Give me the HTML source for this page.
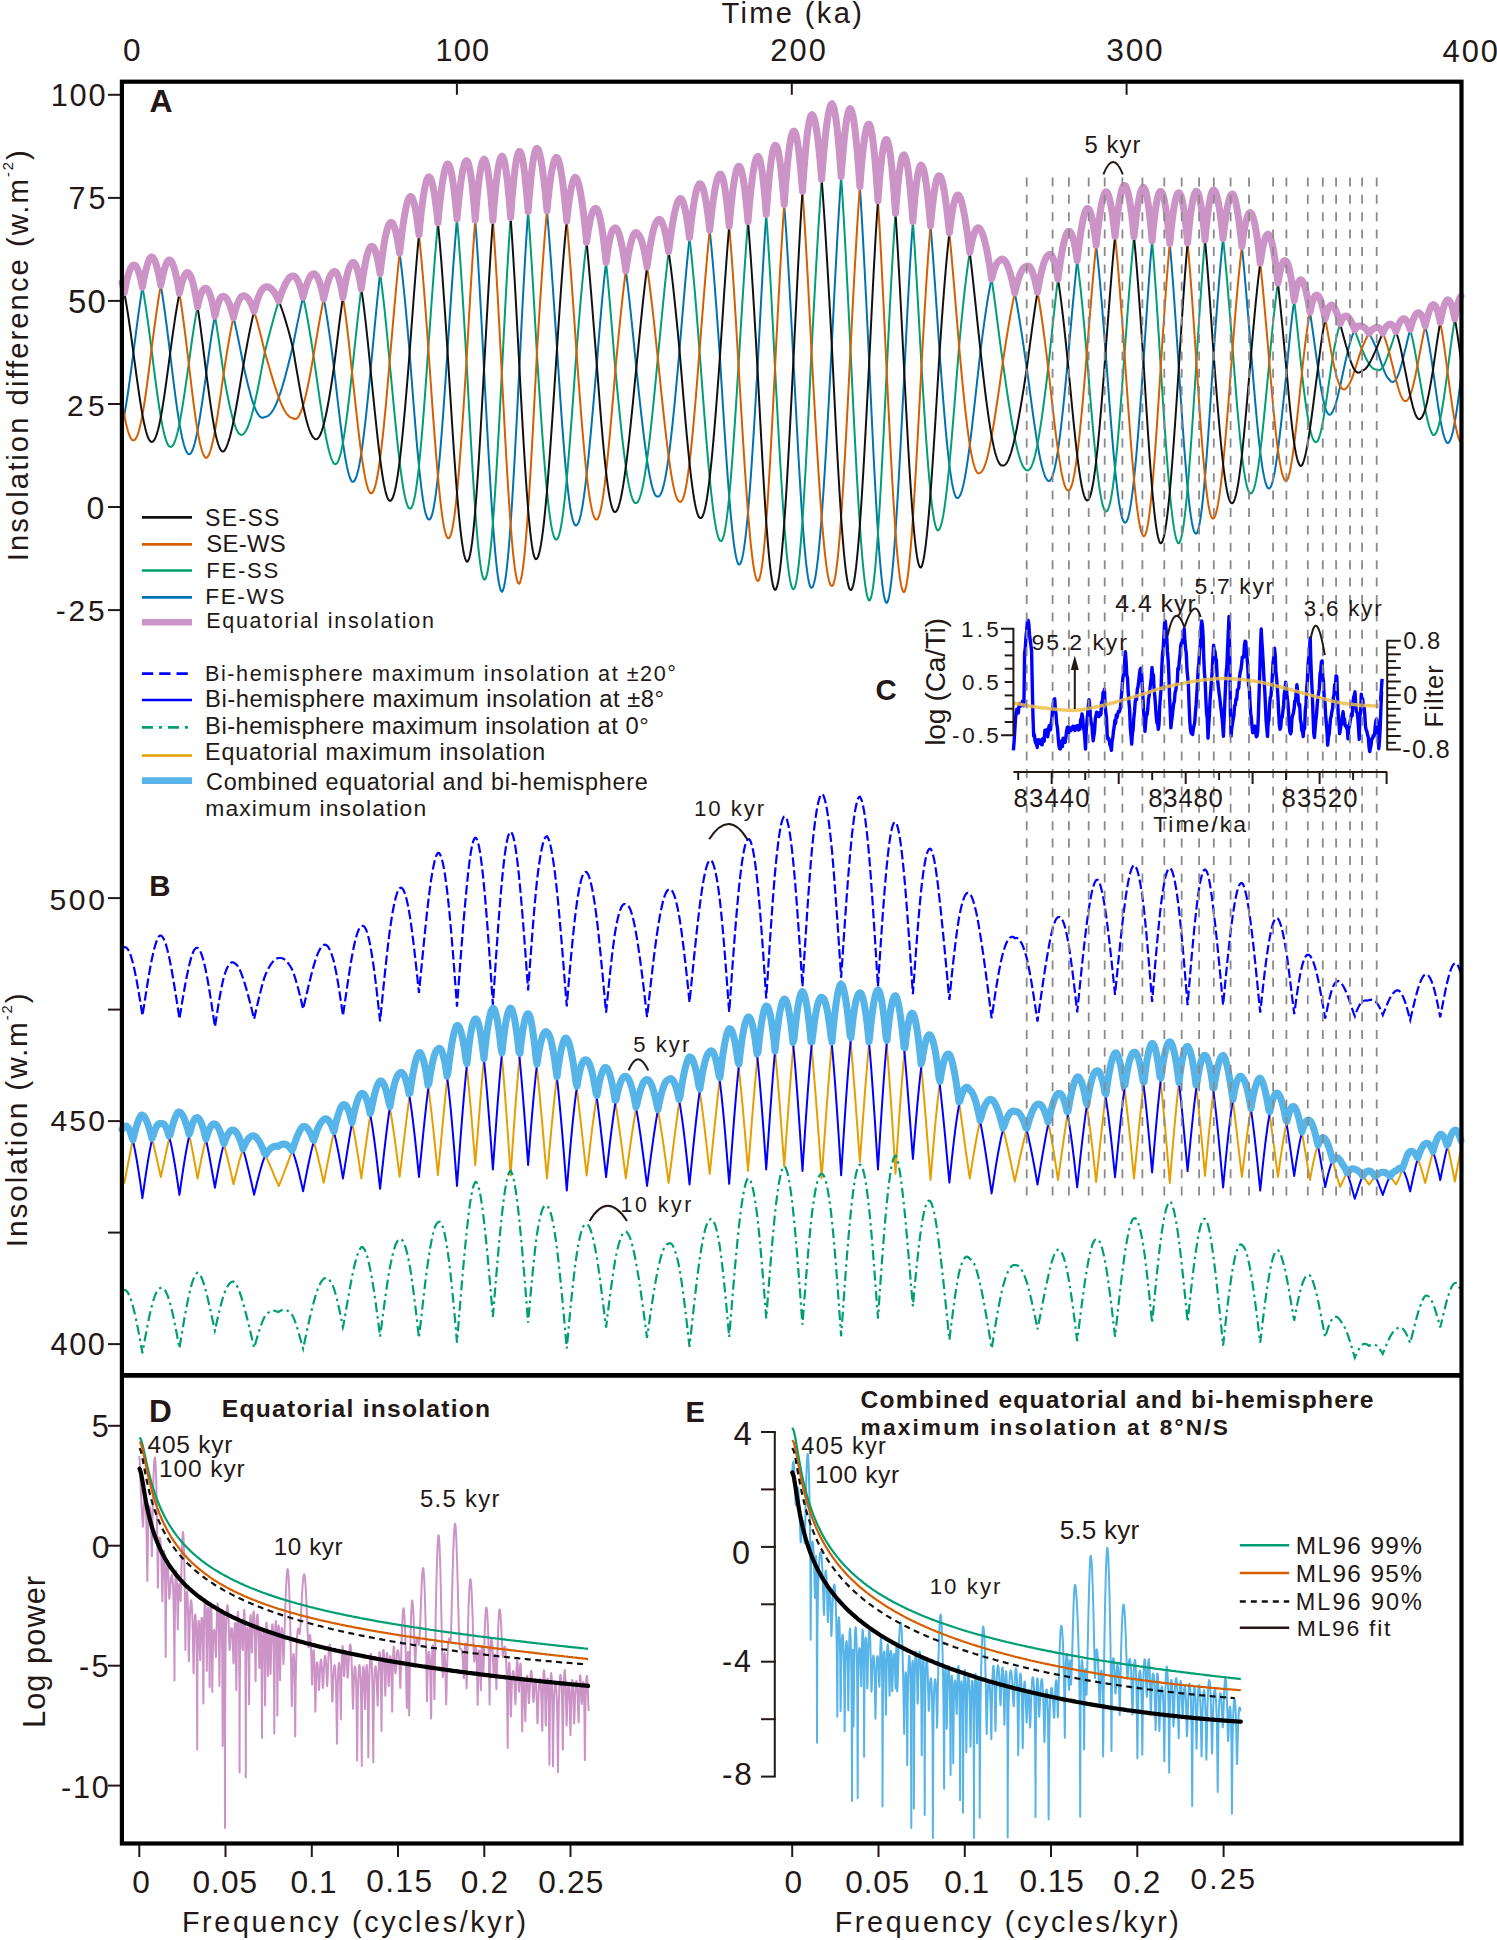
<!DOCTYPE html><html><head><meta charset="utf-8"><style>html,body{margin:0;padding:0;background:#fff}svg{display:block}text{font-family:"Liberation Sans",sans-serif;fill:#231815}</style></head><body>
<svg width="1497" height="1940" viewBox="0 0 1497 1940">
<g fill="none" stroke-width="2" stroke-linejoin="round">
<path stroke="#0072b2" d="M122,425.9 123,421.5 124,416.6 124.3,415.1 125,411.2 126,405.3 127,399.1 128,392.5 129,385.6 130,378.4 131,371 132,363.5 133,355.8 134,348.1 135,340.3 136,332.6 137,324.9 138,317.4 139,310.1 140,303.1 141,296.4 142,290.1 142.4,287.3 143,284.2 144,278.7 145,273.8 146,269.5 147,265.7 148,262.5 149,260 150,258.2 151,257 152,256.9 153,257.7 154,259.2 155,261.3 156,264 157,267.4 158,271.4 159,275.9 160,281 160.8,285.4 161,286.6 162,292.6 163,299.1 164,306 165,313.2 166,320.7 167,328.4 168,336.3 169,344.3 170,352.6 171,360.9 172,369.2 173,377.4 174,385.4 175,393.1 176,400.6 177,407.8 178,414.5 179,420.9 179.4,423.6 180,426.7 181,432.1 182,437 183,441.3 184,445 185,448.2 186,450.7 187,452.5 188,453.8 189,454.3 190,454 191,453 192,451.3 193,448.9 194,445.9 195,442.3 196,438.1 197,433.3 197.6,430.5 198,428.1 199,422.5 200,416.5 201,410.1 202,403.5 203,396.7 204,389.7 205,382.6 206,375.3 207,367.8 208,360.3 209,353 210,345.9 211,339.1 212,332.6 213,326.6 214,321 214.9,316.2 215,315.9 216,311.4 217,307.4 218,304 219,301.1 220,299 221,297.4 222,296.6 223,296.3 224,296.5 225,296.9 226,297.8 227,299.1 228,300.9 229,303.1 230,305.7 231,308.7 232,312 233,315.7 233.5,317.6 234,319.6 235,323.8 236,328.3 237,332.9 238,337.7 239,342.6 240,347.6 241,352.7 242,357.8 243,362.9 244,367.7 245,372.2 246,376.6 247,380.8 248,384.9 249,388.8 250,392.6 251,396.2 252,399.6 253,402.7 254,405.6 254.1,405.8 255,408.2 256,410.5 257,412.5 258,414.2 259,415.6 260,416.6 261,417.3 262,417.7 263,417.7 264,417.3 265,416.8 266,416.7 267,416.4 268,415.9 269,415.1 270,414.2 271,413.1 272,411.7 273,410.2 274,408.4 275,406.5 276,404.3 277,402 278,399.4 278.8,397.4 279,396.7 280,393.9 281,390.9 282,387.7 283,384.3 284,380.9 285,377.3 286,373.6 287,369.7 288,365.8 289,361.8 290,357.8 291,353.8 292,349.8 293,345.5 294,340.5 295,335.4 296,330.4 297,325.4 298,320.4 299,315.6 300,310.8 301,306.2 302,301.8 303,297.7 303.1,297.3 304,293.7 305,290.1 306,286.7 307,283.7 308,281.1 309,278.8 310,276.9 311,275.5 312,274.5 313,273.9 314,273.8 315,274.2 316,275.1 317,276.5 318,278.5 319,280.9 320,283.8 321,287.2 322,291.1 323,295.5 323.7,298.9 324,300.4 325,305.7 326,311.4 327,317.5 328,324 329,330.8 330,337.9 331,345.2 332,352.8 333,360.6 334,368.4 335,377.1 336,385.8 337,394.5 338,403.1 339,411.6 340,419.9 341,427.9 342,435.6 342.9,442.5 343,442.9 344,449.7 345,456 346,461.7 347,466.8 348,471.3 349,475 350,478 351,480.2 352,481.6 353,481.8 354,481.3 355,479.9 356,477.8 357,474.8 358,471.1 359,466.6 360,461.3 361,455.3 361.3,453.4 362,448.6 363,441.3 364,433.4 365,424.9 366,416 367,406.6 368,396.8 369,386.7 370,376.3 371,365.9 372,355.4 373,344.7 374,334 375,323.4 376,313 377,302.8 378,293 379,283.5 380,274.5 380.1,273.7 381,266.1 382,258.2 383,251 384,244.5 385,238.8 386,233.8 387,229.7 388,226.5 389,224.2 390,222.8 391,222.3 392,222.6 393,223.8 394,225.9 395,228.9 396,232.7 397,237.4 398,242.8 399,249.1 399.6,253.2 400,256.1 401,263.9 402,272.3 403,281.4 404,291 405,301.2 406,311.8 407,322.8 408,334.1 409,345.7 410,357.9 411,370.8 412,383.7 413,396.6 414,409.2 415,421.6 416,433.6 417,445.2 418,456.2 419,466 419,466.5 420,476.1 421,485 422,492.9 423,499.9 424,505.9 425,510.9 426,514.7 427,517.4 428,519 429,519.6 430,519.2 431,517.6 432,514.9 433,511 434,505.9 435,499.8 436,492.6 437,484.3 437.9,476 438,475.1 439,464.9 440,453.8 441,442 442,429.3 443,416.1 444,402.3 445,388 446,373.3 447,358.3 448,343.4 449,328.4 450,313.4 451,298.6 452,284.1 453,269.9 454,256.2 455,243.1 456,230.6 457,218.9 458,208 459,198.1 460,189.2 461,181.3 462,174.7 463,169.2 464,165 465,162.2 466,160.8 467,160.7 468,162.3 469,165.4 470,170.2 471,176.5 472,184.4 473,193.8 474,204.6 475,216.8 475.2,220 476,230.2 477,244.8 478,260.4 479,277 480,294.4 481,312.5 482,331.1 483,350.1 484,369.4 485,388.2 486,407 487,425.5 488,443.7 489,461.4 490,478.5 491,494.8 492,510.1 492.9,523.1 493,524.5 494,537.7 495,549.7 496,560.4 497,569.6 498,577.3 499,583.5 500,588 501,590.9 502,591.9 503,590.2 504,586.8 505,581.7 506,574.9 507,566.6 508,556.7 509,545.3 510,532.6 510.6,524.3 511,518.6 512,503.4 513,487.2 514,470 515,452.1 516,433.6 517,414.5 518,395.1 519,375.5 520,355.5 521,335.4 522,315.8 523,296.7 524,278.2 525,260.5 526,243.8 527,228.1 528,213.6 528.1,211.5 529,200.3 530,188.4 531,177.9 532,168.9 533,161.5 534,155.8 535,151.6 536,149.1 537,148.3 538,149.2 539,151.6 540,155.3 541,160.2 542,166.1 543,173.2 544,181.3 545,190.4 546,200.4 547,210.7 547,211.3 548,222.9 549,235.2 550,248.1 551,261.6 552,275.5 553,289.7 554,304.2 555,318.9 556,333.6 557,348.3 558,363.8 559,379 560,393.8 561,408.3 562,422.2 563,435.5 564,448.2 565,460.1 566,471.1 566.8,478.8 567,481.3 568,490.5 569,498.7 570,505.9 571,512 572,517 573,520.8 574,523.5 575,525.1 576,525.5 577,525 578,523.7 579,521.4 580,518.1 581,513.9 582,508.8 583,502.8 584,496 585,488.4 586,480.1 586.6,474.4 587,471.2 588,461.8 589,451.8 590,441.4 591,430.6 592,419.6 593,408.3 594,396.9 595,385.4 596,373.7 597,361.8 598,349.1 599,336.7 600,324.6 601,312.9 602,301.7 603,291 604,281 605,271.8 606,263.3 606.1,262.5 607,255.6 608,248.8 609,243 610,238.1 611,234.1 612,231.2 613,229.4 614,228.5 615,227.8 616,228.1 617,229.2 618,231.1 619,233.8 620,237.2 621,241.3 622,246.2 623,251.7 624,257.9 625,264.6 625.8,270.8 626,271.9 627,279.7 628,288 629,296.7 630,305.8 631,315.2 632,324.8 633,334.6 634,344.6 635,354.7 636,364.8 637,374.7 638,384.4 639,393.8 640,402.9 641,411.9 642,420.7 643,429.2 644,437.4 645,445.2 646,452.6 647,459.5 647,459.9 648,466 649,471.9 650,477.3 651,482.1 652,486.2 653,489.7 654,492.5 655,494.6 656,495.9 657,496.6 658,496.6 659,496.4 660,495.3 661,493.6 662,491.1 663,487.9 664,484 665,479.3 666,474 667,468 668,461.3 668.6,456.7 669,454.1 670,446.2 671,437.8 672,428.9 673,419.5 674,409.7 675,399.5 676,388.9 677,378.1 678,367.1 679,355.8 680,344.2 681,332.2 682,320.3 683,308.4 684,296.6 685,285.1 686,273.8 687,262.9 688,252.5 689,242.5 689.5,237.8 690,233.1 691,224.4 692,216.4 693,209.1 694,202.7 695,197.1 696,192.4 697,188.6 698,185.9 699,184.2 700,183.7 701,184.3 702,185.8 703,188.3 704,191.8 705,196.3 706,201.8 707,208.3 708,215.6 709,223.9 709.7,230.2 710,233 711,243 712,253.6 713,265 714,277 715,289.6 716,302.7 717,316.3 718,330.2 719,344.4 720,358.9 721,374.9 722,390.9 723,406.8 724,422.4 725,437.8 726,452.8 727,467.2 728,480.9 729,494 729.2,496.5 730,506.1 731,517.4 732,527.6 733,536.7 734,544.6 735,551.3 736,556.7 737,560.8 738,563.5 739,564.6 740,564.1 741,562.2 742,559 743,554.4 744,548.5 745,541.3 746,532.9 747,523.2 748,512.4 749,500.6 750,487.7 751,473.9 752,459.3 753,443.9 754,428 755,411.5 756,394.6 757,377.4 758,359.2 759,340.1 760,321.1 761,302.3 762,284.1 763,266.4 764,249.4 765,233.3 766,218.2 766.2,214.6 767,204.3 768,191.6 769,180.2 770,170.3 771,162 772,155.3 773,150.3 774,147 775,145.3 776,145.4 777,147 778,150.3 779,155.2 780,161.6 781,169.5 782,178.9 783,189.7 784,201.8 784.2,204.4 785,215.1 786,229.6 787,245 788,261.4 789,278.6 790,296.4 791,314.8 792,333.6 793,352.6 794,371.9 795,391.3 796,410.5 797,429.4 798,447.8 799,465.6 800,482.7 801,498.9 802,514 802.5,520.5 803,528 804,540.8 805,552.2 806,562.2 807,570.7 808,577.5 809,582.7 810,586.1 811,587.8 812,587.8 813,586.3 814,583.3 815,579 816,573.3 817,566.2 818,557.9 819,548.2 820,537.4 821,525.4 821.6,517 822,512.3 823,498.3 824,483.2 825,467.4 826,450.8 827,433.5 828,415.7 829,397.5 830,378.9 831,360 832,340.8 833,320.9 834,301 835,281.5 836,262.5 837,244 838,226.3 839,209.4 840,193.5 841,178.6 841.1,176.5 842,165 843,152.6 844,141.6 845,132.1 846,124.1 847,117.6 848,112.8 849,109.7 850,108.7 851,109.6 852,112.1 853,116.2 854,122.1 855,129.5 856,138.5 857,149 858,161 859,174.3 859.9,186.6 860,188.9 861,204.6 862,221.4 863,239.1 864,257.7 865,276.9 866,296.7 867,317 868,337.5 869,358.2 870,379.8 871,401.5 872,422.8 873,443.5 874,463.6 875,482.8 876,501 877,518 878,533 878,533.8 879,548.2 880,561.1 881,572.4 882,582 883,589.9 884,596 885,600.2 886,602.6 887,602.9 888,600.8 889,596.9 890,591.2 891,583.9 892,574.8 893,564.3 894,552.2 895,538.9 895.5,531.7 896,524.3 897,508.5 898,491.8 899,474.3 900,456.1 901,437.3 902,418.2 903,398.8 904,379.4 905,359.4 906,339.3 907,319.8 908,300.8 909,282.6 910,265.3 911,249.1 912,234 912.9,221.6 913,220.2 914,207.8 915,196.9 916,187.5 917,179.7 918,173.5 919,169 920,166.2 921,165.1 922,165.7 923,167.8 924,171.3 925,176.2 926,182.5 927,190 928,198.8 929,208.6 930,219.4 930.5,225.7 931,231.1 932,243.6 933,256.8 934,270.6 935,284.8 936,299.3 937,314 938,328.7 939,343.5 940,357.7 941,371.2 942,384.4 943,397.3 944,409.7 945,421.6 946,432.8 947,443.3 948,453 949,461.9 949.4,464.8 950,469.9 951,476.9 952,483 953,488 954,492.1 955,495.1 956,497.2 957,498.1 958,498.1 959,497.1 960,495.5 961,493.3 962,490.3 963,486.5 964,482.1 965,477 966,471.3 967,465 968,458.2 969,450.9 969.8,444.8 970,443.2 971,435.2 972,426.8 973,418.2 974,409.4 975,400.4 976,391.4 977,382.3 978,373.3 979,364.3 980,355.4 981,347.1 982,339.3 983,331.6 984,324.3 985,317.1 986,310.3 987,303.8 988,297.7 989,292 990,286.7 991,281.8 991.6,278.9 992,277.5 993,273.6 994,270.2 995,267.3 996,264.9 997,263.1 998,261.8 999,261.1 1000,260.3 1001,259.4 1002,259.1 1003,259.2 1004,259.8 1005,260.9 1006,262.4 1007,264.3 1008,266.7 1009,269.5 1010,272.6 1011,276.2 1012,280.1 1013,284.4 1014,289 1014.8,293 1015,294 1016,299.2 1017,304.7 1018,310.5 1019,316.5 1020,322.8 1021,329.2 1022,335.7 1023,342.4 1024,349.2 1025,356 1026,362.9 1027,369.6 1028,377.2 1029,384.7 1030,392.3 1031,399.7 1032,407.1 1033,414.3 1034,421.4 1035,428.2 1036,434.8 1037,441 1037.5,444 1038,447 1039,452.5 1040,457.6 1041,462.3 1042,466.6 1043,470.3 1044,473.5 1045,476.2 1046,478.3 1047,479.8 1048,480.7 1049,481 1050,480.5 1051,479.3 1052,477.3 1053,474.6 1054,471.1 1055,466.8 1056,461.9 1057,456.2 1058,450.2 1058,449.9 1059,442.9 1060,435.3 1061,427.1 1062,418.4 1063,409.2 1064,399.6 1065,389.6 1066,379.3 1067,368.7 1068,357.9 1069,346.8 1070,335.6 1071,324.5 1072,313.4 1073,302.6 1074,292 1075,281.7 1076,271.8 1077,262.5 1077.2,260.6 1078,253.6 1079,245.4 1080,237.9 1081,231 1082,225 1083,219.9 1084,215.6 1085,212.2 1086,209.8 1087,208.5 1088,208.4 1089,209.4 1090,211.3 1091,214.3 1092,218.3 1093,223.3 1094,229.2 1095,236.1 1096,243.9 1096.1,245.1 1097,252.5 1098,261.8 1099,271.9 1100,282.7 1101,294.1 1102,305.9 1103,318.3 1104,330.9 1105,343.9 1106,357 1107,370.3 1108,383.7 1109,396.9 1110,409.9 1111,422.6 1112,434.9 1113,446.6 1114,457.8 1115,468.3 1115,468.8 1116,478.1 1117,487 1118,495.1 1119,502.2 1120,508.3 1121,513.4 1122,517.4 1123,520.3 1124,522.1 1125,522.7 1126,522.3 1127,520.7 1128,518 1129,514.2 1130,509.2 1131,503.2 1132,496.2 1133,488.1 1134,479.2 1135,469.4 1136,458.8 1137,447.4 1138,435.5 1139,422.9 1140,409.9 1141,396.5 1142,382.8 1143,368.9 1144,354.1 1145,338.5 1146,323.1 1147,308.1 1148,293.5 1149,279.4 1150,266 1151,253.5 1152,241.8 1152.1,240.7 1153,231.2 1154,221.6 1155,213.3 1156,206.2 1157,200.4 1158,196 1159,193 1160,191.5 1161,191.4 1162,192.5 1163,195 1164,198.7 1165,203.7 1166,210 1167,217.4 1168,226 1169,235.6 1169.8,243.5 1170,246.2 1171,257.7 1172,270.1 1173,283.1 1174,296.8 1175,311.1 1176,325.7 1177,340.7 1178,355.9 1179,371.1 1180,386.4 1181,401.5 1182,416.2 1183,430.6 1184,444.4 1185,457.5 1186,469.8 1187,481.4 1187.6,487.8 1188,491.9 1189,501.4 1190,509.8 1191,517 1192,523 1193,527.7 1194,531.1 1195,533.1 1196,533.8 1197,532.9 1198,530.5 1199,526.6 1200,521.4 1201,514.9 1202,507.1 1203,498.1 1204,488.1 1205,476.9 1206,464.9 1207,452 1208,438.4 1209,424.2 1210,409.4 1211,394.4 1212,379 1213,363.5 1214,348.6 1215,334.7 1216,321 1217,307.8 1218,294.9 1219,282.5 1220,270.7 1221,259.5 1222,249 1223,239.3 1223.1,238.4 1224,230.4 1225,222.4 1226,215.3 1227,209.2 1228,204.1 1229,200 1230,196.9 1231,194.9 1232,194 1233,194.2 1234,196.1 1235,199.2 1236,203.4 1237,208.5 1238,214.6 1239,221.6 1240,229.5 1241,238.1 1241.9,246.5 1242,247.5 1243,257.4 1244,268 1245,279 1246,290.5 1247,302.3 1248,314.2 1249,326.4 1250,338.6 1251,350.8 1252,363.3 1253,375.7 1254,387.7 1255,399.5 1256,410.7 1257,421.5 1258,431.6 1259,441.1 1260,449.8 1260.2,451.9 1261,457.7 1262,464.8 1263,471.1 1264,476.4 1265,480.8 1266,484.2 1267,486.6 1268,488.1 1269,488.6 1270,488 1271,486.3 1272,483.7 1273,480.1 1274,475.5 1275,470.2 1276,464 1277,457.2 1277.9,450.1 1278,449.7 1279,441.7 1280,433.2 1281,424.3 1282,415.1 1283,405.7 1284,396.1 1285,386.5 1286,377 1287,366.8 1288,355.9 1289,345.4 1290,335.4 1291,326 1292,317.3 1293,309.4 1294,302.3 1294.2,300.6 1295,296.1 1296,290.8 1297,286.5 1298,283.3 1299,281.1 1300,279.9 1301,279.7 1302,280.5 1303,282 1304,284.3 1305,287.4 1306,291.2 1307,295.7 1308,300.8 1309,306.4 1310,312.2 1310,312.5 1311,319 1312,325.7 1313,332.7 1314,339.8 1315,347 1316,354.1 1317,361.2 1318,368 1319,375.2 1320,381.8 1321,388 1322,393.6 1323,398.7 1324,403.2 1325,406.9 1325.2,407.7 1326,409.9 1327,412.2 1328,413.8 1329,414.6 1330,414.7 1331,414 1332,412.7 1333,410.9 1334,408.7 1335,406 1336,402.8 1337,399.2 1338,395.3 1339,391.1 1340,386.7 1340.2,386.1 1341,382.2 1342,377.5 1343,372.8 1344,368.1 1345,363.5 1346,359 1347,354.7 1348,350.6 1349,346.7 1350,343 1351,339.6 1352,336.5 1353,333.8 1354,331.5 1354.8,330 1355,329.6 1356,328.1 1357,326.9 1358,326.2 1359,325.9 1360,325.9 1361,326.2 1362,326.4 1363,326.7 1364,327.2 1365,328 1366,329 1367,330.2 1368,331.6 1369,333.2 1369.1,333.4 1370,335 1371,336.9 1372,338.9 1373,340.9 1374,343.1 1375,345.3 1376,347.4 1377,349.9 1378,352.9 1379,356 1380,359.1 1381,362.1 1382,365.1 1382.8,367.2 1383,367.9 1384,370.5 1385,372.9 1386,375 1387,376.8 1388,378.2 1389,379.2 1390,380.5 1391,381.4 1392,381.9 1393,381.9 1394,381.5 1395,380.7 1396,379.4 1396,379.4 1397,377.6 1398,375.4 1399,372.8 1400,369.7 1401,366.4 1402,362.7 1403,358.8 1404,354.8 1405,350.6 1406,346.4 1407,342.2 1408,338 1409,334 1410,330.1 1410.2,329.5 1411,326.5 1412,323.2 1413,320.2 1414,317.7 1415,315.7 1416,314.2 1417,313.2 1418,312.7 1419,312.8 1420,313.4 1421,314.6 1422,316.4 1423,318.7 1424,321.7 1425,325.2 1425.2,326 1426,329.2 1427,333.8 1428,338.8 1429,344.3 1430,350.2 1431,356.4 1432,362.9 1433,369.8 1434,377 1435,384.2 1436,391.4 1437,398.4 1438,405.1 1439,411.6 1440,417.6 1440.2,419 1441,423.1 1442,428.1 1443,432.5 1444,436.2 1445,439.2 1446,441.4 1447,442.8 1448,443.1 1449,442.3 1450,440.6 1451,438.2 1452,434.9 1453,430.9 1454,426.2 1454.8,421.9 1455,420.8 1456,414.8 1457,408.3 1458,401.3 1459,393.9 1460,386.1 1461,378.3"/>
<path stroke="#009e73" d="M122,306.4 123,300.2 124,294.4 124.3,292.8 125,289 126,284 127,279.6 128,275.7 129,272.4 130,269.7 131,267.6 132,266.1 133,265.3 134,265.1 135,265.3 136,266.2 137,267.8 138,270.1 139,272.9 140,276.4 141,280.5 142,285.1 142.4,287.3 143,290.2 144,295.9 145,302 146,308.5 147,315.4 148,322.5 149,330 150,337.6 151,345.3 152,353.3 153,361.3 154,369.2 155,377 156,384.6 157,392 158,399.1 159,405.9 160,412.2 160.8,417 161,418.2 162,423.7 163,428.6 164,433.1 165,436.9 166,440.2 167,442.8 168,444.8 169,446.1 170,446.8 171,446.9 172,446.4 173,445.2 174,443.4 175,441 176,438 177,434.5 178,430.4 179,425.8 179.4,423.6 180,420.7 181,415.3 182,409.4 183,403.2 184,396.8 185,390.1 186,383.2 187,376.3 188,369.3 189,362.3 190,354.8 191,347.4 192,340.2 193,333.3 194,326.8 195,320.6 196,314.8 197,309.5 197.6,306.8 198,304.7 199,300.5 200,296.9 201,293.9 202,291.5 203,289.9 204,288.8 205,288.3 206,288.2 207,288.8 208,290.1 209,292.1 210,294.7 211,298 212,301.8 213,306.2 214,311.1 214.9,316.2 215,316.5 216,322.2 217,328.4 218,334.8 219,341.5 220,348.4 221,355.5 222,362.6 223,369.7 224,376.3 225,381.9 226,387.4 227,392.7 228,397.8 229,402.8 230,407.4 231,411.8 232,415.8 233,419.6 233.5,421.3 234,422.9 235,425.9 236,428.4 237,430.6 238,432.3 239,433.6 240,434.5 241,434.9 242,434.8 243,434.3 244,433.5 245,432.2 246,430.7 247,428.7 248,426.5 249,423.9 250,420.9 251,417.7 252,414.1 253,410.3 254,406.3 254.1,405.8 255,402 256,397.4 257,392.7 258,387.8 259,382.8 260,377.6 261,372.4 262,367.1 263,361.7 264,356.3 265,351.2 266,347.4 267,343.5 268,339.6 269,335.8 270,331.9 271,328.1 272,324.4 273,320.7 274,317 275,313.5 276,310 277,306.6 278,303.4 278.8,301.1 279,300.3 280,297.3 281,294.5 282,291.8 283,289.3 284,287 285,284.8 286,282.8 287,281.1 288,279.5 289,278.1 290,277 291,276.4 292,276 293,275.9 294,276.1 295,276.8 296,277.8 297,279.3 298,281.2 299,283.5 300,286.3 301,289.4 302,292.9 303,296.8 303.1,297.3 304,301.1 305,305.8 306,310.7 307,316 308,321.5 309,327.3 310,333.3 311,339.5 312,345.9 313,352.4 314,359.2 315,366.1 316,373.2 317,380.2 318,387.2 319,394.1 320,401 321,407.6 322,414.1 323,420.3 323.7,424.5 324,426.3 325,431.9 326,437.3 327,442.2 328,446.7 329,450.8 330,454.4 331,457.5 332,460.1 333,462.1 334,463.6 335,464.2 336,464 337,463.1 338,461.4 339,459 340,455.9 341,452 342,447.4 342.9,442.5 343,442.2 344,436.4 345,429.9 346,422.9 347,415.4 348,407.5 349,399.2 350,390.5 351,381.5 352,372.2 353,362.8 354,353.3 355,343.9 356,334.5 357,325.3 358,316.3 359,307.5 360,299.2 361,291.2 361.3,288.9 362,283.7 363,276.8 364,270.4 365,264.7 366,259.7 367,255.4 368,252 369,249.3 370,247.5 371,246.5 372,246.4 373,246.8 374,248 375,250.1 376,253 377,256.8 378,261.4 379,266.8 380,273 380.1,273.7 381,279.9 382,287.5 383,295.8 384,304.6 385,314 386,323.8 387,334 388,344.6 389,355.5 390,366.2 391,376.8 392,387.3 393,397.8 394,408.3 395,418.5 396,428.6 397,438.3 398,447.6 399,456.5 399.6,461.6 400,464.8 401,472.6 402,479.8 403,486.3 404,492 405,497 406,501.1 407,504.4 408,506.8 409,508.2 410,508.7 411,508.3 412,506.8 413,504.1 414,500.3 415,495.5 416,489.5 417,482.5 418,474.5 419,466 419,465.5 420,455.7 421,444.9 422,433.4 423,421.2 424,408.3 425,394.9 426,381.1 427,366.9 428,352.4 429,338.4 430,324.4 431,310.5 432,296.7 433,283.1 434,269.8 435,256.9 436,244.6 437,232.8 437.9,222.8 438,221.7 439,211.4 440,201.8 441,193.3 442,185.6 443,179.1 444,173.6 445,169.2 446,166.1 447,164.2 448,164 449,165.1 450,167.5 451,171.1 452,176.1 453,182.3 454,189.7 455,198.3 456,208 457,218.9 458,230.7 459,243.5 460,257.2 461,271.6 462,286.8 463,302.5 464,318.8 465,335.5 466,352.5 467,370.3 468,388.8 469,407.1 470,425.3 471,443 472,460.1 473,476.6 474,492.2 475,506.9 475.2,510.4 476,520.5 477,533 478,544.1 479,553.9 480,562.2 481,569 482,574.2 483,577.7 484,579.6 485,579.5 486,577.7 487,574.3 488,569.3 489,562.7 490,554.6 491,545.1 492,534.1 492.9,523.1 493,521.8 494,508.3 495,493.7 496,478.1 497,461.6 498,444.3 499,426.4 500,408 501,389.3 502,370.1 503,350.4 504,330.8 505,311.6 506,292.9 507,274.9 508,257.6 509,241.3 510,226 510.6,217.4 511,211.9 512,199 513,187.6 514,177.5 515,169.1 516,162.2 517,157 518,153.5 519,151.6 520,151.5 521,153.2 522,156.6 523,161.7 524,168.4 525,176.6 526,186.3 527,197.3 528,209.6 528.1,211.5 529,223 530,237.4 531,252.7 532,268.7 533,285.4 534,302.5 535,320 536,337.6 537,355 538,370.6 539,386.1 540,401.3 541,416 542,430.3 543,444 544,457 545,469.3 546,480.8 547,490.9 547,491.4 548,501.1 549,509.8 550,517.4 551,523.9 552,529.4 553,533.7 554,536.8 555,538.8 556,539.6 557,539.2 558,537.9 559,535.3 560,531.6 561,526.7 562,520.7 563,513.7 564,505.6 565,496.6 566,486.8 566.8,478.8 567,476.1 568,464.7 569,452.7 570,440.2 571,427.1 572,413.8 573,400.1 574,386.2 575,372.3 576,358.6 577,345.4 578,332.9 579,320.5 580,308.5 581,296.9 582,285.8 583,275.3 584,265.3 585,256 586,247.4 586.6,242.3 587,239.6 588,232.6 589,226.5 590,221.2 591,216.8 592,213.4 593,210.9 594,209.3 595,208.5 596,208.4 597,209.2 598,211.1 599,214 600,218 601,223 602,228.9 603,235.8 604,243.6 605,252.2 606,261.5 606.1,262.5 607,271.5 608,282 609,293.1 610,304.6 611,316.5 612,328.6 613,340.9 614,353.2 615,365.1 616,376.2 617,386.7 618,397.1 619,407.2 620,417.1 621,426.6 622,435.8 623,444.6 624,452.9 625,460.7 625.8,466.9 626,467.9 627,474.6 628,480.6 629,485.9 630,490.6 631,494.6 632,497.8 633,500.2 634,502 635,502.9 636,503.1 637,502.6 638,501.5 639,499.6 640,497 641,493.7 642,489.7 643,485.1 644,479.8 645,473.9 646,467.3 647,460.2 647,459.9 648,452.6 649,444.5 650,435.9 651,426.9 652,417.5 653,407.8 654,397.9 655,387.7 656,377.3 657,366.8 658,356.2 659,345.7 660,335.3 661,324.9 662,314.5 663,304.3 664,294.3 665,284.5 666,275.1 667,265.9 668,257.2 668.6,251.8 669,248.9 670,241.1 671,233.9 672,227.2 673,221.1 674,215.7 675,211 676,207 677,203.7 678,201.1 679,199.4 680,198.4 681,198.6 682,199.7 683,201.8 684,204.9 685,208.8 686,213.7 687,219.5 688,226.2 689,233.7 689.5,237.8 690,242 691,251.1 692,260.9 693,271.3 694,282.3 695,293.9 696,305.9 697,318.3 698,331 699,344.1 700,357.3 701,370.5 702,383.8 703,397 704,410 705,422.8 706,435.4 707,447.5 708,459.2 709,470.3 709.7,477.8 710,480.9 711,490.8 712,499.9 713,508.3 714,515.8 715,522.4 716,528.1 717,532.8 718,536.5 719,539.1 720,540.7 721,541.2 722,540.4 723,538.2 724,534.7 725,530 726,523.9 727,516.6 728,508.1 729,498.5 729.2,496.5 730,487.8 731,476.1 732,463.5 733,450 734,435.8 735,420.9 736,405.5 737,389.6 738,373.5 739,357.2 740,340.8 741,324.6 742,308.5 743,292.6 744,277.2 745,262.3 746,248 747,234.4 748,221.6 749,209.8 750,198.9 751,189.1 752,180.5 753,173.1 754,167 755,162.3 756,158.9 757,156.9 758,156.4 759,157.5 760,160.3 761,164.8 762,171 763,178.8 764,188.1 765,199 766,211.3 766.2,214.6 767,225 768,239.9 769,255.8 770,272.8 771,290.7 772,309.2 773,328.4 774,347.9 775,367.7 776,386.3 777,404.8 778,423.1 779,441 780,458.5 781,475.3 782,491.4 783,506.6 784,520.8 784.2,523.5 785,534 786,545.9 787,556.5 788,565.8 789,573.6 790,579.9 791,584.6 792,587.7 793,589.2 794,588.9 795,587 796,583.3 797,577.9 798,570.8 799,562.1 800,551.8 801,540.1 802,526.9 802.5,520.5 803,512.3 804,496.5 805,479.6 806,461.7 807,443 808,423.5 809,403.3 810,382.8 811,361.9 812,342.1 813,323.5 814,305 815,286.8 816,268.9 817,251.4 818,234.6 819,218.3 820,202.9 821,188.2 821.6,179.2 822,174.5 823,161.9 824,150.3 825,139.8 826,130.6 827,122.7 828,116.1 829,110.9 830,107 831,104.6 832,103.8 833,105.2 834,108.3 835,113.1 836,119.5 837,127.6 838,137.1 839,148.2 840,160.6 841,174.3 841.1,176.5 842,189.3 843,205.4 844,222.4 845,240.4 846,259.1 847,278.4 848,298.2 849,318.4 850,339.1 851,359.9 852,380.6 853,401.2 854,421.4 855,441.1 856,460.1 857,478.4 858,495.7 859,512.1 859.9,525.1 860,527.3 861,541.3 862,554 863,565.3 864,575.1 865,583.4 866,590.1 867,595.2 868,598.6 869,600.4 870,600 871,597.7 872,593.5 873,587.4 874,579.6 875,570.1 876,559 877,546.3 878,533 878,532.3 879,517 880,500.5 881,483 882,464.6 883,445.5 884,425.9 885,405.9 886,385.6 887,365.3 888,344.9 889,324.8 890,305.3 891,286.4 892,268.3 893,251.2 894,235.1 895,220.3 895.5,213.3 896,206.7 897,194.6 898,183.9 899,174.9 900,167.5 901,161.7 902,157.7 903,155.4 904,154.9 905,156 906,158.7 907,163.2 908,169.4 909,177.2 910,186.6 911,197.4 912,209.6 912.9,221.6 913,223 914,237.4 915,252.8 916,269.1 917,286 918,303.4 919,321.1 920,339.1 921,357.1 922,374.4 923,390.8 924,406.7 925,422.1 926,436.8 927,450.8 928,463.8 929,475.9 930,487 930.5,492.6 931,496.9 932,505.6 933,513.1 934,519.2 935,524.1 936,527.5 937,529.6 938,530.4 939,529.7 940,528 941,525.3 942,521.5 943,516.7 944,510.9 945,504.1 946,496.4 947,487.8 948,478.5 949,468.4 949.4,464.8 950,457.8 951,446.6 952,434.9 953,422.9 954,410.5 955,398 956,385.3 957,372.6 958,360 959,347.4 960,336.5 961,326 962,315.9 963,306 964,296.6 965,287.7 966,279.3 967,271.4 968,264 969,257.3 969.8,252.4 970,251.3 971,245.9 972,241.2 973,237.2 974,233.9 975,231.3 976,229.4 977,228.2 978,227.8 979,228 980,229 981,230.5 982,232.6 983,235.2 984,238.5 985,242.2 986,246.5 987,251.3 988,256.5 989,262.2 990,268.2 991,274.6 991.6,278.9 992,281.3 993,288.4 994,295.6 995,303.1 996,310.7 997,318.5 998,326.4 999,334.3 1000,341.9 1001,349.2 1002,356.5 1003,363.7 1004,370.7 1005,377.7 1006,384.6 1007,391.3 1008,398 1009,404.5 1010,410.8 1011,416.9 1012,422.8 1013,428.4 1014,433.8 1014.8,437.8 1015,438.8 1016,443.6 1017,447.9 1018,452 1019,455.6 1020,458.9 1021,461.8 1022,464.3 1023,466.3 1024,467.9 1025,469.1 1026,469.9 1027,470.3 1028,470.4 1029,469.9 1030,468.9 1031,467.4 1032,465.2 1033,462.6 1034,459.4 1035,455.6 1036,451.3 1037,446.6 1037.5,444 1038,441.4 1039,435.7 1040,429.6 1041,423.1 1042,416.3 1043,409.1 1044,401.6 1045,393.9 1046,386 1047,377.9 1048,369.7 1049,360.5 1050,350.9 1051,341.3 1052,331.8 1053,322.3 1054,313 1055,304 1056,295.2 1057,286.7 1058,279.1 1058,278.7 1059,271.1 1060,264 1061,257.6 1062,251.7 1063,246.5 1064,242 1065,238.2 1066,235.2 1067,233 1068,231.7 1069,231.2 1070,231.6 1071,232.9 1072,235.1 1073,238.2 1074,242.2 1075,247 1076,252.7 1077,259.2 1077.2,260.6 1078,266.5 1079,274.6 1080,283.3 1081,292.6 1082,302.5 1083,312.9 1084,323.7 1085,334.9 1086,346.4 1087,358.1 1088,370.1 1089,382.2 1090,394.2 1091,406 1092,417.5 1093,428.8 1094,439.6 1095,449.9 1096,459.7 1096.1,461.1 1097,468.8 1098,477.2 1099,484.8 1100,491.6 1101,497.4 1102,502.3 1103,506.2 1104,509.1 1105,510.8 1106,511.5 1107,511.1 1108,509.6 1109,507 1110,503.3 1111,498.5 1112,492.6 1113,485.8 1114,478 1115,469.3 1115,468.8 1116,459.7 1117,449.3 1118,438.2 1119,426.4 1120,414 1121,401.2 1122,387.9 1123,374.4 1124,360.7 1125,347.2 1126,333.6 1127,320.2 1128,307 1129,294 1130,281.4 1131,269.3 1132,257.7 1133,246.8 1134,236.6 1135,227.1 1136,218.6 1137,210.9 1138,204.3 1139,198.7 1140,194.1 1141,190.7 1142,188.5 1143,187.4 1144,187.7 1145,189.4 1146,192.5 1147,197.1 1148,203 1149,210.3 1150,218.8 1151,228.6 1152,239.5 1152.1,240.7 1153,251.5 1154,264.5 1155,278.2 1156,292.8 1157,307.9 1158,323.6 1159,339.6 1160,355.9 1161,371.9 1162,387.2 1163,402.3 1164,417.2 1165,431.6 1166,445.6 1167,459 1168,471.7 1169,483.6 1169.8,491.9 1170,494.6 1171,504.7 1172,513.7 1173,521.6 1174,528.4 1175,533.9 1176,538.2 1177,541.3 1178,543 1179,543.3 1180,541.7 1181,538.8 1182,534.6 1183,529 1184,522.1 1185,514 1186,504.8 1187,494.5 1187.6,487.8 1188,483.2 1189,470.9 1190,457.9 1191,444.2 1192,429.8 1193,415 1194,399.8 1195,384.3 1196,368.8 1197,352.9 1198,336.9 1199,321.3 1200,306 1201,291.3 1202,277.2 1203,263.8 1204,251.3 1205,239.8 1206,229.3 1207,220 1208,211.8 1209,204.8 1210,199.2 1211,194.9 1212,191.9 1213,190.4 1214,190.1 1215,191.1 1216,193.1 1217,196.6 1218,201 1219,206.5 1220,212.9 1221,220.3 1222,228.5 1223,237.4 1223.1,238.4 1224,247.1 1225,257.5 1226,268.4 1227,279.7 1228,291.5 1229,303.6 1230,316 1231,328.5 1232,341 1233,353.6 1234,366.8 1235,379.7 1236,392.2 1237,404.4 1238,416 1239,427 1240,437.4 1241,447 1241.9,455 1242,455.8 1243,463.8 1244,470.9 1245,477.1 1246,482.3 1247,486.6 1248,489.8 1249,492 1250,493.2 1251,493.4 1252,492.8 1253,491.1 1254,488.5 1255,484.9 1256,480.4 1257,474.9 1258,468.7 1259,461.6 1260,453.9 1260.2,451.9 1261,445.5 1262,436.5 1263,427.1 1264,417.3 1265,407.1 1266,396.7 1267,386.1 1268,375.5 1269,365 1270,354.3 1271,343.6 1272,333.3 1273,323.4 1274,314 1275,305.1 1276,297 1277,289.5 1277.9,283.1 1278,282.8 1279,276.9 1280,271.9 1281,267.8 1282,264.6 1283,262.3 1284,260.9 1285,260.5 1286,261.1 1287,262.2 1288,264.5 1289,267.8 1290,272.2 1291,277.5 1292,283.8 1293,290.8 1294,298.6 1294.2,300.6 1295,307 1296,315.8 1297,325.1 1298,334.7 1299,344.5 1300,354.4 1301,364.2 1302,373.8 1303,382.4 1304,390.6 1305,398.4 1306,405.7 1307,412.5 1308,418.7 1309,424.2 1310,428.8 1310,429 1311,433.1 1312,436.5 1313,439 1314,440.8 1315,441.8 1316,442.1 1317,441.6 1318,440.4 1319,438 1320,434.8 1321,430.9 1322,426.3 1323,421.1 1324,415.4 1325,409.3 1325.2,407.7 1326,402.8 1327,396.1 1328,389.2 1329,382.3 1330,375.3 1331,368.5 1332,361.8 1333,355.6 1334,349.9 1335,344.5 1336,339.6 1337,335.1 1338,331 1339,327.4 1340,324.2 1340.2,323.8 1341,321.6 1342,319.5 1343,317.9 1344,316.8 1345,316.2 1346,316 1347,316.2 1348,316.9 1349,317.9 1350,319.4 1351,321.1 1352,323.2 1353,325.5 1354,328 1354.8,330 1355,330.7 1356,333.5 1357,336.3 1358,339.1 1359,341.9 1360,344.6 1361,347.1 1362,349.3 1363,351.6 1364,353.9 1365,356.1 1366,358.2 1367,360.2 1368,362 1369,363.6 1369.1,363.8 1370,365.1 1371,366.4 1372,367.5 1373,368.3 1374,368.9 1375,369.3 1376,369.4 1377,369.8 1378,370.2 1379,370.3 1380,370 1381,369.3 1382,368.3 1382.8,367.2 1383,366.8 1384,365.1 1385,363 1386,360.5 1387,357.9 1388,354.9 1389,351.8 1390,349.1 1391,346.3 1392,343.3 1393,340.3 1394,337.3 1395,334.3 1396,331.5 1396,331.4 1397,328.6 1398,326.1 1399,323.9 1400,322 1401,320.5 1402,319.4 1403,318.8 1404,318.7 1405,319.1 1406,320 1407,321.4 1408,323.4 1409,326 1410,329 1410.2,329.5 1411,332.6 1412,336.7 1413,341.2 1414,346.2 1415,351.5 1416,357.2 1417,363.2 1418,368.9 1419,374.6 1420,380.4 1421,386.2 1422,392 1423,397.6 1424,403.1 1425,408.3 1425.2,409.3 1426,413.2 1427,417.8 1428,422 1429,425.7 1430,428.8 1431,431.5 1432,433.5 1433,434.9 1434,435.1 1435,434.5 1436,433.1 1437,431 1438,428.1 1439,424.5 1440,420.2 1440.2,419 1441,415.2 1442,409.7 1443,403.6 1444,397.1 1445,390.1 1446,382.8 1447,375.4 1448,367.6 1449,359.8 1450,352 1451,344.4 1452,337.1 1453,330.2 1454,323.7 1454.8,318.8 1455,317.7 1456,312.3 1457,307.5 1458,303.5 1459,300.1 1460,297.6 1461,296.2"/>
<path stroke="#d55e00" d="M122,402 123,408 124,413.5 124.3,415.1 125,418.7 126,423.4 127,427.5 128,431.2 129,434.2 130,436.7 131,438.5 132,439.8 133,440.3 134,440.3 135,439.7 136,438.4 137,436.4 138,433.8 139,430.5 140,426.6 141,422.2 142,417.2 142.4,414.7 143,411.6 144,405.6 145,399.1 146,392.2 147,384.9 148,377.3 149,369.5 150,361.5 151,353.4 152,345.4 153,337.9 154,330.4 155,323 156,315.8 157,308.8 158,302.2 159,295.8 160,289.9 160.8,285.4 161,284.4 162,279.3 163,274.8 164,270.8 165,267.3 166,264.5 167,262.3 168,260.8 169,259.9 170,260 171,260.9 172,262.5 173,264.7 174,267.6 175,271.1 176,275.1 177,279.8 178,284.9 179,290.6 179.4,293.3 180,296.7 181,303.3 182,310.2 183,317.4 184,325 185,332.7 186,340.7 187,348.9 188,357.2 189,365.5 190,374.1 191,382.6 192,390.9 193,398.9 194,406.6 195,413.9 196,420.8 197,427.2 197.6,430.5 198,433.1 199,438.4 200,443.2 201,447.3 202,450.8 203,453.6 204,455.7 205,457.1 206,457.9 207,457.6 208,456.4 209,454.5 210,452 211,448.8 212,445.1 213,440.8 214,436 214.9,431 215,430.7 216,425 217,419 218,412.6 219,406 220,399.2 221,392.3 222,385.2 223,378.2 224,371.4 225,364.8 226,358.4 227,352.2 228,346.1 229,340.3 230,334.7 231,329.4 232,324.4 233,319.8 233.5,317.6 234,315.5 235,311.6 236,308.1 237,305.1 238,302.4 239,300.2 240,298.4 241,297.1 242,296.3 243,295.8 244,295.8 245,296.2 246,296.6 247,297.3 248,298.4 249,299.7 250,301.4 251,303.4 252,305.7 253,308.3 254,311.1 254.1,311.4 255,314.2 256,317.5 257,321 258,324.6 259,328.4 260,332.3 261,336.3 262,340.4 263,344.5 264,348.7 265,352.7 266,356.2 267,359.6 268,363.1 269,366.6 270,370 271,373.5 272,376.8 273,380.1 274,383.4 275,386.5 276,389.6 277,392.5 278,395.4 278.8,397.4 279,398.1 280,400.7 281,403.1 282,405.4 283,407.5 284,409.5 285,411.2 286,412.8 287,414.2 288,415.3 289,416.3 290,417.1 291,417.6 292,417.9 293,418.3 294,418.9 295,419.1 296,418.9 297,418.2 298,417.2 299,415.7 300,413.8 301,411.5 302,408.8 303,405.7 303.1,405.4 304,402.3 305,398.5 306,394.4 307,390 308,385.3 309,380.3 310,375.2 311,369.8 312,364.2 313,358.6 314,352.8 315,347 316,341.2 317,335.3 318,329.5 319,323.8 320,318.1 321,312.6 322,307.3 323,302.3 323.7,298.9 324,297.5 325,293 326,288.9 327,285.1 328,281.8 329,278.9 330,276.4 331,274.5 332,273.1 333,272.2 334,271.5 335,271.5 336,272.2 337,273.7 338,275.9 339,278.8 340,282.5 341,286.9 342,292 342.9,297.5 343,297.8 344,304.1 345,311.1 346,318.7 347,326.7 348,335.2 349,344.1 350,353.3 351,362.8 352,372.2 353,381.4 354,390.6 355,399.8 356,409 357,418 358,426.8 359,435.3 360,443.4 361,451.2 361.3,453.4 362,458.4 363,465.1 364,471.2 365,476.7 366,481.5 367,485.5 368,488.8 369,491.2 370,492.8 371,493.4 372,493 373,491.8 374,489.7 375,486.8 376,482.9 377,478.3 378,472.8 379,466.5 380,459.5 380.1,458.7 381,451.7 382,443.2 383,434.1 384,424.4 385,414.1 386,403.4 387,392.3 388,380.9 389,369.2 390,357.5 391,346 392,334.6 393,323.1 394,311.7 395,300.5 396,289.6 397,279 398,268.7 399,258.9 399.6,253.2 400,249.6 401,240.9 402,232.8 403,225.3 404,218.7 405,212.8 406,207.7 407,203.5 408,200.2 409,197.9 410,196.6 411,196.5 412,197.5 413,199.7 414,202.9 415,207.3 416,212.7 417,219.2 418,226.7 419,234.7 419,235.2 420,244.5 421,254.8 422,265.8 423,277.5 424,289.8 425,302.7 426,316.1 427,329.8 428,343.8 429,358 430,372.2 431,386.4 432,400.5 433,414.4 434,427.9 435,441.1 436,453.7 437,465.8 437.9,476 438,477.2 439,487.8 440,497.5 441,506.4 442,514.3 443,521.2 444,526.9 445,531.5 446,534.9 447,537.2 448,538.3 449,538.2 450,536.9 451,534.3 452,530.4 453,525.3 454,518.9 455,511.4 456,502.7 457,492.9 458,482.1 459,470.4 460,457.8 461,444.4 462,430.3 463,415.6 464,400.4 465,384.8 466,369 467,352.3 468,334.7 469,317.3 470,300.2 471,283.4 472,267.2 473,251.7 474,237 475,223.3 475.2,220 476,210.6 477,199.2 478,189 479,180.2 480,172.8 481,167 482,162.7 483,160.2 484,159.2 485,159.8 486,162.1 487,166.1 488,171.6 489,178.7 490,187.3 491,197.5 492,209 492.9,220.4 493,221.8 494,235.8 495,251 496,267.1 497,284.2 498,302 499,320.4 500,339.3 501,358.6 502,377.9 503,396.9 504,415.8 505,434.2 506,452.2 507,469.5 508,486 509,501.6 510,516.2 510.6,524.3 511,529.5 512,541.6 513,552.4 514,561.6 515,569.4 516,575.5 517,580 518,582.8 519,583.8 520,582.6 521,579.3 522,574.3 523,567.6 524,559.3 525,549.5 526,538.2 527,525.6 528,511.7 528.1,509.5 529,496.7 530,480.7 531,463.8 532,446.1 533,427.8 534,409.1 535,390.1 536,370.8 537,351.8 538,335.5 539,319.5 540,303.8 541,288.5 542,273.8 543,259.6 544,246 545,233.2 546,221.3 547,210.7 547,210.2 548,200 549,190.8 550,182.7 551,175.6 552,169.7 553,164.9 554,161.3 555,158.8 556,157.5 557,157.4 558,159 559,161.9 560,166 561,171.2 562,177.5 563,184.9 564,193.2 565,202.6 566,212.7 566.8,220.9 567,223.7 568,235.4 569,247.7 570,260.6 571,273.9 572,287.7 573,301.6 574,315.8 575,330.1 576,344.6 577,358.8 578,372.7 579,386.3 580,399.6 581,412.5 582,424.9 583,436.7 584,448 585,458.6 586,468.4 586.6,474.4 587,477.5 588,485.8 589,493.2 590,499.8 591,505.4 592,510.2 593,514 594,516.8 595,518.7 596,519.6 597,519.6 598,518.4 599,516.1 600,512.8 601,508.5 602,503.2 603,496.9 604,489.8 605,481.9 606,473.3 606.1,472.4 607,464 608,454.1 609,443.6 610,432.8 611,421.6 612,410.2 613,398.6 614,386.9 615,374.7 616,363.5 617,352.8 618,342.2 619,331.9 620,321.8 621,312 622,302.6 623,293.7 624,285.2 625,277.2 625.8,270.8 626,269.7 627,262.9 628,256.7 629,251.1 630,246.2 631,242.1 632,238.6 633,236 634,234.1 635,232.9 636,232.5 637,232.9 638,234 639,235.2 640,236.8 641,239.1 642,242.1 643,245.8 644,250.1 645,255.1 646,260.7 647,266.8 647,267.1 648,273.5 649,280.6 650,288.3 651,296.3 652,304.7 653,313.5 654,322.5 655,331.7 656,341.1 657,350.7 658,360.2 659,369.9 660,379.6 661,389.3 662,398.9 663,408.3 664,417.6 665,426.6 666,435.4 667,443.7 668,451.7 668.6,456.7 669,459.3 670,466.3 671,472.8 672,478.8 673,484.1 674,488.7 675,492.7 676,496 677,498.6 678,500.4 679,501.4 680,501.9 681,501.7 682,500.6 683,498.6 684,495.6 685,491.7 686,486.8 687,481.1 688,474.4 689,467 689.5,462.9 690,458.7 691,449.7 692,439.9 693,429.5 694,418.5 695,407 696,395 697,382.7 698,370 699,357.1 700,344.4 701,331.8 702,319.2 703,306.7 704,294.3 705,282.1 706,270.2 707,258.7 708,247.7 709,237.2 709.7,230.2 710,227.3 711,218.1 712,209.6 713,201.8 714,195 715,189 716,183.9 717,179.9 718,176.9 719,174.9 720,174 721,174.3 722,176 723,179.1 724,183.4 725,189 726,195.9 727,204.1 728,213.4 729,223.9 729.2,226.1 730,235.5 731,248 732,261.5 733,275.9 734,291 735,306.7 736,323 737,339.7 738,356.7 739,373.6 740,390.3 741,406.9 742,423.4 743,439.6 744,455.4 745,470.7 746,485.3 747,499.3 748,512.4 749,524.6 750,535.9 751,546 752,555 753,562.7 754,569.2 755,574.3 756,578.1 757,580.4 758,581 759,579.8 760,576.9 761,572.3 762,566 763,558.1 764,548.6 765,537.6 766,525.2 766.2,521.9 767,511.4 768,496.4 769,480.3 770,463.2 771,445.3 772,426.6 773,407.3 774,387.7 775,367.7 776,348.3 777,329 778,309.9 779,291.1 780,272.8 781,255.2 782,238.3 783,222.3 784,207.2 784.2,204.4 785,193.3 786,180.6 787,169.1 788,159 789,150.4 790,143.3 791,137.8 792,133.9 793,131.6 794,131 795,132.1 796,134.8 797,139.2 798,145.3 799,153 800,162.3 801,173.1 802,185.3 802.5,191.3 803,198.9 804,213.7 805,229.6 806,246.5 807,264.3 808,282.8 809,301.9 810,321.5 811,341.4 812,360.4 813,378.4 814,396.2 815,413.8 816,431 817,447.8 818,464.1 819,479.6 820,494.5 821,508.4 821.6,517 822,521.5 823,533.5 824,544.5 825,554.3 826,562.8 827,570.1 828,576.1 829,580.7 830,583.8 831,585.6 832,586 833,585 834,582.4 835,578 836,572 837,564.4 838,555.3 839,544.7 840,532.8 841,519.5 841.1,517.4 842,504.9 843,489.3 844,472.7 845,455.2 846,436.9 847,418.1 848,398.7 849,379 850,359.3 851,339.7 852,320.3 853,301.1 854,282.3 855,264 856,246.3 857,229.4 858,213.4 859,198.5 859.9,186.6 860,184.6 861,172 862,160.7 863,150.7 864,142.3 865,135.4 866,130 867,126.4 868,124.3 869,124 870,125.5 871,128.8 872,134.1 873,141.2 874,150 875,160.6 876,172.7 877,186.4 878,200.7 878,201.5 879,217.9 880,235.4 881,254 882,273.4 883,293.5 884,314.2 885,335.2 886,356.5 887,377.7 888,398.3 889,418.6 890,438.4 891,457.5 892,475.8 893,493.2 894,509.5 895,524.6 895.5,531.7 896,538.4 897,550.8 898,561.7 899,571 900,578.7 901,584.7 902,588.9 903,591.4 904,592.2 905,590.6 906,587 907,581.6 908,574.6 909,565.9 910,555.6 911,543.9 912,530.9 912.9,518.1 913,516.7 914,501.3 915,485 916,467.9 917,450.2 918,431.9 919,413.2 920,394.4 921,375.5 922,357 923,339.1 924,321.7 925,304.7 926,288.5 927,273 928,258.4 929,244.8 930,232.2 930.5,225.7 931,220.7 932,210.5 933,201.5 934,193.8 935,187.4 936,182.4 937,178.8 938,176.5 939,175.7 940,176.1 941,177.7 942,180.4 943,184.5 944,189.8 945,196 946,203.2 947,211.2 948,220 949,229.5 949.4,232.9 950,239.6 951,250.2 952,261.4 953,272.9 954,284.6 955,296.6 956,308.8 957,320.9 958,333 959,345 960,356.3 961,367.2 962,377.9 963,388.1 964,398 965,407.4 966,416.3 967,424.6 968,432.4 969,439.5 969.8,444.8 970,446.1 971,451.9 972,457.1 973,461.5 974,465.3 975,468.3 976,470.7 977,472.3 978,473.2 979,473.4 980,472.9 981,472.2 982,471.3 983,469.8 984,467.7 985,465.2 986,462.1 987,458.5 988,454.5 989,450 990,445.1 991,439.9 991.6,436.4 992,434.4 993,428.5 994,422.5 995,416.2 996,409.7 997,403.1 998,396.4 999,389.7 1000,382.7 1001,375.4 1002,368.1 1003,361 1004,354.5 1005,348.1 1006,341.7 1007,335.5 1008,329.3 1009,323.3 1010,317.5 1011,311.9 1012,306.6 1013,301.4 1014,296.6 1014.8,293 1015,292.1 1016,287.9 1017,284 1018,280.5 1019,277.3 1020,274.5 1021,272.2 1022,270.2 1023,268.7 1024,267.6 1025,266.9 1026,266.6 1027,266 1028,265.9 1029,266.3 1030,267.3 1031,268.9 1032,271 1033,273.7 1034,276.9 1035,280.6 1036,284.9 1037,289.6 1037.5,292.2 1038,294.8 1039,300.5 1040,306.6 1041,313 1042,319.9 1043,327 1044,334.5 1045,342.2 1046,350.1 1047,358.2 1048,366.4 1049,375.1 1050,383.9 1051,392.8 1052,401.7 1053,410.4 1054,419 1055,427.4 1056,435.5 1057,443.2 1058,450.2 1058,450.6 1059,457.4 1060,463.8 1061,469.6 1062,474.8 1063,479.3 1064,483.1 1065,486.2 1066,488.5 1067,489.9 1068,490.6 1069,490.4 1070,489.3 1071,487.3 1072,484.4 1073,480.6 1074,475.9 1075,470.3 1076,463.9 1077,456.7 1077.2,455.1 1078,448.7 1079,439.9 1080,430.5 1081,420.5 1082,409.9 1083,398.8 1084,387.2 1085,375.3 1086,363.1 1087,350.8 1088,338.5 1089,326.1 1090,313.9 1091,301.8 1092,289.9 1093,278.4 1094,267.2 1095,256.6 1096,246.5 1096.1,245.1 1097,237.1 1098,228.5 1099,220.6 1100,213.5 1101,207.4 1102,202.2 1103,198 1104,194.8 1105,192.7 1106,191.7 1107,192.2 1108,193.9 1109,196.8 1110,200.7 1111,205.7 1112,211.8 1113,218.8 1114,226.9 1115,235.8 1115,236.3 1116,245.7 1117,256.3 1118,267.6 1119,279.6 1120,292.2 1121,305.3 1122,318.7 1123,332.5 1124,346.7 1125,361.1 1126,375.5 1127,389.7 1128,403.8 1129,417.6 1130,431 1131,444 1132,456.4 1133,468.1 1134,479.2 1135,489.5 1136,498.9 1137,507.3 1138,514.8 1139,521.3 1140,526.6 1141,530.9 1142,534 1143,535.9 1144,536.4 1145,535.4 1146,532.9 1147,529 1148,523.7 1149,517 1150,509.1 1151,499.9 1152,489.7 1152.1,488.6 1153,478.3 1154,466 1155,452.8 1156,439 1157,424.4 1158,409.4 1159,394 1160,378.4 1161,362.8 1162,347.6 1163,332.5 1164,317.8 1165,303.4 1166,289.5 1167,276.2 1168,263.6 1169,251.8 1169.8,243.5 1170,240.8 1171,230.8 1172,221.9 1173,214 1174,207.3 1175,201.9 1176,197.6 1177,194.7 1178,193.1 1179,192.7 1180,193.6 1181,195.9 1182,199.5 1183,204.5 1184,210.7 1185,218.2 1186,226.8 1187,236.5 1187.6,242.8 1188,247.2 1189,258.8 1190,271.2 1191,284.3 1192,298 1193,312.2 1194,326.8 1195,341.6 1196,356.5 1197,371.6 1198,386.6 1199,401.3 1200,415.6 1201,429.4 1202,442.5 1203,454.9 1204,466.4 1205,476.9 1206,486.5 1207,494.9 1208,502.1 1209,508.1 1210,512.7 1211,516.1 1212,518.1 1213,518.7 1214,518 1215,516.2 1216,513.3 1217,509.3 1218,504.2 1219,498.2 1220,491.2 1221,483.3 1222,474.5 1223,465 1223.1,464 1224,454.7 1225,443.8 1226,432.4 1227,420.4 1228,408 1229,395.4 1230,382.5 1231,369.4 1232,356.3 1233,343.2 1234,330.5 1235,318.2 1236,306.1 1237,294.5 1238,283.4 1239,272.9 1240,263.1 1241,254 1241.9,246.5 1242,245.7 1243,238.2 1244,231.6 1245,226 1246,221.3 1247,217.6 1248,214.9 1249,213.2 1250,212.5 1251,212.9 1252,214.4 1253,217 1254,220.6 1255,225.1 1256,230.6 1257,236.9 1258,244.1 1259,252.1 1260,260.8 1260.2,263.1 1261,270.1 1262,280 1263,290.4 1264,301.2 1265,312.3 1266,323.6 1267,335.1 1268,346.7 1269,358.4 1270,370.3 1271,382.1 1272,393.5 1273,404.5 1274,415 1275,424.9 1276,434.2 1277,442.7 1277.9,450.1 1278,450.5 1279,457.4 1280,463.6 1281,468.8 1282,473.1 1283,476.4 1284,478.9 1285,480.4 1286,480.9 1287,480.3 1288,478.3 1289,475.2 1290,471 1291,465.9 1292,459.9 1293,453.1 1294,445.5 1294.2,443.5 1295,437.4 1296,428.7 1297,419.6 1298,410.3 1299,400.7 1300,391.1 1301,381.5 1302,372 1303,362.8 1304,354 1305,345.6 1306,337.7 1307,330.3 1308,323.5 1309,317.4 1310,312.2 1310,311.9 1311,307.2 1312,303.3 1313,300.1 1314,297.7 1315,296 1316,295.2 1317,295.1 1318,295.6 1319,297 1320,298.8 1321,301.4 1322,304.7 1323,308.6 1324,313 1325,317.8 1325.2,319 1326,322.9 1327,328.3 1328,333.9 1329,339.5 1330,345.1 1331,350.6 1332,356 1333,361 1334,365.7 1335,370.1 1336,374.1 1337,377.7 1338,380.9 1339,383.6 1340,385.8 1340.2,386.1 1341,387.5 1342,388.7 1343,389.3 1344,389.5 1345,389.2 1346,388.5 1347,387.3 1348,385.9 1349,384.5 1350,382.7 1351,380.5 1352,378.1 1353,375.4 1354,372.4 1354.8,370.1 1355,369.4 1356,366.2 1357,363 1358,359.8 1359,356.6 1360,353.6 1361,350.7 1362,347.9 1363,345.5 1364,343.3 1365,341.1 1366,339 1367,337 1368,335.2 1369,333.5 1369.1,333.4 1370,332.1 1371,330.8 1372,329.8 1373,328.9 1374,328.3 1375,328 1376,327.5 1377,327.3 1378,327.4 1379,327.9 1380,328.8 1381,330 1382,331.6 1382.8,333.1 1383,333.6 1384,335.9 1385,338.6 1386,341.6 1387,344.8 1388,348.2 1389,351.8 1390,355.5 1391,359.4 1392,363.4 1393,367.5 1394,371.6 1395,375.7 1396,379.4 1396,379.6 1397,383.4 1398,387 1399,390.3 1400,393.3 1401,395.8 1402,398 1403,399.6 1404,400.6 1405,401.1 1406,401.1 1407,400.5 1408,399.4 1409,397.8 1410,395.6 1410.2,395.2 1411,392.9 1412,389.7 1413,386.1 1414,382 1415,377.5 1416,372.7 1417,367.7 1418,362.5 1419,357.3 1420,352.1 1421,346.8 1422,341.6 1423,336.5 1424,331.6 1425,326.9 1425.2,326 1426,322.5 1427,318.4 1428,314.8 1429,311.6 1430,308.9 1431,306.8 1432,305.3 1433,304.6 1434,304.7 1435,305.5 1436,307.1 1437,309.5 1438,312.6 1439,316.5 1440,321.1 1440.2,322.3 1441,326.3 1442,332.1 1443,338.4 1444,345.2 1445,352.4 1446,359.9 1447,367.6 1448,375.3 1449,382.8 1450,390.2 1451,397.5 1452,404.4 1453,411 1454,417.2 1454.8,421.9 1455,422.9 1456,427.9 1457,432.4 1458,436.1 1459,439.1 1460,441.3 1461,442.7"/>
<path stroke="#111111" d="M122,282.5 123,286.6 124,291.3 124.3,292.8 125,296.5 126,302.1 127,308.1 128,314.4 129,321.1 130,328 131,335.1 132,342.4 133,349.8 134,357.3 135,364.7 136,372.1 137,379.3 138,386.4 139,393.3 140,400 141,406.3 142,412.2 142.4,414.7 143,417.7 144,422.7 145,427.2 146,431.2 147,434.6 148,437.3 149,439.5 150,440.9 151,441.7 152,441.9 153,441.5 154,440.4 155,438.7 156,436.4 157,433.4 158,429.9 159,425.8 160,421.1 160.8,417 161,416 162,410.3 163,404.3 164,397.9 165,391.1 166,384 167,376.7 168,369.3 169,361.7 170,354.2 171,346.9 172,339.6 173,332.5 174,325.6 175,318.9 176,312.5 177,306.5 178,300.8 179,295.5 179.4,293.3 180,290.7 181,286.4 182,282.6 183,279.4 184,276.7 185,274.6 186,273.2 187,272.6 188,272.7 189,273.4 190,274.9 191,277 192,279.8 193,283.3 194,287.5 195,292.2 196,297.5 197,303.4 197.6,306.8 198,309.7 199,316.5 200,323.6 201,331.1 202,338.8 203,346.7 204,354.8 205,362.8 206,370.8 207,378.6 208,386.2 209,393.6 210,400.8 211,407.7 212,414.2 213,420.3 214,426 214.9,431 215,431.2 216,435.9 217,440 218,443.5 219,446.4 220,448.7 221,450.3 222,451.3 223,451.6 224,451.1 225,449.8 226,448 227,445.7 228,443 229,439.9 230,436.4 231,432.5 232,428.3 233,423.7 233.5,421.3 234,418.8 235,413.7 236,408.3 237,402.8 238,397 239,391.2 240,385.3 241,379.3 242,373.3 243,367.3 244,361.6 245,356.2 246,350.7 247,345.3 248,339.9 249,334.7 250,329.7 251,324.9 252,320.3 253,315.9 254,311.8 254.1,311.4 255,308 256,304.4 257,301.2 258,298.2 259,295.6 260,293.3 261,291.4 262,289.8 263,288.6 264,287.7 265,287.1 266,286.8 267,286.8 268,286.9 269,287.2 270,287.8 271,288.5 272,289.5 273,290.6 274,292 275,293.5 276,295.3 277,297.2 278,299.4 278.8,301.1 279,301.7 280,304.1 281,306.8 282,309.5 283,312.5 284,315.6 285,318.8 286,322.1 287,325.5 288,329 289,332.6 290,336.3 291,340.2 292,344.2 293,348.7 294,354.5 295,360.4 296,366.3 297,372.1 298,377.9 299,383.7 300,389.2 301,394.7 302,399.9 303,404.9 303.1,405.4 304,409.7 305,414.2 306,418.4 307,422.2 308,425.7 309,428.8 310,431.5 311,433.8 312,435.7 313,437.1 314,438.2 315,439 316,439.2 317,439 318,438.3 319,437 320,435.3 321,433 322,430.3 323,427.1 323.7,424.5 324,423.4 325,419.3 326,414.7 327,409.8 328,404.5 329,398.9 330,393 331,386.8 332,380.4 333,373.8 334,366.7 335,358.6 336,350.4 337,342.3 338,334.2 339,326.2 340,318.5 341,311 342,303.9 342.9,297.5 343,297.1 344,290.8 345,285.1 346,279.9 347,275.3 348,271.4 349,268.2 350,265.8 351,264.1 352,262.8 353,262.4 354,262.7 355,263.8 356,265.7 357,268.5 358,272 359,276.3 360,281.3 361,287 361.3,288.9 362,293.5 363,300.5 364,308.2 365,316.5 366,325.2 367,334.4 368,343.9 369,353.8 370,363.9 371,374 372,384.1 373,393.9 374,403.7 375,413.5 376,423 377,432.3 378,441.3 379,449.8 380,457.9 380.1,458.7 381,465.5 382,472.5 383,478.8 384,484.5 385,489.3 386,493.4 387,496.6 388,499 389,500.4 390,500.9 391,500.5 392,499.2 393,497.1 394,494.1 395,490.2 396,485.5 397,479.9 398,473.5 399,466.2 399.6,461.6 400,458.3 401,449.6 402,440.2 403,430.2 404,419.7 405,408.6 406,397 407,385.1 408,372.9 409,360.3 410,347.4 411,334 412,320.5 413,307.2 414,294 415,281.1 416,268.6 417,256.6 418,245.1 419,234.7 419,234.2 420,224.1 421,214.7 422,206.3 423,198.7 424,192.2 425,186.7 426,182.4 427,179.2 428,177.2 429,176.8 430,177.5 431,179.3 432,182.3 433,186.5 434,191.8 435,198.2 436,205.7 437,214.2 437.9,222.8 438,223.8 439,234.2 440,245.6 441,257.7 442,270.6 443,284.1 444,298.2 445,312.8 446,327.8 447,343 448,358.9 449,374.9 450,390.9 451,406.8 452,422.4 453,437.6 454,452.4 455,466.6 456,480.1 457,492.9 458,504.8 459,515.8 460,525.8 461,534.7 462,542.4 463,548.9 464,554.2 465,558.1 466,560.7 467,561.8 468,561.2 469,559 470,555.2 471,549.8 472,542.9 473,534.5 474,524.6 475,513.4 475.2,510.4 476,500.9 477,487.3 478,472.6 479,457 480,440.6 481,423.5 482,405.8 483,387.7 484,369.4 485,351.1 486,332.9 487,314.9 488,297.2 489,280 490,263.5 491,247.8 492,232.9 492.9,220.4 493,219.1 494,206.4 495,195 496,184.8 497,176.2 498,169 499,163.4 500,159.3 501,157 502,156.2 503,157.1 504,159.8 505,164.1 506,170.2 507,177.8 508,186.9 509,197.6 510,209.5 510.6,217.4 511,222.8 512,237.3 513,252.7 514,269.1 515,286.3 516,304.1 517,322.5 518,341.1 519,360 520,378.7 521,397 522,415.1 523,432.6 524,449.5 525,465.5 526,480.7 527,494.8 528,507.7 528.1,509.5 529,519.4 530,529.7 531,538.5 532,545.9 533,551.7 534,555.9 535,558.4 536,559.3 537,558.6 538,556.9 539,553.9 540,549.8 541,544.4 542,537.9 543,530.4 544,521.8 545,512.2 546,501.7 547,490.9 547,490.3 548,478.2 549,465.4 550,452 551,438 552,423.6 553,408.9 554,393.9 555,378.7 556,363.5 557,348.3 558,333.2 559,318.3 560,303.7 561,289.6 562,276 563,263 564,250.7 565,239.1 566,228.4 566.8,220.9 567,218.5 568,209.6 569,201.7 570,194.9 571,189.1 572,184.5 573,180.9 574,178.5 575,177.3 576,177.7 577,179.3 578,181.8 579,185.4 580,190 581,195.5 582,202 583,209.2 584,217.3 585,226.2 586,235.7 586.6,242.3 587,245.9 588,256.7 589,267.9 590,279.6 591,291.6 592,304 593,316.5 594,329.2 595,341.9 596,354.4 597,367 598,380.4 599,393.5 600,406.2 601,418.6 602,430.5 603,441.8 604,452.4 605,462.3 606,471.5 606.1,472.4 607,479.8 608,487.3 609,493.8 610,499.4 611,503.9 612,507.5 613,510.1 614,511.6 615,512.1 616,511.6 617,510.3 618,508.2 619,505.3 620,501.7 621,497.3 622,492.3 623,486.6 624,480.2 625,473.2 625.8,466.9 626,465.7 627,457.7 628,449.2 629,440.3 630,431 631,421.4 632,411.6 633,401.6 634,391.4 635,381.1 636,370.9 637,360.8 638,351 639,340.9 640,330.8 641,320.9 642,311.2 643,301.7 644,292.6 645,283.8 646,275.4 647,267.5 647,267.1 648,260.1 649,253.2 650,246.9 651,241.2 652,236.1 653,231.6 654,227.9 655,224.8 656,222.5 657,220.9 658,219.7 659,219.3 660,219.5 661,220.5 662,222.3 663,224.8 664,227.9 665,231.8 666,236.4 667,241.7 668,247.6 668.6,251.8 669,254.1 670,261.3 671,268.9 672,277.1 673,285.7 674,294.8 675,304.3 676,314.1 677,324.1 678,334.4 679,344.9 680,356.1 681,368.1 682,380.1 683,392.1 684,403.9 685,415.4 686,426.7 687,437.7 688,448.2 689,458.1 689.5,462.9 690,467.5 691,476.3 692,484.4 693,491.7 694,498.2 695,503.8 696,508.6 697,512.3 698,515.2 699,517 700,517.9 701,518.1 702,517.2 703,515.3 704,512.5 705,508.6 706,503.8 707,498 708,491.2 709,483.6 709.7,477.8 710,475.1 711,465.9 712,455.8 713,445.1 714,433.7 715,421.8 716,409.3 717,396.4 718,383.2 719,369.7 720,355.8 721,340.7 722,325.6 723,310.5 724,295.7 725,281.2 726,267.1 727,253.5 728,240.6 729,228.5 729.2,226.1 730,217.2 731,206.8 732,197.4 733,189.2 734,182.1 735,176.3 736,171.7 737,168.5 738,166.7 739,166.2 740,167.1 741,169.3 742,172.9 743,177.8 744,184.1 745,191.6 746,200.4 747,210.5 748,221.6 749,233.9 750,247.1 751,261.2 752,276.2 753,291.9 754,308.2 755,325.1 756,342.4 757,359.9 758,378.3 759,397.3 760,416.2 761,434.8 762,452.9 763,470.5 764,487.4 765,503.3 766,518.3 766.2,521.9 767,532.1 768,544.7 769,555.9 770,565.7 771,573.9 772,580.5 773,585.4 774,588.6 775,590 776,589.2 777,586.7 778,582.6 779,576.9 780,569.7 781,561 782,550.8 783,539.2 784,526.3 784.2,523.5 785,512.2 786,496.9 787,480.6 788,463.4 789,445.5 790,426.8 791,407.6 792,388.1 793,368.2 794,348.1 795,327.8 796,307.6 797,287.7 798,268.3 799,249.5 800,231.5 801,214.3 802,198.2 802.5,191.3 803,183.2 804,169.4 805,157 806,146 807,136.6 808,128.8 809,122.6 810,118.2 811,115.5 812,114.7 813,115.6 814,117.9 815,121.5 816,126.6 817,133 818,140.7 819,149.7 820,159.9 821,171.3 821.6,179.2 822,183.7 823,197.1 824,211.5 825,226.7 826,242.7 827,259.3 828,276.4 829,294 830,312 831,330.2 832,348.9 833,369.4 834,389.6 835,409.6 836,429.1 837,448 838,466.2 839,483.5 840,499.9 841,515.2 841.1,517.4 842,529.3 843,542.1 844,553.5 845,563.5 846,572 847,578.8 848,584.1 849,587.7 850,589.6 851,590 852,588.8 853,586 854,581.6 855,575.5 856,567.9 857,558.7 858,548.2 859,536.2 859.9,525.1 860,523 861,508.7 862,493.3 863,476.9 864,459.7 865,441.9 866,423.5 867,404.6 868,385.4 869,366.2 870,345.7 871,325.1 872,304.8 873,285.1 874,266.1 875,247.9 876,230.8 877,214.8 878,200.7 878,200 879,186.7 880,174.8 881,164.5 882,156 883,149.1 884,144.1 885,140.8 886,139.5 887,140 888,142.3 889,146.5 890,152.4 891,160 892,169.3 893,180.1 894,192.4 895,206 895.5,213.3 896,220.9 897,236.9 898,253.8 899,271.6 900,290 901,309 902,328.4 903,348 904,367.7 905,387.2 906,406.4 907,425.1 908,443.2 909,460.5 910,476.9 911,492.2 912,506.4 912.9,518.1 913,519.4 914,530.9 915,541 916,549.5 917,556.5 918,561.8 919,565.4 920,567.3 921,567.5 922,565.8 923,562.1 924,557.1 925,550.6 926,542.8 927,533.7 928,523.5 929,512.1 930,499.8 930.5,492.6 931,486.5 932,472.5 933,457.8 934,442.5 935,426.8 936,410.7 937,394.5 938,378.2 939,361.9 940,346.4 941,331.8 942,317.6 943,303.9 944,290.9 945,278.5 946,266.7 947,255.7 948,245.4 949,236 949.4,232.9 950,227.5 951,219.9 952,213.3 953,207.7 954,203.1 955,199.5 956,196.9 957,195.4 958,194.9 959,195.4 960,197.3 961,200 962,203.4 963,207.6 964,212.5 965,218.1 966,224.3 967,231 968,238.2 969,246 969.8,252.4 970,254.1 971,262.6 972,271.4 973,280.5 974,289.8 975,299.2 976,308.7 977,318.2 978,327.7 979,337.1 980,346.5 981,355.6 982,364.6 983,373.4 984,382 985,390.3 986,398.3 987,405.9 988,413.2 989,420.2 990,426.6 991,432.7 991.6,436.4 992,438.2 993,443.3 994,447.9 995,452 996,455.5 997,458.5 998,461 999,462.9 1000,464.3 1001,465.2 1002,465.6 1003,465.5 1004,465.4 1005,464.9 1006,463.9 1007,462.5 1008,460.6 1009,458.4 1010,455.7 1011,452.7 1012,449.3 1013,445.5 1014,441.4 1014.8,437.8 1015,436.9 1016,432.2 1017,427.2 1018,421.9 1019,416.4 1020,410.7 1021,404.8 1022,398.8 1023,392.6 1024,386.3 1025,380 1026,373.6 1027,366.6 1028,359.1 1029,351.6 1030,344 1031,336.5 1032,329.1 1033,321.9 1034,314.8 1035,308 1036,301.4 1037,295.2 1037.5,292.2 1038,289.2 1039,283.7 1040,278.5 1041,273.8 1042,269.6 1043,265.9 1044,262.6 1045,260 1046,257.9 1047,256.3 1048,255.4 1049,254.6 1050,254.3 1051,254.9 1052,256.1 1053,258.2 1054,261 1055,264.5 1056,268.8 1057,273.7 1058,279.1 1058,279.4 1059,285.7 1060,292.6 1061,300.1 1062,308.1 1063,316.6 1064,325.5 1065,334.8 1066,344.4 1067,354.2 1068,364.3 1069,374.8 1070,385.2 1071,395.7 1072,406 1073,416.2 1074,426.1 1075,435.6 1076,444.8 1077,453.5 1077.2,455.1 1078,461.6 1079,469.1 1080,475.9 1081,482 1082,487.3 1083,491.8 1084,495.3 1085,498 1086,499.7 1087,500.4 1088,500.2 1089,499 1090,496.7 1091,493.4 1092,489.1 1093,483.8 1094,477.6 1095,470.4 1096,462.4 1096.1,461.1 1097,453.5 1098,443.8 1099,433.4 1100,422.4 1101,410.7 1102,398.5 1103,385.9 1104,373 1105,359.7 1106,346.3 1107,333 1108,319.9 1109,306.8 1110,294.1 1111,281.6 1112,269.6 1113,258 1114,247.1 1115,236.8 1115,236.3 1116,227.3 1117,218.5 1118,210.7 1119,203.8 1120,197.9 1121,193 1122,189.2 1123,186.6 1124,185.4 1125,185.5 1126,186.8 1127,189.2 1128,192.7 1129,197.4 1130,203.2 1131,210.1 1132,217.9 1133,226.8 1134,236.6 1135,247.2 1136,258.7 1137,270.8 1138,283.6 1139,297 1140,310.9 1141,325.1 1142,339.7 1143,354.5 1144,370 1145,386.2 1146,402.2 1147,417.9 1148,433.2 1149,447.9 1150,461.9 1151,475.1 1152,487.4 1152.1,488.6 1153,498.7 1154,508.8 1155,517.8 1156,525.6 1157,532 1158,537 1159,540.6 1160,542.8 1161,543.3 1162,542.3 1163,539.9 1164,536.2 1165,531.3 1166,525.1 1167,517.8 1168,509.3 1169,499.7 1169.8,491.9 1170,489.2 1171,477.8 1172,465.5 1173,452.5 1174,438.9 1175,424.7 1176,410.2 1177,395.3 1178,380.2 1179,364.9 1180,349 1181,333.3 1182,317.9 1183,302.9 1184,288.5 1185,274.7 1186,261.7 1187,249.6 1187.6,242.8 1188,238.4 1189,228.3 1190,219.2 1191,211.4 1192,204.8 1193,199.5 1194,195.4 1195,192.8 1196,191.5 1197,191.5 1198,193 1199,195.9 1200,200.2 1201,205.7 1202,212.5 1203,220.5 1204,229.7 1205,239.8 1206,250.9 1207,262.8 1208,275.5 1209,288.7 1210,302.5 1211,316.6 1212,331 1213,345.5 1214,359.5 1215,372.5 1216,385.4 1217,398.1 1218,410.3 1219,422.1 1220,433.4 1221,444 1222,454 1223,463.1 1223.1,464 1224,471.4 1225,478.9 1226,485.4 1227,491 1228,495.5 1229,499 1230,501.5 1231,502.9 1232,503.3 1233,502.7 1234,501.2 1235,498.6 1236,495 1237,490.4 1238,484.8 1239,478.3 1240,471 1241,462.9 1241.9,455 1242,454.1 1243,444.6 1244,434.6 1245,424 1246,413.1 1247,401.9 1248,390.4 1249,378.8 1250,367.1 1251,355.5 1252,343.9 1253,332.5 1254,321.3 1255,310.5 1256,300.2 1257,290.4 1258,281.2 1259,272.7 1260,264.9 1260.2,263.1 1261,257.9 1262,251.7 1263,246.4 1264,242 1265,238.6 1266,236.1 1267,234.6 1268,234.1 1269,234.8 1270,236.6 1271,239.3 1272,243.1 1273,247.8 1274,253.4 1275,259.9 1276,267.1 1277,275 1277.9,283.1 1278,283.6 1279,292.7 1280,302.3 1281,312.3 1282,322.5 1283,333.1 1284,343.7 1285,354.4 1286,365 1287,375.7 1288,386.8 1289,397.6 1290,407.8 1291,417.4 1292,426.4 1293,434.5 1294,441.9 1294.2,443.5 1295,448.3 1296,453.8 1297,458.3 1298,461.7 1299,464.2 1300,465.6 1301,466 1302,465.3 1303,463.3 1304,460.3 1305,456.6 1306,452.2 1307,447.1 1308,441.4 1309,435.2 1310,428.8 1310,428.5 1311,421.4 1312,414 1313,406.4 1314,398.7 1315,390.9 1316,383.2 1317,375.5 1318,368 1319,359.8 1320,351.9 1321,344.4 1322,337.4 1323,331 1324,325.2 1325,320.2 1325.2,319 1326,315.8 1327,312.2 1328,309.3 1329,307.2 1330,305.8 1331,305.1 1332,305.1 1333,305.8 1334,307 1335,308.7 1336,310.9 1337,313.6 1338,316.5 1339,319.8 1340,323.3 1340.2,323.8 1341,326.9 1342,330.7 1343,334.4 1344,338.2 1345,341.9 1346,345.5 1347,348.8 1348,352.2 1349,355.7 1350,359.1 1351,362.1 1352,364.7 1353,367 1354,369 1354.8,370.1 1355,370.5 1356,371.6 1357,372.3 1358,372.7 1359,372.6 1360,372.2 1361,371.5 1362,370.8 1363,370.5 1364,369.9 1365,369.2 1366,368.2 1367,367 1368,365.6 1369,364 1369.1,363.8 1370,362.2 1371,360.4 1372,358.4 1373,356.3 1374,354.1 1375,351.9 1376,349.6 1377,347.2 1378,344.7 1379,342.2 1380,339.7 1381,337.2 1382,334.8 1382.8,333.1 1383,332.5 1384,330.4 1385,328.6 1386,327.1 1387,325.9 1388,325 1389,324.3 1390,324.1 1391,324.3 1392,324.9 1393,325.9 1394,327.4 1395,329.3 1396,331.5 1396,331.6 1397,334.5 1398,337.7 1399,341.4 1400,345.5 1401,349.9 1402,354.7 1403,359.7 1404,364.6 1405,369.6 1406,374.7 1407,379.8 1408,384.9 1409,389.8 1410,394.5 1410.2,395.2 1411,399.1 1412,403.2 1413,407.1 1414,410.5 1415,413.4 1416,415.8 1417,417.6 1418,418.7 1419,419.2 1420,419.1 1421,418.4 1422,417.2 1423,415.3 1424,412.9 1425,410 1425.2,409.3 1426,406.4 1427,402.4 1428,397.9 1429,392.9 1430,387.6 1431,381.9 1432,375.9 1433,369.8 1434,362.8 1435,355.8 1436,348.9 1437,342.2 1438,335.6 1439,329.5 1440,323.7 1440.2,322.3 1441,318.4 1442,313.6 1443,309.5 1444,306 1445,303.3 1446,301.3 1447,300.2 1448,299.8 1449,300.3 1450,301.6 1451,303.8 1452,306.7 1453,310.4 1454,314.7 1454.8,318.8 1455,319.8 1456,325.4 1457,331.6 1458,338.3 1459,345.4 1460,352.8 1461,360.6"/>
</g>
<path fill="none" stroke="#cc94c6" stroke-width="7" stroke-linejoin="round" stroke-linecap="round" d="M122,282.5 123,286.6 124,291.3 124.3,292.8 125,289 126,284 127,279.6 128,275.7 129,272.4 130,269.7 131,267.6 132,266.1 133,265.3 134,265.1 135,265.3 136,266.2 137,267.8 138,270.1 139,272.9 140,276.4 141,280.5 142,285.1 142.4,287.3 143,284.2 144,278.7 145,273.8 146,269.5 147,265.7 148,262.5 149,260 150,258.2 151,257 152,256.9 153,257.7 154,259.2 155,261.3 156,264 157,267.4 158,271.4 159,275.9 160,281 160.8,285.4 161,284.4 162,279.3 163,274.8 164,270.8 165,267.3 166,264.5 167,262.3 168,260.8 169,259.9 170,260 171,260.9 172,262.5 173,264.7 174,267.6 175,271.1 176,275.1 177,279.8 178,284.9 179,290.6 179.4,293.3 180,290.7 181,286.4 182,282.6 183,279.4 184,276.7 185,274.6 186,273.2 187,272.6 188,272.7 189,273.4 190,274.9 191,277 192,279.8 193,283.3 194,287.5 195,292.2 196,297.5 197,303.4 197.6,306.8 198,304.7 199,300.5 200,296.9 201,293.9 202,291.5 203,289.9 204,288.8 205,288.3 206,288.2 207,288.8 208,290.1 209,292.1 210,294.7 211,298 212,301.8 213,306.2 214,311.1 214.9,316.2 215,315.9 216,311.4 217,307.4 218,304 219,301.1 220,299 221,297.4 222,296.6 223,296.3 224,296.5 225,296.9 226,297.8 227,299.1 228,300.9 229,303.1 230,305.7 231,308.7 232,312 233,315.7 233.5,317.6 234,315.5 235,311.6 236,308.1 237,305.1 238,302.4 239,300.2 240,298.4 241,297.1 242,296.3 243,295.8 244,295.8 245,296.2 246,296.6 247,297.3 248,298.4 249,299.7 250,301.4 251,303.4 252,305.7 253,308.3 254,311.1 254.1,311.4 255,308 256,304.4 257,301.2 258,298.2 259,295.6 260,293.3 261,291.4 262,289.8 263,288.6 264,287.7 265,287.1 266,286.8 267,286.8 268,286.9 269,287.2 270,287.8 271,288.5 272,289.5 273,290.6 274,292 275,293.5 276,295.3 277,297.2 278,299.4 278.8,301.1 279,300.3 280,297.3 281,294.5 282,291.8 283,289.3 284,287 285,284.8 286,282.8 287,281.1 288,279.5 289,278.1 290,277 291,276.4 292,276 293,275.9 294,276.1 295,276.8 296,277.8 297,279.3 298,281.2 299,283.5 300,286.3 301,289.4 302,292.9 303,296.8 303.1,297.3 304,293.7 305,290.1 306,286.7 307,283.7 308,281.1 309,278.8 310,276.9 311,275.5 312,274.5 313,273.9 314,273.8 315,274.2 316,275.1 317,276.5 318,278.5 319,280.9 320,283.8 321,287.2 322,291.1 323,295.5 323.7,298.9 324,297.5 325,293 326,288.9 327,285.1 328,281.8 329,278.9 330,276.4 331,274.5 332,273.1 333,272.2 334,271.5 335,271.5 336,272.2 337,273.7 338,275.9 339,278.8 340,282.5 341,286.9 342,292 342.9,297.5 343,297.1 344,290.8 345,285.1 346,279.9 347,275.3 348,271.4 349,268.2 350,265.8 351,264.1 352,262.8 353,262.4 354,262.7 355,263.8 356,265.7 357,268.5 358,272 359,276.3 360,281.3 361,287 361.3,288.9 362,283.7 363,276.8 364,270.4 365,264.7 366,259.7 367,255.4 368,252 369,249.3 370,247.5 371,246.5 372,246.4 373,246.8 374,248 375,250.1 376,253 377,256.8 378,261.4 379,266.8 380,273 380.1,273.7 381,266.1 382,258.2 383,251 384,244.5 385,238.8 386,233.8 387,229.7 388,226.5 389,224.2 390,222.8 391,222.3 392,222.6 393,223.8 394,225.9 395,228.9 396,232.7 397,237.4 398,242.8 399,249.1 399.6,253.2 400,249.6 401,240.9 402,232.8 403,225.3 404,218.7 405,212.8 406,207.7 407,203.5 408,200.2 409,197.9 410,196.6 411,196.5 412,197.5 413,199.7 414,202.9 415,207.3 416,212.7 417,219.2 418,226.7 419,234.7 419,234.2 420,224.1 421,214.7 422,206.3 423,198.7 424,192.2 425,186.7 426,182.4 427,179.2 428,177.2 429,176.8 430,177.5 431,179.3 432,182.3 433,186.5 434,191.8 435,198.2 436,205.7 437,214.2 437.9,222.8 438,221.7 439,211.4 440,201.8 441,193.3 442,185.6 443,179.1 444,173.6 445,169.2 446,166.1 447,164.2 448,164 449,165.1 450,167.5 451,171.1 452,176.1 453,182.3 454,189.7 455,198.3 456,208 457,218.9 458,208 459,198.1 460,189.2 461,181.3 462,174.7 463,169.2 464,165 465,162.2 466,160.8 467,160.7 468,162.3 469,165.4 470,170.2 471,176.5 472,184.4 473,193.8 474,204.6 475,216.8 475.2,220 476,210.6 477,199.2 478,189 479,180.2 480,172.8 481,167 482,162.7 483,160.2 484,159.2 485,159.8 486,162.1 487,166.1 488,171.6 489,178.7 490,187.3 491,197.5 492,209 492.9,220.4 493,219.1 494,206.4 495,195 496,184.8 497,176.2 498,169 499,163.4 500,159.3 501,157 502,156.2 503,157.1 504,159.8 505,164.1 506,170.2 507,177.8 508,186.9 509,197.6 510,209.5 510.6,217.4 511,211.9 512,199 513,187.6 514,177.5 515,169.1 516,162.2 517,157 518,153.5 519,151.6 520,151.5 521,153.2 522,156.6 523,161.7 524,168.4 525,176.6 526,186.3 527,197.3 528,209.6 528.1,211.5 529,200.3 530,188.4 531,177.9 532,168.9 533,161.5 534,155.8 535,151.6 536,149.1 537,148.3 538,149.2 539,151.6 540,155.3 541,160.2 542,166.1 543,173.2 544,181.3 545,190.4 546,200.4 547,210.7 547,210.2 548,200 549,190.8 550,182.7 551,175.6 552,169.7 553,164.9 554,161.3 555,158.8 556,157.5 557,157.4 558,159 559,161.9 560,166 561,171.2 562,177.5 563,184.9 564,193.2 565,202.6 566,212.7 566.8,220.9 567,218.5 568,209.6 569,201.7 570,194.9 571,189.1 572,184.5 573,180.9 574,178.5 575,177.3 576,177.7 577,179.3 578,181.8 579,185.4 580,190 581,195.5 582,202 583,209.2 584,217.3 585,226.2 586,235.7 586.6,242.3 587,239.6 588,232.6 589,226.5 590,221.2 591,216.8 592,213.4 593,210.9 594,209.3 595,208.5 596,208.4 597,209.2 598,211.1 599,214 600,218 601,223 602,228.9 603,235.8 604,243.6 605,252.2 606,261.5 606.1,262.5 607,255.6 608,248.8 609,243 610,238.1 611,234.1 612,231.2 613,229.4 614,228.5 615,227.8 616,228.1 617,229.2 618,231.1 619,233.8 620,237.2 621,241.3 622,246.2 623,251.7 624,257.9 625,264.6 625.8,270.8 626,269.7 627,262.9 628,256.7 629,251.1 630,246.2 631,242.1 632,238.6 633,236 634,234.1 635,232.9 636,232.5 637,232.9 638,234 639,235.2 640,236.8 641,239.1 642,242.1 643,245.8 644,250.1 645,255.1 646,260.7 647,266.8 647,267.1 648,260.1 649,253.2 650,246.9 651,241.2 652,236.1 653,231.6 654,227.9 655,224.8 656,222.5 657,220.9 658,219.7 659,219.3 660,219.5 661,220.5 662,222.3 663,224.8 664,227.9 665,231.8 666,236.4 667,241.7 668,247.6 668.6,251.8 669,248.9 670,241.1 671,233.9 672,227.2 673,221.1 674,215.7 675,211 676,207 677,203.7 678,201.1 679,199.4 680,198.4 681,198.6 682,199.7 683,201.8 684,204.9 685,208.8 686,213.7 687,219.5 688,226.2 689,233.7 689.5,237.8 690,233.1 691,224.4 692,216.4 693,209.1 694,202.7 695,197.1 696,192.4 697,188.6 698,185.9 699,184.2 700,183.7 701,184.3 702,185.8 703,188.3 704,191.8 705,196.3 706,201.8 707,208.3 708,215.6 709,223.9 709.7,230.2 710,227.3 711,218.1 712,209.6 713,201.8 714,195 715,189 716,183.9 717,179.9 718,176.9 719,174.9 720,174 721,174.3 722,176 723,179.1 724,183.4 725,189 726,195.9 727,204.1 728,213.4 729,223.9 729.2,226.1 730,217.2 731,206.8 732,197.4 733,189.2 734,182.1 735,176.3 736,171.7 737,168.5 738,166.7 739,166.2 740,167.1 741,169.3 742,172.9 743,177.8 744,184.1 745,191.6 746,200.4 747,210.5 748,221.6 749,209.8 750,198.9 751,189.1 752,180.5 753,173.1 754,167 755,162.3 756,158.9 757,156.9 758,156.4 759,157.5 760,160.3 761,164.8 762,171 763,178.8 764,188.1 765,199 766,211.3 766.2,214.6 767,204.3 768,191.6 769,180.2 770,170.3 771,162 772,155.3 773,150.3 774,147 775,145.3 776,145.4 777,147 778,150.3 779,155.2 780,161.6 781,169.5 782,178.9 783,189.7 784,201.8 784.2,204.4 785,193.3 786,180.6 787,169.1 788,159 789,150.4 790,143.3 791,137.8 792,133.9 793,131.6 794,131 795,132.1 796,134.8 797,139.2 798,145.3 799,153 800,162.3 801,173.1 802,185.3 802.5,191.3 803,183.2 804,169.4 805,157 806,146 807,136.6 808,128.8 809,122.6 810,118.2 811,115.5 812,114.7 813,115.6 814,117.9 815,121.5 816,126.6 817,133 818,140.7 819,149.7 820,159.9 821,171.3 821.6,179.2 822,174.5 823,161.9 824,150.3 825,139.8 826,130.6 827,122.7 828,116.1 829,110.9 830,107 831,104.6 832,103.8 833,105.2 834,108.3 835,113.1 836,119.5 837,127.6 838,137.1 839,148.2 840,160.6 841,174.3 841.1,176.5 842,165 843,152.6 844,141.6 845,132.1 846,124.1 847,117.6 848,112.8 849,109.7 850,108.7 851,109.6 852,112.1 853,116.2 854,122.1 855,129.5 856,138.5 857,149 858,161 859,174.3 859.9,186.6 860,184.6 861,172 862,160.7 863,150.7 864,142.3 865,135.4 866,130 867,126.4 868,124.3 869,124 870,125.5 871,128.8 872,134.1 873,141.2 874,150 875,160.6 876,172.7 877,186.4 878,200.7 878,200 879,186.7 880,174.8 881,164.5 882,156 883,149.1 884,144.1 885,140.8 886,139.5 887,140 888,142.3 889,146.5 890,152.4 891,160 892,169.3 893,180.1 894,192.4 895,206 895.5,213.3 896,206.7 897,194.6 898,183.9 899,174.9 900,167.5 901,161.7 902,157.7 903,155.4 904,154.9 905,156 906,158.7 907,163.2 908,169.4 909,177.2 910,186.6 911,197.4 912,209.6 912.9,221.6 913,220.2 914,207.8 915,196.9 916,187.5 917,179.7 918,173.5 919,169 920,166.2 921,165.1 922,165.7 923,167.8 924,171.3 925,176.2 926,182.5 927,190 928,198.8 929,208.6 930,219.4 930.5,225.7 931,220.7 932,210.5 933,201.5 934,193.8 935,187.4 936,182.4 937,178.8 938,176.5 939,175.7 940,176.1 941,177.7 942,180.4 943,184.5 944,189.8 945,196 946,203.2 947,211.2 948,220 949,229.5 949.4,232.9 950,227.5 951,219.9 952,213.3 953,207.7 954,203.1 955,199.5 956,196.9 957,195.4 958,194.9 959,195.4 960,197.3 961,200 962,203.4 963,207.6 964,212.5 965,218.1 966,224.3 967,231 968,238.2 969,246 969.8,252.4 970,251.3 971,245.9 972,241.2 973,237.2 974,233.9 975,231.3 976,229.4 977,228.2 978,227.8 979,228 980,229 981,230.5 982,232.6 983,235.2 984,238.5 985,242.2 986,246.5 987,251.3 988,256.5 989,262.2 990,268.2 991,274.6 991.6,278.9 992,277.5 993,273.6 994,270.2 995,267.3 996,264.9 997,263.1 998,261.8 999,261.1 1000,260.3 1001,259.4 1002,259.1 1003,259.2 1004,259.8 1005,260.9 1006,262.4 1007,264.3 1008,266.7 1009,269.5 1010,272.6 1011,276.2 1012,280.1 1013,284.4 1014,289 1014.8,293 1015,292.1 1016,287.9 1017,284 1018,280.5 1019,277.3 1020,274.5 1021,272.2 1022,270.2 1023,268.7 1024,267.6 1025,266.9 1026,266.6 1027,266 1028,265.9 1029,266.3 1030,267.3 1031,268.9 1032,271 1033,273.7 1034,276.9 1035,280.6 1036,284.9 1037,289.6 1037.5,292.2 1038,289.2 1039,283.7 1040,278.5 1041,273.8 1042,269.6 1043,265.9 1044,262.6 1045,260 1046,257.9 1047,256.3 1048,255.4 1049,254.6 1050,254.3 1051,254.9 1052,256.1 1053,258.2 1054,261 1055,264.5 1056,268.8 1057,273.7 1058,279.1 1058,278.7 1059,271.1 1060,264 1061,257.6 1062,251.7 1063,246.5 1064,242 1065,238.2 1066,235.2 1067,233 1068,231.7 1069,231.2 1070,231.6 1071,232.9 1072,235.1 1073,238.2 1074,242.2 1075,247 1076,252.7 1077,259.2 1077.2,260.6 1078,253.6 1079,245.4 1080,237.9 1081,231 1082,225 1083,219.9 1084,215.6 1085,212.2 1086,209.8 1087,208.5 1088,208.4 1089,209.4 1090,211.3 1091,214.3 1092,218.3 1093,223.3 1094,229.2 1095,236.1 1096,243.9 1096.1,245.1 1097,237.1 1098,228.5 1099,220.6 1100,213.5 1101,207.4 1102,202.2 1103,198 1104,194.8 1105,192.7 1106,191.7 1107,192.2 1108,193.9 1109,196.8 1110,200.7 1111,205.7 1112,211.8 1113,218.8 1114,226.9 1115,235.8 1115,236.3 1116,227.3 1117,218.5 1118,210.7 1119,203.8 1120,197.9 1121,193 1122,189.2 1123,186.6 1124,185.4 1125,185.5 1126,186.8 1127,189.2 1128,192.7 1129,197.4 1130,203.2 1131,210.1 1132,217.9 1133,226.8 1134,236.6 1135,227.1 1136,218.6 1137,210.9 1138,204.3 1139,198.7 1140,194.1 1141,190.7 1142,188.5 1143,187.4 1144,187.7 1145,189.4 1146,192.5 1147,197.1 1148,203 1149,210.3 1150,218.8 1151,228.6 1152,239.5 1152.1,240.7 1153,231.2 1154,221.6 1155,213.3 1156,206.2 1157,200.4 1158,196 1159,193 1160,191.5 1161,191.4 1162,192.5 1163,195 1164,198.7 1165,203.7 1166,210 1167,217.4 1168,226 1169,235.6 1169.8,243.5 1170,240.8 1171,230.8 1172,221.9 1173,214 1174,207.3 1175,201.9 1176,197.6 1177,194.7 1178,193.1 1179,192.7 1180,193.6 1181,195.9 1182,199.5 1183,204.5 1184,210.7 1185,218.2 1186,226.8 1187,236.5 1187.6,242.8 1188,238.4 1189,228.3 1190,219.2 1191,211.4 1192,204.8 1193,199.5 1194,195.4 1195,192.8 1196,191.5 1197,191.5 1198,193 1199,195.9 1200,200.2 1201,205.7 1202,212.5 1203,220.5 1204,229.7 1205,239.8 1206,229.3 1207,220 1208,211.8 1209,204.8 1210,199.2 1211,194.9 1212,191.9 1213,190.4 1214,190.1 1215,191.1 1216,193.1 1217,196.6 1218,201 1219,206.5 1220,212.9 1221,220.3 1222,228.5 1223,237.4 1223.1,238.4 1224,230.4 1225,222.4 1226,215.3 1227,209.2 1228,204.1 1229,200 1230,196.9 1231,194.9 1232,194 1233,194.2 1234,196.1 1235,199.2 1236,203.4 1237,208.5 1238,214.6 1239,221.6 1240,229.5 1241,238.1 1241.9,246.5 1242,245.7 1243,238.2 1244,231.6 1245,226 1246,221.3 1247,217.6 1248,214.9 1249,213.2 1250,212.5 1251,212.9 1252,214.4 1253,217 1254,220.6 1255,225.1 1256,230.6 1257,236.9 1258,244.1 1259,252.1 1260,260.8 1260.2,263.1 1261,257.9 1262,251.7 1263,246.4 1264,242 1265,238.6 1266,236.1 1267,234.6 1268,234.1 1269,234.8 1270,236.6 1271,239.3 1272,243.1 1273,247.8 1274,253.4 1275,259.9 1276,267.1 1277,275 1277.9,283.1 1278,282.8 1279,276.9 1280,271.9 1281,267.8 1282,264.6 1283,262.3 1284,260.9 1285,260.5 1286,261.1 1287,262.2 1288,264.5 1289,267.8 1290,272.2 1291,277.5 1292,283.8 1293,290.8 1294,298.6 1294.2,300.6 1295,296.1 1296,290.8 1297,286.5 1298,283.3 1299,281.1 1300,279.9 1301,279.7 1302,280.5 1303,282 1304,284.3 1305,287.4 1306,291.2 1307,295.7 1308,300.8 1309,306.4 1310,312.2 1310,311.9 1311,307.2 1312,303.3 1313,300.1 1314,297.7 1315,296 1316,295.2 1317,295.1 1318,295.6 1319,297 1320,298.8 1321,301.4 1322,304.7 1323,308.6 1324,313 1325,317.8 1325.2,319 1326,315.8 1327,312.2 1328,309.3 1329,307.2 1330,305.8 1331,305.1 1332,305.1 1333,305.8 1334,307 1335,308.7 1336,310.9 1337,313.6 1338,316.5 1339,319.8 1340,323.3 1340.2,323.8 1341,321.6 1342,319.5 1343,317.9 1344,316.8 1345,316.2 1346,316 1347,316.2 1348,316.9 1349,317.9 1350,319.4 1351,321.1 1352,323.2 1353,325.5 1354,328 1354.8,330 1355,329.6 1356,328.1 1357,326.9 1358,326.2 1359,325.9 1360,325.9 1361,326.2 1362,326.4 1363,326.7 1364,327.2 1365,328 1366,329 1367,330.2 1368,331.6 1369,333.2 1369.1,333.4 1370,332.1 1371,330.8 1372,329.8 1373,328.9 1374,328.3 1375,328 1376,327.5 1377,327.3 1378,327.4 1379,327.9 1380,328.8 1381,330 1382,331.6 1382.8,333.1 1383,332.5 1384,330.4 1385,328.6 1386,327.1 1387,325.9 1388,325 1389,324.3 1390,324.1 1391,324.3 1392,324.9 1393,325.9 1394,327.4 1395,329.3 1396,331.5 1396,331.4 1397,328.6 1398,326.1 1399,323.9 1400,322 1401,320.5 1402,319.4 1403,318.8 1404,318.7 1405,319.1 1406,320 1407,321.4 1408,323.4 1409,326 1410,329 1410.2,329.5 1411,326.5 1412,323.2 1413,320.2 1414,317.7 1415,315.7 1416,314.2 1417,313.2 1418,312.7 1419,312.8 1420,313.4 1421,314.6 1422,316.4 1423,318.7 1424,321.7 1425,325.2 1425.2,326 1426,322.5 1427,318.4 1428,314.8 1429,311.6 1430,308.9 1431,306.8 1432,305.3 1433,304.6 1434,304.7 1435,305.5 1436,307.1 1437,309.5 1438,312.6 1439,316.5 1440,321.1 1440.2,322.3 1441,318.4 1442,313.6 1443,309.5 1444,306 1445,303.3 1446,301.3 1447,300.2 1448,299.8 1449,300.3 1450,301.6 1451,303.8 1452,306.7 1453,310.4 1454,314.7 1454.8,318.8 1455,317.7 1456,312.3 1457,307.5 1458,303.5 1459,300.1 1460,297.6 1461,296.2"/>
<path fill="none" stroke="#0000ff" stroke-width="2.2" stroke-dasharray="9.5 3.5" d="M122,949.3 123,948.1 124,947.3 124.3,947.2 125,947.1 126,947.4 127,948.2 128,949.5 129,951.3 130,953.6 131,956.4 132,959.7 133,963.4 134,967.6 135,972.2 136,977.2 137,982.5 138,988.1 139,994 140,1000.1 141,1006.4 142,1012.8 142.4,1015.7 143,1012.2 144,1005.8 145,999.3 146,992.9 147,986.6 148,980.5 149,974.5 150,968.8 151,963.4 152,958.5 153,953.9 154,949.8 155,946.1 156,942.8 157,940.1 158,937.9 159,936.2 160,935.5 160.8,935.5 161,935.6 162,936.4 163,937.7 164,939.5 165,942 166,944.9 167,948.3 168,952.3 169,956.6 170,961.4 171,966.5 172,972 173,977.7 174,983.7 175,989.9 176,996.2 177,1002.7 178,1009.2 179,1015.9 179.4,1018.9 180,1015.4 181,1009.2 182,1003.1 183,997.1 184,991.3 185,985.7 186,980.4 187,975.4 188,970.7 189,966.3 190,962.1 191,958.4 192,955.2 193,952.5 194,950.4 195,948.9 196,948 197,947.8 197.6,947.9 198,948.2 199,949.1 200,950.7 201,952.9 202,955.6 203,958.8 204,962.6 205,966.8 206,971.5 207,976.6 208,982.1 209,988 210,994.1 211,1000.5 212,1007 213,1013.7 214,1020.4 214.9,1026.8 215,1026.5 216,1020.1 217,1013.6 218,1007.3 219,1001.3 220,995.5 221,990.2 222,985.2 223,980.6 224,976.7 225,973.5 226,970.7 227,968.3 228,966.3 229,964.7 230,963.5 231,962.7 232,962.3 233,962.3 233.5,962.5 234,962.7 235,963.5 236,964.2 237,965.2 238,966.5 239,968.2 240,970.3 241,972.6 242,975.3 243,978.2 244,981.2 245,984.4 246,987.7 247,991.2 248,994.9 249,998.7 250,1002.6 251,1006.5 252,1010.5 253,1014.6 254,1018.7 254.1,1019.1 255,1015.1 256,1010.6 257,1006.2 258,1001.9 259,997.7 260,993.6 261,989.7 262,985.9 263,982.3 264,978.9 265,975.9 266,973.5 267,971.4 268,969.3 269,967.5 270,965.7 271,964.2 272,962.8 273,961.6 274,960.6 275,959.7 276,959 277,958.5 278,958.1 278.8,958 279,958 280,958 281,958 282,958.2 283,958.5 284,959.1 285,959.8 286,960.7 287,961.7 288,963 289,964.3 290,965.8 291,967.5 292,969.3 293,971.5 294,974.4 295,977.5 296,980.9 297,984.4 298,988 299,991.8 300,995.6 301,999.8 302,1004.2 303,1008.7 303.1,1009.1 304,1005.3 305,1001.1 306,996.8 307,992.5 308,988.2 309,984 310,979.9 311,975.9 312,972.1 313,968.4 314,964.9 315,961.5 316,958.4 317,955.6 318,953.1 319,950.9 320,949.1 321,947.6 322,946.4 323,945.5 323.7,945 324,944.9 325,944.7 326,945 327,945.6 328,946.7 329,948.2 330,950.2 331,952.5 332,955.3 333,958.5 334,962.1 335,966.7 336,971.6 337,977 338,982.8 339,989 340,995.4 341,1002.1 342,1009 342.9,1015.7 343,1015.4 344,1008.5 345,1001.6 346,994.7 347,987.8 348,981.1 349,974.5 350,968.1 351,962 352,956.2 353,950.9 354,946 355,941.6 356,937.7 357,934.2 358,931.4 359,929.1 360,927.5 361,926.4 361.3,926.2 362,926 363,925.8 364,926.3 365,927.5 366,929.4 367,932 368,935.4 369,939.5 370,944.2 371,949.6 372,955.5 373,962.1 374,969.1 375,976.8 376,984.8 377,993.4 378,1002.3 379,1011.5 380,1020.4 380.1,1021.3 381,1012.2 382,1002 383,992 384,982.1 385,972.4 386,963 387,953.9 388,945.2 389,936.9 390,929.3 391,922.4 392,916 393,910.2 394,905 395,900.4 396,896.5 397,893.3 398,890.7 399,888.9 399.6,888.2 400,887.9 401,887.6 402,888.1 403,889.3 404,891.2 405,893.8 406,897.1 407,901.1 408,905.7 409,910.9 410,916.9 411,923.7 412,931.1 413,939 414,947.3 415,956 416,965 417,974.3 418,983.7 419,993 419,992.5 420,982.4 421,972.3 422,962 423,951.8 424,941.7 425,931.7 426,922 427,912.7 428,903.8 429,895.5 430,887.8 431,880.7 432,874.3 433,868.6 434,863.7 435,859.6 436,856.4 437,854.1 437.9,853 438,852.9 439,853.1 440,854.3 441,856.5 442,859.6 443,863.8 444,868.9 445,875 446,882 447,889.9 448,898.7 449,908.3 450,918.7 451,929.8 452,941.5 453,953.7 454,966.5 455,979.6 456,993 457,1006.6 458,993.2 459,979.8 460,966.6 461,953.5 462,940.8 463,928.5 464,916.6 465,905.3 466,894.6 467,884.3 468,874.5 469,865.7 470,858 471,851.4 472,846.1 473,842 474,839.3 475,837.8 475.2,837.8 476,838 477,839.5 478,842.4 479,846.6 480,852 481,858.8 482,866.7 483,875.7 484,885.8 485,896.7 486,908.4 487,920.9 488,934.1 489,947.9 490,962.1 491,976.7 492,991.6 492.9,1005 493,1003.5 494,988.2 495,973 496,958 497,943.5 498,929.4 499,916 500,903.3 501,891.4 502,880.3 503,870.2 504,861.1 505,853.1 506,846.4 507,840.9 508,836.6 509,833.7 510,832 510.6,831.7 511,831.9 512,833.2 513,835.8 514,839.6 515,844.7 516,851 517,858.3 518,866.7 519,876.1 520,886.3 521,897.4 522,909.2 523,921.6 524,934.4 525,947.7 526,961.2 527,974.8 528,988.5 528.1,990.5 529,978.3 530,964.3 531,951 532,937.9 533,925.2 534,913 535,901.4 536,890.5 537,880.5 538,872.4 539,865 540,858.3 541,852.5 542,847.5 543,843.4 544,840.2 545,837.9 546,836.6 547,836.3 547,836.3 548,837.8 549,840.2 550,843.5 551,847.9 552,853.1 553,859.1 554,866.1 555,873.7 556,882.2 557,891.3 558,901.3 559,911.9 560,923.1 561,934.7 562,946.7 563,959 564,971.5 565,984.2 566,996.9 566.8,1006.4 567,1003.5 568,991.5 569,979.7 570,968.3 571,957.2 572,946.5 573,936.3 574,926.7 575,917.7 576,909.4 577,902 578,895.5 579,889.7 580,884.7 581,880.5 582,877.1 583,874.6 584,872.8 585,872 586,871.9 586.6,872.2 587,872.6 588,874.1 589,876.4 590,879.5 591,883.4 592,887.9 593,893.2 594,899.1 595,905.7 596,912.8 597,920.5 598,929.3 599,938.6 600,948.4 601,958.5 602,968.8 603,979.4 604,990.1 605,1000.8 606,1011.5 606.1,1012.6 607,1003.3 608,993.2 609,983.3 610,973.7 611,964.6 612,955.8 613,947.6 614,940 615,933 616,927.1 617,922.1 618,917.6 619,913.8 620,910.6 621,908 622,906 623,904.7 624,904 625,904 625.8,904.5 626,904.6 627,904.8 628,905.5 629,906.8 630,908.7 631,911.3 632,914.4 633,918.2 634,922.6 635,927.5 636,933 637,938.8 638,945.1 639,951.8 640,958.9 641,966.4 642,974.2 643,982.3 644,990.6 645,999.2 646,1007.9 647,1016.7 647,1017.1 648,1008.8 649,999.6 650,990.6 651,981.8 652,973.1 653,964.6 654,956.4 655,948.6 656,941 657,933.9 658,927.2 659,921.1 660,915.4 661,910.2 662,905.5 663,901.4 664,897.9 665,895 666,892.7 667,891 668,889.9 668.6,889.5 669,889.3 670,889.1 671,889.6 672,890.7 673,892.4 674,894.7 675,897.7 676,901.2 677,905.3 678,910 679,915.1 680,921.1 681,927.9 682,935.2 683,943 684,951.2 685,959.8 686,968.6 687,977.8 688,987.2 689,997.3 689.5,1002.4 690,997.5 691,987.6 692,977.7 693,967.8 694,957.9 695,948.2 696,938.6 697,929.4 698,920.5 699,911.9 700,903.9 701,896.5 702,889.6 703,883.4 704,877.8 705,872.9 706,868.7 707,865.3 708,862.7 709,861 709.7,860.3 710,860.2 711,860.4 712,861.4 713,863.3 714,866.2 715,869.9 716,874.5 717,879.9 718,886.2 719,893.3 720,901.3 721,910.8 722,921.1 723,932.2 724,944 725,956.4 726,969.3 727,982.7 728,996.1 729,1009.4 729.2,1012 730,1000.8 731,986.7 732,972.8 733,959.2 734,945.9 735,933 736,920.6 737,908.8 738,897.8 739,887.6 740,878.3 741,869.9 742,862.4 743,855.8 744,850.3 745,845.9 746,842.6 747,840.3 748,839.2 749,839.1 750,840.2 751,842.4 752,845.7 753,850.1 754,855.6 755,862.1 756,869.6 757,878 758,887.8 759,898.9 760,910.8 761,923.5 762,936.9 763,950.8 764,965.2 765,979.9 766,994.8 766.2,998.5 767,986.8 768,971.2 769,955.7 770,940.5 771,925.8 772,911.5 773,897.9 774,885.1 775,873.1 776,862.5 777,852.9 778,844.3 779,836.7 780,830.3 781,825.1 782,821 783,818.2 784,816.7 784.2,816.6 785,816.5 786,817.6 787,819.9 788,823.5 789,828.4 790,834.4 791,841.6 792,849.9 793,859.3 794,869.8 795,881.2 796,893.5 797,906.6 798,920.3 799,934.6 800,949.3 801,964.4 802,979.7 802.5,986.6 803,977.8 804,961.9 805,946.1 806,930.5 807,915.3 808,900.5 809,886.4 810,872.9 811,860.2 812,849 813,839.2 814,830.2 815,822.1 816,815 817,808.8 818,803.7 819,799.6 820,796.6 821,794.7 821.6,794.1 822,793.9 823,794.8 824,796.9 825,800.2 826,804.5 827,809.9 828,816.2 829,823.5 830,831.8 831,840.9 832,850.9 833,862.5 834,874.9 835,888 836,901.6 837,915.8 838,930.4 839,945.2 840,960.2 841,975.5 841.1,977.8 842,965 843,950 844,935.1 845,920.5 846,906.3 847,892.6 848,879.5 849,867.1 850,855.4 851,844.6 852,834.7 853,825.9 854,818.1 855,811.4 856,806 857,801.8 858,798.8 859,797.1 859.9,796.7 860,796.9 861,798.4 862,801.3 863,805.4 864,810.7 865,817.3 866,825 867,833.7 868,843.5 869,854.2 870,866.4 871,879.7 872,893.7 873,908.4 874,923.6 875,939.3 876,955.2 877,971.3 878,986.6 878,985.9 879,970.3 880,954.9 881,939.9 882,925.3 883,911.4 884,898.1 885,885.6 886,874 887,863.5 888,854 889,845.6 890,838.5 891,832.6 892,828 893,824.7 894,822.7 895,822.1 895.5,822.2 896,822.8 897,824.9 898,828.3 899,832.9 900,838.9 901,845.9 902,854.1 903,863.4 904,873.6 905,884.8 906,897 907,909.9 908,923.3 909,937.3 910,951.7 911,966.3 912,981 912.9,994.2 913,992.8 914,978.6 915,964.6 916,951 917,937.8 918,925.2 919,913.3 920,902.1 921,891.9 922,882.8 923,874.9 924,867.9 925,862 926,857.2 927,853.4 928,850.7 929,849.2 930,848.8 930.5,849 931,849.5 932,851.4 933,854.7 934,859 935,864.3 936,870.6 937,877.7 938,885.6 939,894.3 940,903.4 941,912.7 942,922.4 943,932.4 944,942.8 945,953.3 946,964 947,974.8 948,985.6 949,996.3 949.4,1000 950,993.4 951,983.3 952,973.5 953,964.2 954,955.3 955,946.8 956,938.8 957,931.2 958,924.3 959,917.9 960,912.7 961,908 962,904 963,900.6 964,897.8 965,895.6 966,894 967,893.1 968,892.8 969,893.2 969.8,893.9 970,894.1 971,895.5 972,897.5 973,900.1 974,903.3 975,907.1 976,911.3 977,916.1 978,921.3 979,927 980,933.1 981,939.4 982,946 983,952.8 984,959.9 985,967.2 986,974.7 987,982.2 988,989.9 989,997.7 990,1005.5 991,1013.2 991.6,1018.2 992,1015.9 993,1009 994,1002.1 995,995.4 996,989 997,982.8 998,976.9 999,971.4 1000,966.1 1001,961.3 1002,956.9 1003,952.9 1004,949.5 1005,946.6 1006,944 1007,941.8 1008,940 1009,938.6 1010,937.6 1011,937 1012,936.8 1013,936.9 1014,937.4 1014.8,938.1 1015,938.2 1016,937.9 1017,938 1018,938.5 1019,939.4 1020,940.6 1021,942.2 1022,944.1 1023,946.4 1024,949.1 1025,952.1 1026,955.5 1027,959.3 1028,963.8 1029,968.7 1030,974 1031,979.6 1032,985.5 1033,991.7 1034,998.1 1035,1004.7 1036,1011.5 1037,1018.2 1037.5,1021.5 1038,1017.9 1039,1010.8 1040,1003.6 1041,996.5 1042,989.5 1043,982.7 1044,976 1045,969.5 1046,963.2 1047,957.2 1048,951.5 1049,945.8 1050,940.5 1051,935.6 1052,931.2 1053,927.4 1054,924.1 1055,921.5 1056,919.4 1057,918 1058,917.3 1058,917.2 1059,917 1060,917 1061,917.7 1062,919.1 1063,921.1 1064,923.8 1065,927.1 1066,931.1 1067,935.7 1068,941 1069,946.9 1070,953.4 1071,960.4 1072,967.9 1073,975.8 1074,984.1 1075,992.7 1076,1001.6 1077,1010.5 1077.2,1012.3 1078,1004.4 1079,994.5 1080,984.6 1081,974.9 1082,965.2 1083,955.9 1084,946.8 1085,938 1086,929.7 1087,921.9 1088,914.5 1089,907.7 1090,901.6 1091,896.2 1092,891.4 1093,887.5 1094,884.3 1095,881.9 1096,880.4 1096.1,880.2 1097,879.7 1098,880.1 1099,881.7 1100,884.2 1101,887.5 1102,891.5 1103,896.3 1104,901.8 1105,908 1106,914.8 1107,922.1 1108,930 1109,938.3 1110,947.1 1111,956.2 1112,965.5 1113,975 1114,984.7 1115,994.4 1115,994.9 1116,984.9 1117,974.9 1118,964.9 1119,955.1 1120,945.4 1121,936 1122,926.9 1123,918.3 1124,910.1 1125,902.4 1126,895.3 1127,888.9 1128,883.1 1129,878.1 1130,873.8 1131,870.4 1132,867.8 1133,866.1 1134,865.3 1135,865.7 1136,867.2 1137,869.5 1138,872.8 1139,876.9 1140,881.8 1141,887.6 1142,894.1 1143,901.4 1144,909.8 1145,919.4 1146,929.6 1147,940.5 1148,951.9 1149,963.7 1150,975.9 1151,988.2 1152,1000.8 1152.1,1002 1153,991 1154,978.9 1155,966.9 1156,955.2 1157,943.9 1158,933.1 1159,922.9 1160,913.3 1161,904.6 1162,897 1163,890.2 1164,884.2 1165,879.1 1166,874.9 1167,871.8 1168,869.6 1169,868.4 1169.8,868.1 1170,868.2 1171,869 1172,870.8 1173,873.7 1174,877.5 1175,882.2 1176,887.9 1177,894.5 1178,901.9 1179,910.1 1180,919.2 1181,929 1182,939.5 1183,950.5 1184,961.9 1185,973.6 1186,985.6 1187,997.8 1187.6,1005.1 1188,1000.2 1189,988.1 1190,976.2 1191,964.4 1192,953 1193,942.1 1194,931.6 1195,921.7 1196,912.5 1197,903.9 1198,896.1 1199,889.2 1200,883.3 1201,878.4 1202,874.5 1203,871.8 1204,870.1 1205,869.6 1206,870.2 1207,871.9 1208,875 1209,879.3 1210,884.5 1211,890.8 1212,897.9 1213,905.9 1214,914.4 1215,922.9 1216,932 1217,941.5 1218,951.4 1219,961.6 1220,972 1221,982.6 1222,993.3 1223,1004 1223.1,1005.1 1224,995.6 1225,985.2 1226,975 1227,965.1 1228,955.4 1229,946.2 1230,937.3 1231,929 1232,921.2 1233,914 1234,907.3 1235,901.4 1236,896.2 1237,891.9 1238,888.4 1239,885.7 1240,883.9 1241,883.1 1241.9,883.1 1242,883.1 1243,884.1 1244,886.6 1245,889.8 1246,893.9 1247,898.8 1248,904.4 1249,910.7 1250,917.6 1251,925.1 1252,933.3 1253,942 1254,951.1 1255,960.6 1256,970.3 1257,980.2 1258,990.2 1259,1000.3 1260,1010.2 1260.2,1012.7 1261,1005.5 1262,996.1 1263,987 1264,978.3 1265,969.9 1266,962.1 1267,954.8 1268,948 1269,941.9 1270,936.2 1271,931.2 1272,927 1273,923.6 1274,921 1275,919.2 1276,918.2 1277,918.1 1277.9,918.7 1278,918.7 1279,920.3 1280,922.7 1281,925.7 1282,929.4 1283,933.7 1284,938.6 1285,944.1 1286,949.9 1287,956.5 1288,963.9 1289,971.6 1290,979.6 1291,987.7 1292,995.9 1293,1004.1 1294,1012.2 1294.2,1014.2 1295,1008.4 1296,1000.9 1297,993.9 1298,987.3 1299,981.1 1300,975.5 1301,970.5 1302,966.2 1303,962.7 1304,959.8 1305,957.5 1306,955.9 1307,954.9 1308,954.6 1309,954.9 1310,955.7 1310,955.8 1311,957.2 1312,958.9 1313,961.1 1314,963.9 1315,967.1 1316,970.6 1317,974.6 1318,978.9 1319,983.9 1320,989.2 1321,994.6 1322,1000.2 1323,1005.9 1324,1011.6 1325,1017.2 1325.2,1018.5 1326,1014.7 1327,1009.7 1328,1004.9 1329,1000.3 1330,996.2 1331,992.6 1332,989.4 1333,986.8 1334,984.7 1335,983.1 1336,982 1337,981.3 1338,981.1 1339,981.3 1340,981.9 1340.2,982 1341,982.9 1342,984.2 1343,985.7 1344,987.5 1345,989.5 1346,991.7 1347,994.1 1348,996.6 1349,999.5 1350,1002.4 1351,1005.4 1352,1008.4 1353,1011.3 1354,1014.1 1354.8,1016.1 1355,1015.4 1356,1012.7 1357,1010.3 1358,1008.1 1359,1006.1 1360,1004.4 1361,1003 1362,1002 1363,1001.2 1364,1000.7 1365,1000.5 1366,1000.4 1367,1000.6 1368,1000.5 1369,1000.1 1369.1,1000.1 1370,999.8 1371,999.7 1372,999.8 1373,1000.1 1374,1000.6 1375,1001.2 1376,1002 1377,1003.2 1378,1004.6 1379,1006.3 1380,1008.2 1381,1010.5 1382,1012.9 1382.8,1014.9 1383,1014.3 1384,1012 1385,1009.6 1386,1007.2 1387,1004.7 1388,1002.3 1389,1000.1 1390,998.1 1391,996.4 1392,994.8 1393,993.4 1394,992.3 1395,991.5 1396,990.8 1396,990.8 1397,990.4 1398,990.4 1399,990.8 1400,991.6 1401,992.9 1402,994.5 1403,996.6 1404,999 1405,1001.7 1406,1004.8 1407,1008.2 1408,1011.9 1409,1015.6 1410,1019.5 1410.2,1020.1 1411,1016.5 1412,1012.3 1413,1008.1 1414,1003.9 1415,999.8 1416,995.9 1417,992.1 1418,988.7 1419,985.7 1420,982.9 1421,980.5 1422,978.4 1423,976.7 1424,975.4 1425,974.6 1425.2,974.5 1426,974.4 1427,974.6 1428,975.2 1429,976.4 1430,977.9 1431,979.9 1432,982.3 1433,985.1 1434,988.6 1435,992.5 1436,996.6 1437,1001.1 1438,1005.9 1439,1010.8 1440,1016 1440.2,1017.3 1441,1013.3 1442,1008 1443,1002.8 1444,997.6 1445,992.6 1446,987.8 1447,983.3 1448,979.1 1449,975.3 1450,972 1451,969.2 1452,966.8 1453,965.1 1454,963.9 1454.8,963.4 1455,963.3 1456,963.4 1457,964.1 1458,965.7 1459,967.9 1460,970.8 1461,974.2"/>
<path fill="none" stroke="#e69f00" stroke-width="2" stroke-linejoin="round" d="M122,1172.2 123,1176.8 124,1181.6 124.3,1183 125,1179.4 126,1174.3 127,1169.1 128,1164 129,1158.9 130,1153.9 131,1149 132,1144.3 133,1139.8 134,1135.5 135,1131.5 136,1127.9 137,1124.5 138,1121.6 139,1119.1 140,1117 141,1115.3 142,1115 142.4,1115.1 143,1115.5 144,1116.4 145,1117.8 146,1119.7 147,1122 148,1124.6 149,1127.7 150,1131 151,1134.7 152,1138.5 153,1142.5 154,1146.7 155,1151 156,1155.4 157,1159.8 158,1164.3 159,1168.8 160,1173.3 160.8,1177 161,1176.1 162,1171.5 163,1166.9 164,1162.3 165,1157.6 166,1152.9 167,1148.3 168,1143.8 169,1139.4 170,1135.2 171,1131.2 172,1127.4 173,1124 174,1120.8 175,1118 176,1115.5 177,1113.5 178,1112.1 179,1111.9 179.4,1112 180,1112.2 181,1113 182,1114.3 183,1116 184,1118.1 185,1120.6 186,1123.5 187,1126.7 188,1130.3 189,1134.3 190,1138.7 191,1143.5 192,1148.4 193,1153.6 194,1158.9 195,1164.4 196,1169.9 197,1175.5 197.6,1178.6 198,1176.2 199,1171 200,1165.8 201,1160.8 202,1155.9 203,1151.3 204,1147 205,1142.9 206,1139.2 207,1135.8 208,1132.7 209,1130.1 210,1127.9 211,1126.2 212,1124.9 213,1124.1 214,1123.8 214.9,1123.9 215,1123.9 216,1124.5 217,1125.6 218,1127.1 219,1129.1 220,1131.4 221,1134.2 222,1137.4 223,1140.9 224,1144.6 225,1148.2 226,1152 227,1155.9 228,1160.1 229,1164.3 230,1168.7 231,1173.1 232,1177.5 233,1182 233.5,1184.2 234,1182.1 235,1178 236,1173.9 237,1169.9 238,1166 239,1162.2 240,1158.6 241,1155.3 242,1152.1 243,1149.2 244,1146.6 245,1144.4 246,1142.4 247,1140.7 248,1139.2 249,1137.9 250,1137 251,1136.3 252,1135.9 253,1135.7 254,1135.9 254.1,1135.9 255,1136.4 256,1137.2 257,1138.3 258,1139.6 259,1141.1 260,1142.8 261,1144.8 262,1146.9 263,1149.2 264,1151.7 265,1154.2 266,1156.4 267,1158.6 268,1160.8 269,1163.1 270,1165.5 271,1167.8 272,1170.2 273,1172.6 274,1175 275,1177.3 276,1179.7 277,1182 278,1184.3 278.8,1186 279,1185.4 280,1183 281,1180.6 282,1178 283,1175.5 284,1172.8 285,1170.2 286,1167.5 287,1164.8 288,1162.1 289,1159.3 290,1156.6 291,1153.9 292,1151.3 293,1148.5 294,1145.3 295,1142.3 296,1139.5 297,1136.8 298,1134.4 299,1132.3 300,1130.3 301,1128.7 302,1127.4 303,1126.6 303.1,1126.6 304,1126.5 305,1126.6 306,1127.1 307,1127.9 308,1129.1 309,1130.5 310,1132.3 311,1134.4 312,1136.8 313,1139.5 314,1142.6 315,1145.9 316,1149.4 317,1153.2 318,1157.2 319,1161.4 320,1165.8 321,1170.3 322,1174.9 323,1179.5 323.7,1182.8 324,1181.3 325,1176.3 326,1171.1 327,1166 328,1160.8 329,1155.7 330,1150.6 331,1145.7 332,1140.8 333,1136.2 334,1131.6 335,1127 336,1122.6 337,1118.6 338,1115.1 339,1112 340,1109.4 341,1107.2 342,1105.7 342.9,1104.8 343,1104.8 344,1104.5 345,1104.8 346,1105.6 347,1107.1 348,1109.1 349,1111.7 350,1114.9 351,1118.6 352,1122.8 353,1127.3 354,1132.3 355,1137.7 356,1143.4 357,1149.5 358,1155.8 359,1162.4 360,1169.2 361,1176.2 361.3,1178.4 362,1173.3 363,1166 364,1158.7 365,1151.5 366,1144.3 367,1137.2 368,1130.4 369,1123.8 370,1117.5 371,1111.7 372,1106.2 373,1101.2 374,1096.7 375,1092.6 376,1089.1 377,1086.2 378,1083.9 379,1082.2 380,1081.1 380.1,1081.1 381,1081 382,1081.5 383,1082.7 384,1084.6 385,1087.1 386,1090.2 387,1094 388,1098.4 389,1103.3 390,1108.7 391,1114.4 392,1120.5 393,1127 394,1133.8 395,1141 396,1148.5 397,1156.1 398,1164 399,1172 399.6,1176.8 400,1173.6 401,1165.3 402,1156.9 403,1148.4 404,1140 405,1131.7 406,1123.5 407,1115.5 408,1107.7 409,1100.3 410,1093 411,1085.9 412,1079.4 413,1073.4 414,1068.1 415,1063.5 416,1059.6 417,1056.5 418,1054.3 419,1052.9 419,1052.8 420,1052.6 421,1053.8 422,1055.9 423,1058.8 424,1062.5 425,1067 426,1072.4 427,1078.4 428,1085.2 429,1092.5 430,1100.3 431,1108.6 432,1117.4 433,1126.5 434,1136.1 435,1145.9 436,1155.9 437,1165.9 437.9,1174.9 438,1173.9 439,1163.2 440,1152.5 441,1141.7 442,1131 443,1120.5 444,1110.1 445,1100 446,1090.3 447,1081 448,1072.2 449,1063.8 450,1056.2 451,1049.2 452,1043 453,1037.5 454,1033 455,1029.3 456,1026.6 457,1025.4 458,1025.5 459,1026.6 460,1028.7 461,1031.8 462,1035.8 463,1040.7 464,1046.5 465,1053.1 466,1060.5 467,1069 468,1078.6 469,1089 470,1100 471,1111.5 472,1123.5 473,1135.8 474,1148.4 475,1161.7 475.2,1165.1 476,1155.4 477,1142.5 478,1129.6 479,1116.8 480,1104.3 481,1092.1 482,1080.4 483,1069.3 484,1058.8 485,1049.2 486,1040.5 487,1032.6 488,1025.8 489,1020 490,1015.2 491,1011.7 492,1009.3 492.9,1008.3 493,1008.2 494,1008.9 495,1010.9 496,1014.2 497,1018.7 498,1024.4 499,1031.3 500,1039.3 501,1048.4 502,1058.5 503,1069.6 504,1081.6 505,1094.4 506,1107.8 507,1121.8 508,1136.3 509,1151.2 510,1166.3 510.6,1175.4 511,1169.5 512,1154.7 513,1140.2 514,1125.9 515,1112.1 516,1098.9 517,1086.3 518,1074.5 519,1063.4 520,1053.3 521,1044.2 522,1036.2 523,1029.3 524,1023.6 525,1019.2 526,1016.1 527,1014.2 528,1013.7 528.1,1013.7 529,1014.5 530,1016.7 531,1020.8 532,1026.1 533,1032.5 534,1040.1 535,1048.6 536,1058.1 537,1068.3 538,1078 539,1088.2 540,1098.8 541,1109.8 542,1121.1 543,1132.5 544,1144.1 545,1155.8 546,1167.4 547,1178.4 547,1177.8 548,1166.4 549,1155.1 550,1143.9 551,1133.1 552,1122.5 553,1112.4 554,1102.6 555,1093.4 556,1084.8 557,1076.7 558,1069.1 559,1062.2 560,1056.1 561,1050.8 562,1046.4 563,1042.8 564,1040.1 565,1038.3 566,1038 566.8,1038.6 567,1038.9 568,1040.7 569,1043.3 570,1046.8 571,1051 572,1056 573,1061.7 574,1068.1 575,1075.1 576,1082.6 577,1090.4 578,1098.5 579,1106.9 580,1115.5 581,1124.4 582,1133.4 583,1142.5 584,1151.6 585,1160.7 586,1169.7 586.6,1175.5 587,1172.3 588,1163.5 589,1154.8 590,1146.3 591,1138 592,1130 593,1122.4 594,1115 595,1108.1 596,1101.6 597,1095.5 598,1089.6 599,1084.2 600,1079.6 601,1075.7 602,1072.5 603,1070.1 604,1068.4 605,1067.6 606,1067.5 606.1,1067.5 607,1068.3 608,1069.8 609,1072.1 610,1075.1 611,1078.8 612,1083.2 613,1088.2 614,1093.9 615,1100.1 616,1106.4 617,1112.7 618,1119.4 619,1126.4 620,1133.6 621,1141 622,1148.6 623,1156.3 624,1164 625,1171.8 625.8,1178.4 626,1177.2 627,1169.7 628,1162.2 629,1154.8 630,1147.6 631,1140.5 632,1133.7 633,1127.1 634,1120.8 635,1114.9 636,1109.3 637,1104.2 638,1099.6 639,1095.4 640,1091.7 641,1088.4 642,1085.6 643,1083.3 644,1081.6 645,1080.3 646,1079.7 647,1079.5 647,1079.5 648,1079.8 649,1080.6 650,1081.9 651,1083.8 652,1086.2 653,1089.1 654,1092.5 655,1096.3 656,1100.7 657,1105.4 658,1110.6 659,1116.1 660,1122 661,1128.3 662,1134.8 663,1141.5 664,1148.5 665,1155.7 666,1163.1 667,1170.6 668,1178.1 668.6,1182.9 669,1180.2 670,1172.4 671,1164.5 672,1156.6 673,1148.7 674,1140.9 675,1133.2 676,1125.6 677,1118.2 678,1111 679,1104.1 680,1097.2 681,1090.5 682,1084.3 683,1078.6 684,1073.5 685,1068.9 686,1065 687,1061.7 688,1059.2 689,1057.3 689.5,1056.8 690,1056.8 691,1057.3 692,1058.5 693,1060.5 694,1063.2 695,1066.7 696,1070.7 697,1075.5 698,1080.9 699,1086.8 700,1093.3 701,1100.1 702,1107.5 703,1115.2 704,1123.2 705,1131.6 706,1140.3 707,1149.1 708,1158.1 709,1167.3 709.7,1173.8 710,1170.9 711,1161.3 712,1151.6 713,1141.9 714,1132.2 715,1122.5 716,1113 717,1103.8 718,1094.7 719,1086 720,1077.7 721,1069.2 722,1061.3 723,1054.1 724,1047.6 725,1042 726,1037.2 727,1033.4 728,1030.5 729,1029 729.2,1028.8 730,1028.7 731,1029.4 732,1031.1 733,1033.9 734,1037.7 735,1042.4 736,1048.2 737,1054.9 738,1062.4 739,1070.7 740,1079.7 741,1089.4 742,1099.7 743,1110.5 744,1121.9 745,1133.7 746,1145.8 747,1158.2 748,1170.8 749,1157.9 750,1145.1 751,1132.3 752,1119.7 753,1107.4 754,1095.4 755,1083.9 756,1072.9 757,1062.5 758,1052.4 759,1042.7 760,1034 761,1026.4 762,1019.8 763,1014.5 764,1010.3 765,1007.5 766,1006.1 766.2,1006 767,1006.1 768,1007.3 769,1009.9 770,1013.7 771,1018.8 772,1025.1 773,1032.6 774,1041.2 775,1050.9 776,1061 777,1071.8 778,1083.4 779,1095.7 780,1108.5 781,1121.8 782,1135.5 783,1149.4 784,1163.5 784.2,1166.3 785,1155.1 786,1141 787,1127.1 788,1113.3 789,1099.7 790,1086.6 791,1073.9 792,1061.8 793,1050.4 794,1039.7 795,1029.7 796,1020.8 797,1012.9 798,1006.1 799,1000.5 800,996.2 801,993.1 802,991.6 802.5,991.6 803,992 804,993.7 805,996.8 806,1001.2 807,1006.9 808,1013.8 809,1022 810,1031.3 811,1041.6 812,1052.4 813,1063.3 814,1074.9 815,1087.1 816,1099.9 817,1113.1 818,1126.6 819,1140.5 820,1154.6 821,1168.9 821.6,1178.2 822,1173.4 823,1159.2 824,1144.8 825,1130.6 826,1116.6 827,1102.9 828,1089.7 829,1076.9 830,1064.6 831,1053 832,1041.9 833,1031 834,1021 835,1012.1 836,1004.3 837,997.6 838,992.2 839,988 840,985.1 841,984 841.1,984.1 842,985 843,987.2 844,990.7 845,995.4 846,1001.3 847,1008.3 848,1016.3 849,1025.4 850,1035.3 851,1046 852,1057.4 853,1069.5 854,1082.1 855,1095.1 856,1108.5 857,1122.1 858,1135.8 859,1149.7 859.9,1162 860,1160 861,1146 862,1132.2 863,1118.4 864,1104.9 865,1091.7 866,1079 867,1066.8 868,1055.2 869,1044.3 870,1033.7 871,1023.9 872,1015.3 873,1007.8 874,1001.5 875,996.6 876,993 877,990.8 878,990 878,990 879,990.8 880,993.4 881,997.4 882,1002.7 883,1009.4 884,1017.4 885,1026.6 886,1037 887,1048.4 888,1060.7 889,1074 890,1088 891,1102.6 892,1117.9 893,1133.5 894,1149.5 895,1165.6 895.5,1173.7 896,1166 897,1150.4 898,1135.2 899,1120.5 900,1106.4 901,1092.9 902,1080.2 903,1068.4 904,1057.6 905,1047.7 906,1038.8 907,1031.2 908,1024.9 909,1019.9 910,1016.2 911,1014 912,1013.1 912.9,1013.5 913,1013.6 914,1015.5 915,1018.9 916,1023.6 917,1029.5 918,1036.5 919,1044.7 920,1053.8 921,1063.9 922,1074.5 923,1085.6 924,1097.1 925,1109.2 926,1121.6 927,1134.2 928,1147.1 929,1159.9 930,1172.8 930.5,1179.8 931,1174.2 932,1162.1 933,1150 934,1138.4 935,1127.3 936,1116.7 937,1106.7 938,1097.5 939,1089 940,1081.5 941,1075.2 942,1069.7 943,1065 944,1061.1 945,1058 946,1055.8 947,1054.4 948,1053.9 949,1054.2 949.4,1054.5 950,1055.3 951,1057.9 952,1061.3 953,1065.4 954,1070.2 955,1075.6 956,1081.5 957,1087.9 958,1094.8 959,1101.9 960,1108.9 961,1116 962,1123.2 963,1130.5 964,1137.9 965,1145.2 966,1152.4 967,1159.5 968,1166.5 969,1173.2 969.8,1178.5 970,1177.2 971,1170.7 972,1164.4 973,1158.2 974,1152.3 975,1146.5 976,1140.9 977,1135.6 978,1130.6 979,1125.9 980,1121.5 981,1117.5 982,1114 983,1110.8 984,1108 985,1105.6 986,1103.5 987,1101.9 988,1100.7 989,1099.8 990,1099.4 991,1099.3 991.6,1099.6 992,1099.8 993,1100.6 994,1101.9 995,1103.5 996,1105.5 997,1107.8 998,1110.5 999,1113.4 1000,1116.7 1001,1120.3 1002,1124.1 1003,1128.1 1004,1132.1 1005,1136.3 1006,1140.6 1007,1145 1008,1149.5 1009,1154.1 1010,1158.8 1011,1163.5 1012,1168.3 1013,1173 1014,1177.7 1014.8,1181.5 1015,1180.5 1016,1176 1017,1171.3 1018,1166.7 1019,1162 1020,1157.5 1021,1153 1022,1148.5 1023,1144.2 1024,1140 1025,1136 1026,1132.1 1027,1128.3 1028,1124.5 1029,1120.9 1030,1117.6 1031,1114.6 1032,1112 1033,1109.7 1034,1107.8 1035,1106.2 1036,1105.1 1037,1104.4 1037.5,1104.2 1038,1104 1039,1104 1040,1104.3 1041,1105.1 1042,1106.2 1043,1107.8 1044,1109.8 1045,1112.2 1046,1115.1 1047,1118.3 1048,1121.9 1049,1126.2 1050,1131 1051,1136.2 1052,1141.7 1053,1147.5 1054,1153.7 1055,1160.1 1056,1166.7 1057,1173.5 1058,1180.1 1058,1179.8 1059,1172.8 1060,1165.7 1061,1158.6 1062,1151.5 1063,1144.4 1064,1137.4 1065,1130.6 1066,1124 1067,1117.6 1068,1111.4 1069,1105.6 1070,1100.1 1071,1095.1 1072,1090.6 1073,1086.7 1074,1083.4 1075,1080.6 1076,1078.6 1077,1077.2 1077.2,1077 1078,1076.7 1079,1077.3 1080,1078.7 1081,1080.7 1082,1083.5 1083,1087 1084,1091.1 1085,1095.9 1086,1101.3 1087,1107.3 1088,1113.8 1089,1120.9 1090,1128.5 1091,1136.4 1092,1144.8 1093,1153.4 1094,1162.3 1095,1171.4 1096,1180.6 1096.1,1182 1097,1174 1098,1164.6 1099,1155.2 1100,1145.7 1101,1136.4 1102,1127.3 1103,1118.4 1104,1109.9 1105,1101.7 1106,1094 1107,1086.7 1108,1080.1 1109,1074 1110,1068.6 1111,1063.9 1112,1060 1113,1056.9 1114,1054.6 1115,1053.2 1115,1053.1 1116,1052.7 1117,1054 1118,1056.1 1119,1059.1 1120,1062.9 1121,1067.6 1122,1072.9 1123,1079.1 1124,1085.9 1125,1093.3 1126,1101.2 1127,1109.7 1128,1118.7 1129,1128 1130,1137.7 1131,1147.7 1132,1157.8 1133,1168.1 1134,1178.6 1135,1168.2 1136,1157.9 1137,1147.5 1138,1137.3 1139,1127.3 1140,1117.5 1141,1108.1 1142,1099 1143,1090.4 1144,1082 1145,1073.9 1146,1066.6 1147,1060.2 1148,1054.7 1149,1050.3 1150,1046.9 1151,1044.6 1152,1043.4 1152.1,1043.4 1153,1043.6 1154,1045.1 1155,1047.8 1156,1051.6 1157,1056.4 1158,1062.4 1159,1069.3 1160,1077.2 1161,1085.9 1162,1095 1163,1104.8 1164,1115.2 1165,1126.2 1166,1137.6 1167,1149.4 1168,1161.5 1169,1173.7 1169.8,1183 1170,1180 1171,1167.7 1172,1155.5 1173,1143.5 1174,1132 1175,1120.8 1176,1110.3 1177,1100.3 1178,1091 1179,1082.5 1180,1074.5 1181,1067.5 1182,1061.4 1183,1056.3 1184,1052.2 1185,1049.2 1186,1047.3 1187,1046.4 1187.6,1046.5 1188,1046.7 1189,1048.2 1190,1050.7 1191,1054.2 1192,1058.6 1193,1064 1194,1070.1 1195,1077.1 1196,1084.8 1197,1093.3 1198,1102.4 1199,1112.1 1200,1122.2 1201,1132.6 1202,1143.3 1203,1154.1 1204,1164.9 1205,1175.8 1206,1164.6 1207,1153.7 1208,1143 1209,1132.6 1210,1122.6 1211,1113 1212,1103.9 1213,1095.4 1214,1087.8 1215,1081.3 1216,1075.5 1217,1070.3 1218,1065.9 1219,1062.2 1220,1059.2 1221,1057.1 1222,1055.8 1223,1055.3 1223.1,1055.3 1224,1056.1 1225,1058.4 1226,1061.5 1227,1065.4 1228,1069.9 1229,1075.1 1230,1080.9 1231,1087.2 1232,1094.1 1233,1101.4 1234,1109.2 1235,1117.3 1236,1125.7 1237,1134.3 1238,1143 1239,1151.8 1240,1160.5 1241,1169.2 1241.9,1176.9 1242,1176.1 1243,1167.8 1244,1159.6 1245,1151.4 1246,1143.4 1247,1135.7 1248,1128.3 1249,1121.2 1250,1114.5 1251,1108.3 1252,1102.4 1253,1097 1254,1092.3 1255,1088.2 1256,1084.8 1257,1082 1258,1080 1259,1078.7 1260,1078.1 1260.2,1078.2 1261,1079.1 1262,1080.9 1263,1083.3 1264,1086.5 1265,1090.3 1266,1094.6 1267,1099.6 1268,1105 1269,1110.8 1270,1117.3 1271,1124.2 1272,1131.4 1273,1138.9 1274,1146.5 1275,1154.2 1276,1162 1277,1169.7 1277.9,1177 1278,1176.6 1279,1169.2 1280,1162 1281,1155.1 1282,1148.4 1283,1142.1 1284,1136.3 1285,1130.8 1286,1125.9 1287,1121.2 1288,1116.9 1289,1113.2 1290,1110.3 1291,1108.2 1292,1106.9 1293,1106.4 1294,1106.6 1294.2,1106.8 1295,1107.7 1296,1109.5 1297,1112 1298,1115.1 1299,1118.9 1300,1123.2 1301,1128.1 1302,1133.3 1303,1138.7 1304,1144.3 1305,1150.1 1306,1156.1 1307,1162.2 1308,1168.3 1309,1174.3 1310,1179.9 1310,1179.7 1311,1174.1 1312,1168.9 1313,1163.9 1314,1159.3 1315,1155.1 1316,1151.4 1317,1148 1318,1145.2 1319,1142.5 1320,1140.3 1321,1138.8 1322,1137.9 1323,1137.6 1324,1137.9 1325,1138.8 1325.2,1139.1 1326,1140.1 1327,1142.1 1328,1144.6 1329,1147.5 1330,1150.7 1331,1154.2 1332,1157.9 1333,1161.7 1334,1165.4 1335,1169.2 1336,1172.9 1337,1176.6 1338,1180.1 1339,1183.4 1340,1186.5 1340.2,1187 1341,1184.9 1342,1182.8 1343,1180.7 1344,1178.6 1345,1176.6 1346,1174.8 1347,1173.2 1348,1171.9 1349,1170.7 1350,1169.7 1351,1169.1 1352,1168.8 1353,1168.7 1354,1168.9 1354.8,1169.1 1355,1169.3 1356,1169.6 1357,1170.1 1358,1170.8 1359,1171.6 1360,1172.6 1361,1173.8 1362,1175 1363,1176.3 1364,1177.6 1365,1178.9 1366,1180.3 1367,1181.7 1368,1183.1 1369,1184.5 1369.1,1184.6 1370,1183.3 1371,1181.9 1372,1180.6 1373,1179.3 1374,1178.1 1375,1177 1376,1176 1377,1175.1 1378,1174.2 1379,1173.5 1380,1173 1381,1172.7 1382,1172.4 1382.8,1172.2 1383,1172.2 1384,1172.3 1385,1172.5 1386,1173 1387,1173.6 1388,1174.4 1389,1175.4 1390,1176.5 1391,1177.6 1392,1178.8 1393,1180.1 1394,1181.5 1395,1183 1396,1184.4 1396,1184.3 1397,1182.6 1398,1180.6 1399,1178.3 1400,1175.8 1401,1173.1 1402,1170.2 1403,1167.2 1404,1164.3 1405,1161.4 1406,1158.6 1407,1156 1408,1153.5 1409,1152.4 1410,1151.7 1410.2,1151.6 1411,1151.3 1412,1151.3 1413,1151.7 1414,1152.5 1415,1153.7 1416,1155.3 1417,1157.3 1418,1159.6 1419,1162.1 1420,1164.8 1421,1167.9 1422,1171.2 1423,1174.7 1424,1178.4 1425,1182.3 1425.2,1183.1 1426,1179.8 1427,1175.7 1428,1171.5 1429,1167.3 1430,1163.2 1431,1159.2 1432,1155.3 1433,1151.6 1434,1147.9 1435,1144.6 1436,1141.6 1437,1139.1 1438,1137 1439,1135.4 1440,1134.4 1440.2,1134.3 1441,1134.2 1442,1134.7 1443,1135.7 1444,1137.2 1445,1139.3 1446,1141.9 1447,1145.1 1448,1148.6 1449,1152.6 1450,1157 1451,1161.7 1452,1166.6 1453,1171.8 1454,1177.2 1454.8,1181.6 1455,1180.6 1456,1175 1457,1169.5 1458,1164.2 1459,1159.1 1460,1154.2 1461,1149.7"/>
<path fill="none" stroke="#0000ff" stroke-width="2" stroke-linejoin="round" d="M122,1129.4 123,1127.7 124,1126.6 124.3,1126.4 125,1126.1 126,1126 127,1126.5 128,1127.6 129,1129.2 130,1131.4 131,1134.2 132,1137.5 133,1141.3 134,1145.6 135,1150.5 136,1155.8 137,1161.5 138,1167.6 139,1174 140,1180.7 141,1187.7 142,1194.9 142.4,1198.2 143,1194.2 144,1187 145,1180 146,1173.3 147,1166.8 148,1160.6 149,1154.8 150,1149.4 151,1144.5 152,1140 153,1136.1 154,1132.7 155,1129.9 156,1127.5 157,1125.7 158,1124.4 159,1123.6 160,1123.4 160.8,1123.6 161,1123.7 162,1123.4 163,1123.6 164,1124.3 165,1125.5 166,1127.3 167,1129.7 168,1132.5 169,1135.9 170,1139.8 171,1144.1 172,1148.8 173,1154 174,1159.6 175,1165.5 176,1171.7 177,1178.2 178,1185 179,1191.9 179.4,1194.9 180,1191 181,1184 182,1177.1 183,1170.4 184,1164 185,1157.8 186,1152 187,1146.6 188,1141.5 189,1136.8 190,1132.4 191,1128.5 192,1125.2 193,1122.4 194,1120.3 195,1118.8 196,1117.8 197,1117.5 197.6,1117.6 198,1117.8 199,1118.7 200,1120.2 201,1122.3 202,1124.8 203,1127.8 204,1131.3 205,1135.3 206,1139.5 207,1144.2 208,1149.2 209,1154.4 210,1159.8 211,1165.3 212,1171 213,1176.7 214,1182.3 214.9,1187.7 215,1187.4 216,1181.5 217,1176 218,1170.7 219,1165.5 220,1160.5 221,1155.8 222,1151.4 223,1147.3 224,1143.8 225,1140.8 226,1138.2 227,1136 228,1134.1 229,1132.5 230,1131.3 231,1130.5 232,1130.1 233,1130 233.5,1130.1 234,1130.3 235,1130.9 236,1132 237,1133.4 238,1135.2 239,1137.3 240,1139.7 241,1142.5 242,1145.6 243,1149 244,1152.5 245,1156 246,1159.8 247,1163.8 248,1167.9 249,1172.1 250,1176.4 251,1180.8 252,1185.3 253,1189.8 254,1194.3 254.1,1194.8 255,1191.1 256,1187 257,1182.8 258,1178.8 259,1174.9 260,1171.2 261,1167.7 262,1164.4 263,1161.3 264,1158.5 265,1156 266,1154.3 267,1152.7 268,1151.3 269,1150.1 270,1149 271,1148.1 272,1147.4 273,1146.8 274,1146.4 275,1146.2 276,1146.1 277,1146.2 278,1146.5 278.8,1146.1 279,1145.9 280,1145.2 281,1144.6 282,1144.3 283,1144.1 284,1144 285,1144.2 286,1144.5 287,1145 288,1145.8 289,1146.7 290,1147.8 291,1149.1 292,1150.5 293,1152.5 294,1155.2 295,1158.2 296,1161.6 297,1165.2 298,1169 299,1173.1 300,1177.4 301,1181.8 302,1186.2 303,1190.8 303.1,1191.2 304,1186.6 305,1181.4 306,1176.3 307,1171.2 308,1166.3 309,1161.5 310,1156.9 311,1152.4 312,1148.2 313,1144.2 314,1140.4 315,1136.8 316,1133.6 317,1130.7 318,1128.1 319,1125.8 320,1123.9 321,1122.4 322,1121.2 323,1120.2 323.7,1119.5 324,1119.3 325,1118.8 326,1118.8 327,1119.1 328,1119.8 329,1121 330,1122.5 331,1124.4 332,1126.7 333,1129.4 334,1132.4 335,1136.3 336,1140.6 337,1145.2 338,1150.2 339,1155.5 340,1161 341,1166.7 342,1172.7 342.9,1178.4 343,1178.1 344,1171.9 345,1165.7 346,1159.3 347,1153 348,1146.7 349,1140.5 350,1134.5 351,1128.8 352,1123.2 353,1118.2 354,1113.4 355,1109.1 356,1105.3 357,1101.9 358,1099 359,1096.7 360,1094.9 361,1093.8 361.3,1093.6 362,1093.3 363,1093.4 364,1094.2 365,1095.7 366,1097.8 367,1100.7 368,1104.2 369,1108.4 370,1113.2 371,1118.6 372,1124.5 373,1131 374,1138 375,1145.5 376,1153.4 377,1161.6 378,1170.3 379,1179.2 380,1187.9 380.1,1188.8 381,1180.5 382,1171.3 383,1162.3 384,1153.3 385,1144.7 386,1136.2 387,1128.2 388,1120.5 389,1113.2 390,1106.6 391,1100.6 392,1095.2 393,1090.3 394,1085.9 395,1082.2 396,1079.1 397,1076.6 398,1074.8 399,1073.7 399.6,1073.1 400,1072.7 401,1072.3 402,1072.6 403,1073.5 404,1075.2 405,1077.5 406,1080.6 407,1084.3 408,1088.6 409,1093.6 410,1099.4 411,1106.1 412,1113.5 413,1121.4 414,1129.8 415,1138.6 416,1147.9 417,1157.4 418,1167.3 419,1177 419,1176.4 420,1166.2 421,1155.9 422,1145.8 423,1135.8 424,1126 425,1116.6 426,1107.5 427,1098.8 428,1090.7 429,1083.3 430,1076.5 431,1070.4 432,1065 433,1060.3 434,1056.4 435,1053.3 436,1051.1 437,1049.7 437.9,1049.1 438,1049 439,1048.2 440,1048.4 441,1049.5 442,1051.6 443,1054.6 444,1058.6 445,1063.5 446,1069.4 447,1076.2 448,1083.9 449,1092.5 450,1102 451,1112.2 452,1123.1 453,1134.7 454,1146.8 455,1159.5 456,1172.6 457,1186 458,1172.3 459,1158.7 460,1145.3 461,1132.1 462,1119.4 463,1107.1 464,1095.3 465,1084.2 466,1073.7 467,1063.6 468,1054.1 469,1045.6 470,1038.1 471,1031.9 472,1026.8 473,1023 474,1020.4 475,1019.1 475.2,1018.9 476,1019 477,1020 478,1022.2 479,1025.7 480,1030.4 481,1036.3 482,1043.4 483,1051.4 484,1060.5 485,1070.4 486,1081 487,1092.4 488,1104.5 489,1117.1 490,1130.1 491,1143.5 492,1157.1 492.9,1169.4 493,1168 494,1153.6 495,1139.4 496,1125.5 497,1111.9 498,1098.8 499,1086.3 500,1074.4 501,1063.3 502,1053 503,1043.5 504,1035 505,1027.6 506,1021.4 507,1016.3 508,1012.4 509,1009.7 510,1008.3 510.6,1008.1 511,1008.3 512,1009.8 513,1012.5 514,1016.4 515,1021.5 516,1027.7 517,1034.9 518,1043.2 519,1052.4 520,1062.5 521,1073.4 522,1084.9 523,1097.1 524,1109.7 525,1122.7 526,1136 527,1149.4 528,1162.9 528.1,1164.9 529,1153.3 530,1140 531,1127.6 532,1115.6 533,1104 534,1093 535,1082.6 536,1073 537,1064.3 538,1057.5 539,1051.4 540,1046.1 541,1041.6 542,1037.9 543,1035 544,1033 545,1031.9 546,1031.6 547,1032.2 547,1032.3 548,1033.1 549,1034.7 550,1037.3 551,1040.6 552,1044.9 553,1050 554,1056 555,1062.7 556,1070.2 557,1078.5 558,1087.7 559,1097.6 560,1108.1 561,1119.1 562,1130.7 563,1142.7 564,1155.1 565,1167.8 566,1180.7 566.8,1190.4 567,1187.5 568,1175.2 569,1163.1 570,1151.4 571,1140.2 572,1129.6 573,1119.5 574,1110.1 575,1101.4 576,1093.4 577,1086.4 578,1080.3 579,1075 580,1070.4 581,1066.7 582,1063.7 583,1061.6 584,1060.3 585,1059.7 586,1060 586.6,1060 587,1060.2 588,1061.2 589,1063 590,1065.4 591,1068.5 592,1072.2 593,1076.6 594,1081.5 595,1087 596,1092.9 597,1099.5 598,1106.9 599,1114.8 600,1123 601,1131.6 602,1140.3 603,1149.2 604,1158.2 605,1167.2 606,1176.2 606.1,1177.1 607,1168.7 608,1159.8 609,1151.1 610,1142.6 611,1134.4 612,1126.5 613,1119 614,1112 615,1105.5 616,1100 617,1095.2 618,1090.9 619,1087.1 620,1083.9 621,1081.2 622,1079.1 623,1077.5 624,1076.6 625,1076.2 625.8,1076.4 626,1076.5 627,1077 628,1078.1 629,1079.8 630,1082.1 631,1085 632,1088.4 633,1092.3 634,1096.8 635,1101.7 636,1107.2 637,1112.9 638,1119 639,1125.4 640,1132.2 641,1139.2 642,1146.5 643,1154 644,1161.7 645,1169.6 646,1177.5 647,1185.5 647,1185.9 648,1178.6 649,1170.9 650,1163.2 651,1155.6 652,1148.3 653,1141.1 654,1134.1 655,1127.5 656,1121.2 657,1115.2 658,1109.6 659,1104.4 660,1099.7 661,1095.4 662,1091.6 663,1088.3 664,1085.5 665,1083.3 666,1081.5 667,1080.4 668,1079.7 668.6,1079.6 669,1079.3 670,1078.7 671,1078.6 672,1079.2 673,1080.3 674,1082 675,1084.3 676,1087.2 677,1090.7 678,1094.8 679,1099.5 680,1104.9 681,1111.3 682,1118.2 683,1125.6 684,1133.6 685,1142 686,1150.9 687,1160.1 688,1169.7 689,1179.5 689.5,1184.5 690,1179.5 691,1169.4 692,1159.5 693,1149.6 694,1139.9 695,1130.5 696,1121.4 697,1112.6 698,1104.2 699,1096.3 700,1089 701,1082.3 702,1076.2 703,1070.7 704,1065.8 705,1061.7 706,1058.2 707,1055.5 708,1053.6 709,1052.4 709.7,1051.6 710,1051.3 711,1050.7 712,1051 713,1052.1 714,1054 715,1056.7 716,1060.3 717,1064.7 718,1069.9 719,1075.9 720,1082.7 721,1091 722,1100.2 723,1110.1 724,1120.7 725,1132 726,1143.8 727,1156.1 728,1168.6 729,1181.2 729.2,1183.8 730,1173 731,1159.5 732,1146.2 733,1133.1 734,1120.3 735,1107.9 736,1096 737,1084.7 738,1074.1 739,1064.2 740,1055.2 741,1047.1 742,1039.8 743,1033.5 744,1028.1 745,1023.8 746,1020.5 747,1018.2 748,1017.1 749,1017 750,1018 751,1020.1 752,1023.2 753,1027.4 754,1032.6 755,1038.8 756,1046 757,1054 758,1063.3 759,1073.8 760,1085.2 761,1097.3 762,1110.1 763,1123.3 764,1137 765,1151.1 766,1165.7 766.2,1169.4 767,1158.4 768,1143.8 769,1129.3 770,1115 771,1101.2 772,1087.8 773,1075 774,1062.9 775,1051.6 776,1041.6 777,1032.6 778,1024.5 779,1017.4 780,1011.4 781,1006.6 782,1002.9 783,1000.4 784,999.1 784.2,999 785,999.1 786,1000.3 787,1002.7 788,1006.4 789,1011.3 790,1017.4 791,1024.6 792,1033 793,1042.4 794,1052.9 795,1064.4 796,1076.8 797,1089.9 798,1103.7 799,1118.2 800,1133 801,1148.3 802,1163.8 802.5,1170.9 803,1162.4 804,1147.1 805,1131.9 806,1117.1 807,1102.8 808,1089 809,1075.8 810,1063.4 811,1051.8 812,1041.7 813,1033 814,1025.2 815,1018.3 816,1012.3 817,1007.2 818,1003.2 819,1000.2 820,998.3 821,997.3 821.6,997.3 822,997.5 823,997.9 824,999.1 825,1001.4 826,1004.8 827,1009.2 828,1014.6 829,1021.1 830,1028.5 831,1036.9 832,1046.4 833,1057.5 834,1069.6 835,1082.5 836,1096.2 837,1110.6 838,1125.6 839,1141 840,1156.9 841,1172.9 841.1,1175.3 842,1161.6 843,1145.6 844,1130 845,1114.7 846,1100 847,1086 848,1072.6 849,1060.1 850,1048.4 851,1037.7 852,1028.1 853,1019.5 854,1012.1 855,1005.9 856,1000.9 857,997.2 858,994.7 859,993.3 859.9,992.7 860,992.7 861,993.4 862,995.3 863,998.5 864,1002.9 865,1008.5 866,1015.2 867,1023.1 868,1032 869,1041.8 870,1053.2 871,1065.7 872,1079 873,1093.1 874,1107.7 875,1122.9 876,1138.5 877,1154.3 878,1169.4 878,1168.6 879,1152.3 880,1136.2 881,1120.5 882,1105.3 883,1090.7 884,1076.8 885,1063.7 886,1051.6 887,1040.5 888,1030.5 889,1021.7 890,1014.1 891,1007.8 892,1002.8 893,999.1 894,996.7 895,995.7 895.5,995.7 896,996.1 897,998.4 898,1002.1 899,1007 900,1013 901,1020.2 902,1028.3 903,1037.4 904,1047.4 905,1058.2 906,1069.8 907,1082 908,1094.6 909,1107.6 910,1120.7 911,1133.9 912,1147.1 912.9,1158.9 913,1157.6 914,1144.5 915,1132.2 916,1120.3 917,1108.8 918,1097.9 919,1087.6 920,1078 921,1069.2 922,1061.4 923,1054.8 924,1049 925,1044.2 926,1040.3 927,1037.4 928,1035.6 929,1034.7 930,1034.9 930.5,1035.4 931,1036.1 932,1038.3 933,1041.2 934,1045.1 935,1050 936,1055.7 937,1062.3 938,1069.8 939,1078 940,1086.6 941,1095.5 942,1104.8 943,1114.6 944,1124.8 945,1135.2 946,1145.9 947,1156.8 948,1167.7 949,1178.7 949.4,1182.6 950,1176.3 951,1166.9 952,1157.7 953,1148.6 954,1140 955,1131.8 956,1124.2 957,1117.3 958,1110.9 959,1105.3 960,1100.8 961,1097 962,1093.9 963,1091.3 964,1089.4 965,1088 966,1087.3 967,1087.2 968,1087.7 969,1088.8 969.8,1090 970,1090.3 971,1091.1 972,1092.4 973,1094.2 974,1096.6 975,1099.4 976,1102.7 977,1106.5 978,1110.7 979,1115.3 980,1120.3 981,1125.5 982,1131 983,1136.7 984,1142.7 985,1148.9 986,1155.3 987,1161.8 988,1168.5 989,1175.3 990,1182.1 991,1188.9 991.6,1193.4 992,1191.1 993,1184.7 994,1178.1 995,1171.7 996,1165.4 997,1159.4 998,1153.7 999,1148.3 1000,1143.1 1001,1138.3 1002,1133.9 1003,1129.8 1004,1126.4 1005,1123.2 1006,1120.5 1007,1118.1 1008,1116 1009,1114.3 1010,1113 1011,1112 1012,1111.3 1013,1111.1 1014,1111.1 1014.8,1111.4 1015,1111.5 1016,1111.4 1017,1111.6 1018,1112.2 1019,1113.1 1020,1114.3 1021,1115.9 1022,1117.7 1023,1119.9 1024,1122.4 1025,1125.1 1026,1128.1 1027,1131.5 1028,1135.5 1029,1139.8 1030,1144.4 1031,1149.2 1032,1154.2 1033,1159.4 1034,1164.7 1035,1170.2 1036,1175.8 1037,1181.6 1037.5,1184.6 1038,1181.7 1039,1175.8 1040,1169.9 1041,1163.9 1042,1158 1043,1152.2 1044,1146.4 1045,1140.8 1046,1135.4 1047,1130.1 1048,1125.1 1049,1120 1050,1115.2 1051,1110.8 1052,1106.8 1053,1103.3 1054,1100.3 1055,1097.8 1056,1095.8 1057,1094.5 1058,1093.7 1058,1093.7 1059,1093.4 1060,1093.4 1061,1094.1 1062,1095.5 1063,1097.4 1064,1100 1065,1103.3 1066,1107.1 1067,1111.6 1068,1116.7 1069,1122.5 1070,1128.9 1071,1135.8 1072,1143.2 1073,1151 1074,1159.2 1075,1167.8 1076,1176.6 1077,1185.5 1077.2,1187.3 1078,1179.7 1079,1170.4 1080,1161.1 1081,1152 1082,1143.2 1083,1134.6 1084,1126.4 1085,1118.6 1086,1111.2 1087,1104.3 1088,1098 1089,1092.2 1090,1087.1 1091,1082.6 1092,1078.8 1093,1075.8 1094,1073.5 1095,1071.9 1096,1071.1 1096.1,1071.1 1097,1070.7 1098,1070.8 1099,1071.7 1100,1073.3 1101,1075.8 1102,1079 1103,1082.9 1104,1087.6 1105,1093 1106,1099.1 1107,1105.8 1108,1113.2 1109,1121 1110,1129.4 1111,1138.2 1112,1147.4 1113,1157 1114,1166.8 1115,1176.7 1115,1177.2 1116,1167.2 1117,1156.8 1118,1146.5 1119,1136.5 1120,1126.8 1121,1117.5 1122,1108.6 1123,1100.1 1124,1092.2 1125,1085 1126,1078.3 1127,1072.4 1128,1067.1 1129,1062.7 1130,1059 1131,1056.1 1132,1054 1133,1052.7 1134,1052.3 1135,1052.3 1136,1053.1 1137,1054.7 1138,1057.1 1139,1060.4 1140,1064.4 1141,1069.2 1142,1074.8 1143,1081.1 1144,1088.5 1145,1097 1146,1106.2 1147,1116 1148,1126.3 1149,1137.1 1150,1148.2 1151,1159.7 1152,1171.3 1152.1,1172.4 1153,1161.8 1154,1150 1155,1138.4 1156,1127.1 1157,1116.2 1158,1105.7 1159,1095.8 1160,1086.5 1161,1078 1162,1070.6 1163,1063.9 1164,1058 1165,1053 1166,1048.8 1167,1045.6 1168,1043.3 1169,1042 1169.8,1041.7 1170,1041.7 1171,1042.5 1172,1044.5 1173,1047.4 1174,1051.3 1175,1056 1176,1061.5 1177,1067.9 1178,1075 1179,1082.9 1180,1091.5 1181,1100.8 1182,1110.6 1183,1120.8 1184,1131.3 1185,1142.2 1186,1153.2 1187,1164.2 1187.6,1171.1 1188,1166.9 1189,1156.2 1190,1145.8 1191,1135.5 1192,1125.5 1193,1116 1194,1106.9 1195,1098.3 1196,1090.4 1197,1083 1198,1076.3 1199,1070.5 1200,1065.6 1201,1061.6 1202,1058.5 1203,1056.5 1204,1055.5 1205,1055.3 1206,1055.8 1207,1057.4 1208,1060 1209,1063.6 1210,1068.2 1211,1073.8 1212,1080.4 1213,1087.8 1214,1095.8 1215,1104 1216,1112.8 1217,1122.2 1218,1132 1219,1142.3 1220,1152.9 1221,1163.8 1222,1175 1223,1186.3 1223.1,1187.5 1224,1177.9 1225,1167.3 1226,1157.1 1227,1147.2 1228,1137.8 1229,1128.9 1230,1120.5 1231,1112.8 1232,1105.8 1233,1099.3 1234,1093.6 1235,1088.6 1236,1084.5 1237,1081.1 1238,1078.7 1239,1077 1240,1076.2 1241,1076.3 1241.9,1077 1242,1077.2 1243,1078.6 1244,1079.8 1245,1081.9 1246,1084.7 1247,1088.3 1248,1092.6 1249,1097.6 1250,1103.2 1251,1109.5 1252,1116.6 1253,1124.2 1254,1132.3 1255,1140.9 1256,1149.9 1257,1159.2 1258,1168.7 1259,1178.4 1260,1188.2 1260.2,1190.6 1261,1183.1 1262,1173.2 1263,1163.7 1264,1154.6 1265,1146 1266,1137.9 1267,1130.4 1268,1123.5 1269,1117.3 1270,1111.5 1271,1106.5 1272,1102.2 1273,1098.8 1274,1096.1 1275,1094.3 1276,1093.3 1277,1093 1277.9,1093.5 1278,1093.5 1279,1094.8 1280,1096.7 1281,1099.3 1282,1102.5 1283,1106.2 1284,1110.5 1285,1115.2 1286,1120.4 1287,1126.1 1288,1132.6 1289,1139.4 1290,1146.3 1291,1153.4 1292,1160.5 1293,1167.5 1294,1174.3 1294.2,1176 1295,1170.4 1296,1163.7 1297,1157.5 1298,1151.6 1299,1146 1300,1140.9 1301,1136.2 1302,1132.1 1303,1128.7 1304,1125.8 1305,1123.5 1306,1121.7 1307,1120.6 1308,1120 1309,1120.1 1310,1120.7 1310,1120.7 1311,1121.9 1312,1123.7 1313,1126.4 1314,1129.5 1315,1133 1316,1137 1317,1141.3 1318,1145.9 1319,1151.2 1320,1156.7 1321,1162.5 1322,1168.3 1323,1174.1 1324,1179.9 1325,1185.6 1325.2,1187 1326,1183.5 1327,1179 1328,1174.8 1329,1171 1330,1167.6 1331,1164.7 1332,1162.2 1333,1160.3 1334,1159 1335,1158.1 1336,1157.7 1337,1157.7 1338,1158.1 1339,1158.9 1340,1160.1 1340.2,1160.3 1341,1161.7 1342,1163.6 1343,1165 1344,1166.5 1345,1168.3 1346,1170.3 1347,1172.7 1348,1175.3 1349,1178.3 1350,1181.5 1351,1185 1352,1188.5 1353,1192.2 1354,1195.9 1354.8,1198.7 1355,1198 1356,1195 1357,1192.1 1358,1188.9 1359,1185.8 1360,1182.9 1361,1180.2 1362,1177.9 1363,1176 1364,1174.4 1365,1173.1 1366,1172.1 1367,1171.4 1368,1171.1 1369,1171 1369.1,1171 1370,1171.2 1371,1171.7 1372,1172.5 1373,1173.6 1374,1174.9 1375,1176.3 1376,1178 1377,1180 1378,1182.4 1379,1184.9 1380,1187.5 1381,1190.2 1382,1192.9 1382.8,1195 1383,1194.2 1384,1191.3 1385,1188.4 1386,1185.6 1387,1183 1388,1180.5 1389,1178.3 1390,1176.5 1391,1174.9 1392,1173.6 1393,1172.5 1394,1171.7 1395,1171.2 1396,1170.9 1396,1170.9 1397,1170.1 1398,1169.1 1399,1168.4 1400,1168.1 1401,1168.3 1402,1169 1403,1170.2 1404,1171.8 1405,1173.9 1406,1176.5 1407,1179.6 1408,1183.1 1409,1186.9 1410,1190.8 1410.2,1191.4 1411,1187.4 1412,1182.7 1413,1178 1414,1173.5 1415,1169.2 1416,1165 1417,1161.2 1418,1157.7 1419,1154.6 1420,1151.9 1421,1149.5 1422,1147.5 1423,1145.8 1424,1144.6 1425,1143.8 1425.2,1143.7 1426,1143.3 1427,1143.2 1428,1143.6 1429,1144.4 1430,1145.6 1431,1147.2 1432,1149.2 1433,1151.5 1434,1154.5 1435,1157.8 1436,1161.5 1437,1165.4 1438,1169.6 1439,1173.9 1440,1178.8 1440.2,1180 1441,1176.3 1442,1171.3 1443,1166.4 1444,1161.5 1445,1156.8 1446,1152.4 1447,1148.2 1448,1144.4 1449,1140.9 1450,1137.9 1451,1135.3 1452,1133.2 1453,1131.6 1454,1130.6 1454.8,1130.2 1455,1130.1 1456,1130.3 1457,1131.3 1458,1132.8 1459,1134.9 1460,1137.5 1461,1140.6"/>
<path fill="none" stroke="#56b4e9" stroke-width="7" stroke-linejoin="round" stroke-linecap="round" d="M122,1129.4 123,1127.7 124,1126.6 124.3,1126.4 125,1126.1 126,1126 127,1126.5 128,1127.6 129,1129.2 130,1131.4 131,1134.2 132,1137.5 133,1139.8 134,1135.5 135,1131.5 136,1127.9 137,1124.5 138,1121.6 139,1119.1 140,1117 141,1115.3 142,1115 142.4,1115.1 143,1115.5 144,1116.4 145,1117.8 146,1119.7 147,1122 148,1124.6 149,1127.7 150,1131 151,1134.7 152,1138.5 153,1136.1 154,1132.7 155,1129.9 156,1127.5 157,1125.7 158,1124.4 159,1123.6 160,1123.4 160.8,1123.6 161,1123.7 162,1123.4 163,1123.6 164,1124.3 165,1125.5 166,1127.3 167,1129.7 168,1132.5 169,1135.9 170,1135.2 171,1131.2 172,1127.4 173,1124 174,1120.8 175,1118 176,1115.5 177,1113.5 178,1112.1 179,1111.9 179.4,1112 180,1112.2 181,1113 182,1114.3 183,1116 184,1118.1 185,1120.6 186,1123.5 187,1126.7 188,1130.3 189,1134.3 190,1132.4 191,1128.5 192,1125.2 193,1122.4 194,1120.3 195,1118.8 196,1117.8 197,1117.5 197.6,1117.6 198,1117.8 199,1118.7 200,1120.2 201,1122.3 202,1124.8 203,1127.8 204,1131.3 205,1135.3 206,1139.2 207,1135.8 208,1132.7 209,1130.1 210,1127.9 211,1126.2 212,1124.9 213,1124.1 214,1123.8 214.9,1123.9 215,1123.9 216,1124.5 217,1125.6 218,1127.1 219,1129.1 220,1131.4 221,1134.2 222,1137.4 223,1140.9 224,1143.8 225,1140.8 226,1138.2 227,1136 228,1134.1 229,1132.5 230,1131.3 231,1130.5 232,1130.1 233,1130 233.5,1130.1 234,1130.3 235,1130.9 236,1132 237,1133.4 238,1135.2 239,1137.3 240,1139.7 241,1142.5 242,1145.6 243,1149 244,1146.6 245,1144.4 246,1142.4 247,1140.7 248,1139.2 249,1137.9 250,1137 251,1136.3 252,1135.9 253,1135.7 254,1135.9 254.1,1135.9 255,1136.4 256,1137.2 257,1138.3 258,1139.6 259,1141.1 260,1142.8 261,1144.8 262,1146.9 263,1149.2 264,1151.7 265,1154.2 266,1154.3 267,1152.7 268,1151.3 269,1150.1 270,1149 271,1148.1 272,1147.4 273,1146.8 274,1146.4 275,1146.2 276,1146.1 277,1146.2 278,1146.5 278.8,1146.1 279,1145.9 280,1145.2 281,1144.6 282,1144.3 283,1144.1 284,1144 285,1144.2 286,1144.5 287,1145 288,1145.8 289,1146.7 290,1147.8 291,1149.1 292,1150.5 293,1148.5 294,1145.3 295,1142.3 296,1139.5 297,1136.8 298,1134.4 299,1132.3 300,1130.3 301,1128.7 302,1127.4 303,1126.6 303.1,1126.6 304,1126.5 305,1126.6 306,1127.1 307,1127.9 308,1129.1 309,1130.5 310,1132.3 311,1134.4 312,1136.8 313,1139.5 314,1140.4 315,1136.8 316,1133.6 317,1130.7 318,1128.1 319,1125.8 320,1123.9 321,1122.4 322,1121.2 323,1120.2 323.7,1119.5 324,1119.3 325,1118.8 326,1118.8 327,1119.1 328,1119.8 329,1121 330,1122.5 331,1124.4 332,1126.7 333,1129.4 334,1131.6 335,1127 336,1122.6 337,1118.6 338,1115.1 339,1112 340,1109.4 341,1107.2 342,1105.7 342.9,1104.8 343,1104.8 344,1104.5 345,1104.8 346,1105.6 347,1107.1 348,1109.1 349,1111.7 350,1114.9 351,1118.6 352,1122.8 353,1118.2 354,1113.4 355,1109.1 356,1105.3 357,1101.9 358,1099 359,1096.7 360,1094.9 361,1093.8 361.3,1093.6 362,1093.3 363,1093.4 364,1094.2 365,1095.7 366,1097.8 367,1100.7 368,1104.2 369,1108.4 370,1113.2 371,1111.7 372,1106.2 373,1101.2 374,1096.7 375,1092.6 376,1089.1 377,1086.2 378,1083.9 379,1082.2 380,1081.1 380.1,1081.1 381,1081 382,1081.5 383,1082.7 384,1084.6 385,1087.1 386,1090.2 387,1094 388,1098.4 389,1103.3 390,1106.6 391,1100.6 392,1095.2 393,1090.3 394,1085.9 395,1082.2 396,1079.1 397,1076.6 398,1074.8 399,1073.7 399.6,1073.1 400,1072.7 401,1072.3 402,1072.6 403,1073.5 404,1075.2 405,1077.5 406,1080.6 407,1084.3 408,1088.6 409,1093.6 410,1093 411,1085.9 412,1079.4 413,1073.4 414,1068.1 415,1063.5 416,1059.6 417,1056.5 418,1054.3 419,1052.9 419,1052.8 420,1052.6 421,1053.8 422,1055.9 423,1058.8 424,1062.5 425,1067 426,1072.4 427,1078.4 428,1085.2 429,1083.3 430,1076.5 431,1070.4 432,1065 433,1060.3 434,1056.4 435,1053.3 436,1051.1 437,1049.7 437.9,1049.1 438,1049 439,1048.2 440,1048.4 441,1049.5 442,1051.6 443,1054.6 444,1058.6 445,1063.5 446,1069.4 447,1076.2 448,1072.2 449,1063.8 450,1056.2 451,1049.2 452,1043 453,1037.5 454,1033 455,1029.3 456,1026.6 457,1025.4 458,1025.5 459,1026.6 460,1028.7 461,1031.8 462,1035.8 463,1040.7 464,1046.5 465,1053.1 466,1060.5 467,1063.6 468,1054.1 469,1045.6 470,1038.1 471,1031.9 472,1026.8 473,1023 474,1020.4 475,1019.1 475.2,1018.9 476,1019 477,1020 478,1022.2 479,1025.7 480,1030.4 481,1036.3 482,1043.4 483,1051.4 484,1058.8 485,1049.2 486,1040.5 487,1032.6 488,1025.8 489,1020 490,1015.2 491,1011.7 492,1009.3 492.9,1008.3 493,1008.2 494,1008.9 495,1010.9 496,1014.2 497,1018.7 498,1024.4 499,1031.3 500,1039.3 501,1048.4 502,1053 503,1043.5 504,1035 505,1027.6 506,1021.4 507,1016.3 508,1012.4 509,1009.7 510,1008.3 510.6,1008.1 511,1008.3 512,1009.8 513,1012.5 514,1016.4 515,1021.5 516,1027.7 517,1034.9 518,1043.2 519,1052.4 520,1053.3 521,1044.2 522,1036.2 523,1029.3 524,1023.6 525,1019.2 526,1016.1 527,1014.2 528,1013.7 528.1,1013.7 529,1014.5 530,1016.7 531,1020.8 532,1026.1 533,1032.5 534,1040.1 535,1048.6 536,1058.1 537,1064.3 538,1057.5 539,1051.4 540,1046.1 541,1041.6 542,1037.9 543,1035 544,1033 545,1031.9 546,1031.6 547,1032.2 547,1032.3 548,1033.1 549,1034.7 550,1037.3 551,1040.6 552,1044.9 553,1050 554,1056 555,1062.7 556,1070.2 557,1076.7 558,1069.1 559,1062.2 560,1056.1 561,1050.8 562,1046.4 563,1042.8 564,1040.1 565,1038.3 566,1038 566.8,1038.6 567,1038.9 568,1040.7 569,1043.3 570,1046.8 571,1051 572,1056 573,1061.7 574,1068.1 575,1075.1 576,1082.6 577,1086.4 578,1080.3 579,1075 580,1070.4 581,1066.7 582,1063.7 583,1061.6 584,1060.3 585,1059.7 586,1060 586.6,1060 587,1060.2 588,1061.2 589,1063 590,1065.4 591,1068.5 592,1072.2 593,1076.6 594,1081.5 595,1087 596,1092.9 597,1095.5 598,1089.6 599,1084.2 600,1079.6 601,1075.7 602,1072.5 603,1070.1 604,1068.4 605,1067.6 606,1067.5 606.1,1067.5 607,1068.3 608,1069.8 609,1072.1 610,1075.1 611,1078.8 612,1083.2 613,1088.2 614,1093.9 615,1100.1 616,1100 617,1095.2 618,1090.9 619,1087.1 620,1083.9 621,1081.2 622,1079.1 623,1077.5 624,1076.6 625,1076.2 625.8,1076.4 626,1076.5 627,1077 628,1078.1 629,1079.8 630,1082.1 631,1085 632,1088.4 633,1092.3 634,1096.8 635,1101.7 636,1107.2 637,1104.2 638,1099.6 639,1095.4 640,1091.7 641,1088.4 642,1085.6 643,1083.3 644,1081.6 645,1080.3 646,1079.7 647,1079.5 647,1079.5 648,1079.8 649,1080.6 650,1081.9 651,1083.8 652,1086.2 653,1089.1 654,1092.5 655,1096.3 656,1100.7 657,1105.4 658,1109.6 659,1104.4 660,1099.7 661,1095.4 662,1091.6 663,1088.3 664,1085.5 665,1083.3 666,1081.5 667,1080.4 668,1079.7 668.6,1079.6 669,1079.3 670,1078.7 671,1078.6 672,1079.2 673,1080.3 674,1082 675,1084.3 676,1087.2 677,1090.7 678,1094.8 679,1099.5 680,1097.2 681,1090.5 682,1084.3 683,1078.6 684,1073.5 685,1068.9 686,1065 687,1061.7 688,1059.2 689,1057.3 689.5,1056.8 690,1056.8 691,1057.3 692,1058.5 693,1060.5 694,1063.2 695,1066.7 696,1070.7 697,1075.5 698,1080.9 699,1086.8 700,1089 701,1082.3 702,1076.2 703,1070.7 704,1065.8 705,1061.7 706,1058.2 707,1055.5 708,1053.6 709,1052.4 709.7,1051.6 710,1051.3 711,1050.7 712,1051 713,1052.1 714,1054 715,1056.7 716,1060.3 717,1064.7 718,1069.9 719,1075.9 720,1077.7 721,1069.2 722,1061.3 723,1054.1 724,1047.6 725,1042 726,1037.2 727,1033.4 728,1030.5 729,1029 729.2,1028.8 730,1028.7 731,1029.4 732,1031.1 733,1033.9 734,1037.7 735,1042.4 736,1048.2 737,1054.9 738,1062.4 739,1064.2 740,1055.2 741,1047.1 742,1039.8 743,1033.5 744,1028.1 745,1023.8 746,1020.5 747,1018.2 748,1017.1 749,1017 750,1018 751,1020.1 752,1023.2 753,1027.4 754,1032.6 755,1038.8 756,1046 757,1054 758,1052.4 759,1042.7 760,1034 761,1026.4 762,1019.8 763,1014.5 764,1010.3 765,1007.5 766,1006.1 766.2,1006 767,1006.1 768,1007.3 769,1009.9 770,1013.7 771,1018.8 772,1025.1 773,1032.6 774,1041.2 775,1050.9 776,1041.6 777,1032.6 778,1024.5 779,1017.4 780,1011.4 781,1006.6 782,1002.9 783,1000.4 784,999.1 784.2,999 785,999.1 786,1000.3 787,1002.7 788,1006.4 789,1011.3 790,1017.4 791,1024.6 792,1033 793,1042.4 794,1039.7 795,1029.7 796,1020.8 797,1012.9 798,1006.1 799,1000.5 800,996.2 801,993.1 802,991.6 802.5,991.6 803,992 804,993.7 805,996.8 806,1001.2 807,1006.9 808,1013.8 809,1022 810,1031.3 811,1041.6 812,1041.7 813,1033 814,1025.2 815,1018.3 816,1012.3 817,1007.2 818,1003.2 819,1000.2 820,998.3 821,997.3 821.6,997.3 822,997.5 823,997.9 824,999.1 825,1001.4 826,1004.8 827,1009.2 828,1014.6 829,1021.1 830,1028.5 831,1036.9 832,1041.9 833,1031 834,1021 835,1012.1 836,1004.3 837,997.6 838,992.2 839,988 840,985.1 841,984 841.1,984.1 842,985 843,987.2 844,990.7 845,995.4 846,1001.3 847,1008.3 848,1016.3 849,1025.4 850,1035.3 851,1037.7 852,1028.1 853,1019.5 854,1012.1 855,1005.9 856,1000.9 857,997.2 858,994.7 859,993.3 859.9,992.7 860,992.7 861,993.4 862,995.3 863,998.5 864,1002.9 865,1008.5 866,1015.2 867,1023.1 868,1032 869,1041.8 870,1033.7 871,1023.9 872,1015.3 873,1007.8 874,1001.5 875,996.6 876,993 877,990.8 878,990 878,990 879,990.8 880,993.4 881,997.4 882,1002.7 883,1009.4 884,1017.4 885,1026.6 886,1037 887,1040.5 888,1030.5 889,1021.7 890,1014.1 891,1007.8 892,1002.8 893,999.1 894,996.7 895,995.7 895.5,995.7 896,996.1 897,998.4 898,1002.1 899,1007 900,1013 901,1020.2 902,1028.3 903,1037.4 904,1047.4 905,1047.7 906,1038.8 907,1031.2 908,1024.9 909,1019.9 910,1016.2 911,1014 912,1013.1 912.9,1013.5 913,1013.6 914,1015.5 915,1018.9 916,1023.6 917,1029.5 918,1036.5 919,1044.7 920,1053.8 921,1063.9 922,1061.4 923,1054.8 924,1049 925,1044.2 926,1040.3 927,1037.4 928,1035.6 929,1034.7 930,1034.9 930.5,1035.4 931,1036.1 932,1038.3 933,1041.2 934,1045.1 935,1050 936,1055.7 937,1062.3 938,1069.8 939,1078 940,1081.5 941,1075.2 942,1069.7 943,1065 944,1061.1 945,1058 946,1055.8 947,1054.4 948,1053.9 949,1054.2 949.4,1054.5 950,1055.3 951,1057.9 952,1061.3 953,1065.4 954,1070.2 955,1075.6 956,1081.5 957,1087.9 958,1094.8 959,1101.9 960,1100.8 961,1097 962,1093.9 963,1091.3 964,1089.4 965,1088 966,1087.3 967,1087.2 968,1087.7 969,1088.8 969.8,1090 970,1090.3 971,1091.1 972,1092.4 973,1094.2 974,1096.6 975,1099.4 976,1102.7 977,1106.5 978,1110.7 979,1115.3 980,1120.3 981,1117.5 982,1114 983,1110.8 984,1108 985,1105.6 986,1103.5 987,1101.9 988,1100.7 989,1099.8 990,1099.4 991,1099.3 991.6,1099.6 992,1099.8 993,1100.6 994,1101.9 995,1103.5 996,1105.5 997,1107.8 998,1110.5 999,1113.4 1000,1116.7 1001,1120.3 1002,1124.1 1003,1128.1 1004,1126.4 1005,1123.2 1006,1120.5 1007,1118.1 1008,1116 1009,1114.3 1010,1113 1011,1112 1012,1111.3 1013,1111.1 1014,1111.1 1014.8,1111.4 1015,1111.5 1016,1111.4 1017,1111.6 1018,1112.2 1019,1113.1 1020,1114.3 1021,1115.9 1022,1117.7 1023,1119.9 1024,1122.4 1025,1125.1 1026,1128.1 1027,1128.3 1028,1124.5 1029,1120.9 1030,1117.6 1031,1114.6 1032,1112 1033,1109.7 1034,1107.8 1035,1106.2 1036,1105.1 1037,1104.4 1037.5,1104.2 1038,1104 1039,1104 1040,1104.3 1041,1105.1 1042,1106.2 1043,1107.8 1044,1109.8 1045,1112.2 1046,1115.1 1047,1118.3 1048,1121.9 1049,1120 1050,1115.2 1051,1110.8 1052,1106.8 1053,1103.3 1054,1100.3 1055,1097.8 1056,1095.8 1057,1094.5 1058,1093.7 1058,1093.7 1059,1093.4 1060,1093.4 1061,1094.1 1062,1095.5 1063,1097.4 1064,1100 1065,1103.3 1066,1107.1 1067,1111.6 1068,1111.4 1069,1105.6 1070,1100.1 1071,1095.1 1072,1090.6 1073,1086.7 1074,1083.4 1075,1080.6 1076,1078.6 1077,1077.2 1077.2,1077 1078,1076.7 1079,1077.3 1080,1078.7 1081,1080.7 1082,1083.5 1083,1087 1084,1091.1 1085,1095.9 1086,1101.3 1087,1104.3 1088,1098 1089,1092.2 1090,1087.1 1091,1082.6 1092,1078.8 1093,1075.8 1094,1073.5 1095,1071.9 1096,1071.1 1096.1,1071.1 1097,1070.7 1098,1070.8 1099,1071.7 1100,1073.3 1101,1075.8 1102,1079 1103,1082.9 1104,1087.6 1105,1093 1106,1094 1107,1086.7 1108,1080.1 1109,1074 1110,1068.6 1111,1063.9 1112,1060 1113,1056.9 1114,1054.6 1115,1053.2 1115,1053.1 1116,1052.7 1117,1054 1118,1056.1 1119,1059.1 1120,1062.9 1121,1067.6 1122,1072.9 1123,1079.1 1124,1085.9 1125,1085 1126,1078.3 1127,1072.4 1128,1067.1 1129,1062.7 1130,1059 1131,1056.1 1132,1054 1133,1052.7 1134,1052.3 1135,1052.3 1136,1053.1 1137,1054.7 1138,1057.1 1139,1060.4 1140,1064.4 1141,1069.2 1142,1074.8 1143,1081.1 1144,1082 1145,1073.9 1146,1066.6 1147,1060.2 1148,1054.7 1149,1050.3 1150,1046.9 1151,1044.6 1152,1043.4 1152.1,1043.4 1153,1043.6 1154,1045.1 1155,1047.8 1156,1051.6 1157,1056.4 1158,1062.4 1159,1069.3 1160,1077.2 1161,1078 1162,1070.6 1163,1063.9 1164,1058 1165,1053 1166,1048.8 1167,1045.6 1168,1043.3 1169,1042 1169.8,1041.7 1170,1041.7 1171,1042.5 1172,1044.5 1173,1047.4 1174,1051.3 1175,1056 1176,1061.5 1177,1067.9 1178,1075 1179,1082.5 1180,1074.5 1181,1067.5 1182,1061.4 1183,1056.3 1184,1052.2 1185,1049.2 1186,1047.3 1187,1046.4 1187.6,1046.5 1188,1046.7 1189,1048.2 1190,1050.7 1191,1054.2 1192,1058.6 1193,1064 1194,1070.1 1195,1077.1 1196,1084.8 1197,1083 1198,1076.3 1199,1070.5 1200,1065.6 1201,1061.6 1202,1058.5 1203,1056.5 1204,1055.5 1205,1055.3 1206,1055.8 1207,1057.4 1208,1060 1209,1063.6 1210,1068.2 1211,1073.8 1212,1080.4 1213,1087.8 1214,1087.8 1215,1081.3 1216,1075.5 1217,1070.3 1218,1065.9 1219,1062.2 1220,1059.2 1221,1057.1 1222,1055.8 1223,1055.3 1223.1,1055.3 1224,1056.1 1225,1058.4 1226,1061.5 1227,1065.4 1228,1069.9 1229,1075.1 1230,1080.9 1231,1087.2 1232,1094.1 1233,1099.3 1234,1093.6 1235,1088.6 1236,1084.5 1237,1081.1 1238,1078.7 1239,1077 1240,1076.2 1241,1076.3 1241.9,1077 1242,1077.2 1243,1078.6 1244,1079.8 1245,1081.9 1246,1084.7 1247,1088.3 1248,1092.6 1249,1097.6 1250,1103.2 1251,1108.3 1252,1102.4 1253,1097 1254,1092.3 1255,1088.2 1256,1084.8 1257,1082 1258,1080 1259,1078.7 1260,1078.1 1260.2,1078.2 1261,1079.1 1262,1080.9 1263,1083.3 1264,1086.5 1265,1090.3 1266,1094.6 1267,1099.6 1268,1105 1269,1110.8 1270,1111.5 1271,1106.5 1272,1102.2 1273,1098.8 1274,1096.1 1275,1094.3 1276,1093.3 1277,1093 1277.9,1093.5 1278,1093.5 1279,1094.8 1280,1096.7 1281,1099.3 1282,1102.5 1283,1106.2 1284,1110.5 1285,1115.2 1286,1120.4 1287,1121.2 1288,1116.9 1289,1113.2 1290,1110.3 1291,1108.2 1292,1106.9 1293,1106.4 1294,1106.6 1294.2,1106.8 1295,1107.7 1296,1109.5 1297,1112 1298,1115.1 1299,1118.9 1300,1123.2 1301,1128.1 1302,1132.1 1303,1128.7 1304,1125.8 1305,1123.5 1306,1121.7 1307,1120.6 1308,1120 1309,1120.1 1310,1120.7 1310,1120.7 1311,1121.9 1312,1123.7 1313,1126.4 1314,1129.5 1315,1133 1316,1137 1317,1141.3 1318,1145.2 1319,1142.5 1320,1140.3 1321,1138.8 1322,1137.9 1323,1137.6 1324,1137.9 1325,1138.8 1325.2,1139.1 1326,1140.1 1327,1142.1 1328,1144.6 1329,1147.5 1330,1150.7 1331,1154.2 1332,1157.9 1333,1160.3 1334,1159 1335,1158.1 1336,1157.7 1337,1157.7 1338,1158.1 1339,1158.9 1340,1160.1 1340.2,1160.3 1341,1161.7 1342,1163.6 1343,1165 1344,1166.5 1345,1168.3 1346,1170.3 1347,1172.7 1348,1171.9 1349,1170.7 1350,1169.7 1351,1169.1 1352,1168.8 1353,1168.7 1354,1168.9 1354.8,1169.1 1355,1169.3 1356,1169.6 1357,1170.1 1358,1170.8 1359,1171.6 1360,1172.6 1361,1173.8 1362,1175 1363,1176 1364,1174.4 1365,1173.1 1366,1172.1 1367,1171.4 1368,1171.1 1369,1171 1369.1,1171 1370,1171.2 1371,1171.7 1372,1172.5 1373,1173.6 1374,1174.9 1375,1176.3 1376,1176 1377,1175.1 1378,1174.2 1379,1173.5 1380,1173 1381,1172.7 1382,1172.4 1382.8,1172.2 1383,1172.2 1384,1172.3 1385,1172.5 1386,1173 1387,1173.6 1388,1174.4 1389,1175.4 1390,1176.5 1391,1174.9 1392,1173.6 1393,1172.5 1394,1171.7 1395,1171.2 1396,1170.9 1396,1170.9 1397,1170.1 1398,1169.1 1399,1168.4 1400,1168.1 1401,1168.3 1402,1169 1403,1167.2 1404,1164.3 1405,1161.4 1406,1158.6 1407,1156 1408,1153.5 1409,1152.4 1410,1151.7 1410.2,1151.6 1411,1151.3 1412,1151.3 1413,1151.7 1414,1152.5 1415,1153.7 1416,1155.3 1417,1157.3 1418,1157.7 1419,1154.6 1420,1151.9 1421,1149.5 1422,1147.5 1423,1145.8 1424,1144.6 1425,1143.8 1425.2,1143.7 1426,1143.3 1427,1143.2 1428,1143.6 1429,1144.4 1430,1145.6 1431,1147.2 1432,1149.2 1433,1151.5 1434,1147.9 1435,1144.6 1436,1141.6 1437,1139.1 1438,1137 1439,1135.4 1440,1134.4 1440.2,1134.3 1441,1134.2 1442,1134.7 1443,1135.7 1444,1137.2 1445,1139.3 1446,1141.9 1447,1145.1 1448,1144.4 1449,1140.9 1450,1137.9 1451,1135.3 1452,1133.2 1453,1131.6 1454,1130.6 1454.8,1130.2 1455,1130.1 1456,1130.3 1457,1131.3 1458,1132.8 1459,1134.9 1460,1137.5 1461,1140.6"/>
<path fill="none" stroke="#009e73" stroke-width="2.2" stroke-dasharray="10 4 2.5 4" d="M122,1291.2 123,1290.3 124,1289.9 124.3,1289.9 125,1290 126,1290.5 127,1291.5 128,1292.9 129,1294.8 130,1297.1 131,1299.9 132,1303.1 133,1306.6 134,1310.5 135,1314.7 136,1319.3 137,1324.1 138,1329.1 139,1334.4 140,1339.7 141,1345.2 142,1350.8 142.4,1353.2 143,1350.1 144,1344.4 145,1338.8 146,1333.4 147,1328 148,1322.9 149,1318 150,1313.4 151,1309.1 152,1305.2 153,1301.6 154,1298.5 155,1295.7 156,1293.3 157,1291.4 158,1289.8 159,1288.7 160,1288.1 160.8,1287.9 161,1287.9 162,1287.8 163,1288.2 164,1289 165,1290.3 166,1292 167,1294.1 168,1296.7 169,1299.7 170,1303 171,1306.7 172,1310.8 173,1315.1 174,1319.8 175,1324.7 176,1329.8 177,1335.1 178,1340.5 179,1346 179.4,1348.3 180,1344.9 181,1338.7 182,1332.7 183,1326.7 184,1320.8 185,1315.2 186,1309.8 187,1304.6 188,1299.8 189,1295.2 190,1290.7 191,1286.7 192,1283.2 193,1280.1 194,1277.6 195,1275.5 196,1274 197,1273 197.6,1272.7 198,1272.9 199,1273.6 200,1274.9 201,1276.6 202,1278.8 203,1281.4 204,1284.4 205,1287.7 206,1291.4 207,1295.3 208,1299.5 209,1303.9 210,1308.3 211,1312.9 212,1317.5 213,1322.1 214,1326.7 214.9,1330.9 215,1330.6 216,1325.5 217,1321.1 218,1316.8 219,1312.6 220,1308.5 221,1304.5 222,1300.8 223,1297.2 224,1294.2 225,1291.6 226,1289.3 227,1287.3 228,1285.5 229,1284.1 230,1283 231,1282.2 232,1281.7 233,1281.6 233.5,1281.7 234,1281.8 235,1282.9 236,1284.3 237,1286 238,1288.1 239,1290.5 240,1293.2 241,1296.1 242,1299.4 243,1302.8 244,1306.4 245,1310.1 246,1313.9 247,1317.8 248,1321.9 249,1326 250,1330.2 251,1334.5 252,1338.8 253,1343.1 254,1347.5 254.1,1347.9 255,1344.9 256,1341.5 257,1337.9 258,1334.5 259,1331.3 260,1328.2 261,1325.3 262,1322.7 263,1320.3 264,1318.1 265,1316.2 266,1315 267,1313.9 268,1313 269,1312.2 270,1311.6 271,1311.2 272,1310.9 273,1310.7 274,1310.7 275,1310.9 276,1311.2 277,1311.6 278,1312.1 278.8,1311.8 279,1311.6 280,1311 281,1310.5 282,1310.1 283,1309.9 284,1309.8 285,1309.8 286,1310 287,1310.4 288,1311 289,1311.7 290,1312.6 291,1313.6 292,1314.8 293,1316.4 294,1318.7 295,1321.3 296,1324.1 297,1327.2 298,1330.5 299,1334 300,1337.7 301,1341.4 302,1344.9 303,1348.5 303.1,1348.8 304,1344.6 305,1339.9 306,1335.2 307,1330.6 308,1326 309,1321.5 310,1317.1 311,1312.9 312,1308.8 313,1304.9 314,1301.1 315,1297.6 316,1294.3 317,1291.3 318,1288.5 319,1286.1 320,1283.9 321,1282.1 322,1280.6 323,1279.5 323.7,1278.9 324,1278.6 325,1278.1 326,1277.9 327,1278 328,1278.5 329,1279.4 330,1280.6 331,1282.1 332,1284 333,1286.2 334,1288.8 335,1292 336,1295.6 337,1299.5 338,1303.7 339,1308.2 340,1312.8 341,1317.6 342,1322.6 342.9,1327.4 343,1327.1 344,1321.7 345,1316.1 346,1310.4 347,1304.6 348,1298.9 349,1293.2 350,1287.6 351,1282.2 352,1277 353,1272.1 354,1267.6 355,1263.4 356,1259.5 357,1256.1 358,1253.2 359,1250.8 360,1248.9 361,1247.6 361.3,1247.3 362,1247 363,1247.5 364,1248.7 365,1250.4 366,1252.8 367,1255.8 368,1259.4 369,1263.5 370,1268.2 371,1273.4 372,1278.9 373,1284.9 374,1291.4 375,1298.1 376,1305.2 377,1312.6 378,1320.2 379,1328 380,1335.9 380.1,1336.6 381,1329.7 382,1322 383,1314.4 384,1306.9 385,1299.5 386,1292.4 387,1285.5 388,1279 389,1272.8 390,1267.1 391,1262.1 392,1257.4 393,1253.2 394,1249.6 395,1246.4 396,1243.8 397,1241.8 398,1240.3 399,1239.4 399.6,1239.1 400,1239 401,1239.1 402,1239.8 403,1241.2 404,1243.1 405,1245.7 406,1248.9 407,1252.6 408,1256.9 409,1261.8 410,1267.3 411,1273.6 412,1280.5 413,1287.8 414,1295.5 415,1303.6 416,1312 417,1320.7 418,1329.5 419,1338.1 419,1337.7 420,1328.7 421,1319.8 422,1310.8 423,1302 424,1293.4 425,1284.9 426,1276.8 427,1269.1 428,1261.7 429,1255 430,1248.8 431,1243.2 432,1238.1 433,1233.7 434,1230 435,1227 436,1224.7 437,1223.2 437.9,1222.4 438,1222.3 439,1221.7 440,1221.9 441,1222.9 442,1224.8 443,1227.5 444,1231.1 445,1235.5 446,1240.7 447,1246.7 448,1253.5 449,1261.1 450,1269.4 451,1278.3 452,1287.9 453,1298 454,1308.6 455,1319.6 456,1331 457,1342.6 458,1330.2 459,1317.9 460,1305.6 461,1293.6 462,1281.8 463,1270.3 464,1259.2 465,1248.7 466,1238.6 467,1228.9 468,1219.6 469,1211.2 470,1203.7 471,1197.3 472,1191.9 473,1187.6 474,1184.5 475,1182.5 475.2,1182.2 476,1181.8 477,1183 478,1185.3 479,1188.8 480,1193.3 481,1198.9 482,1205.5 483,1212.9 484,1221.3 485,1230.2 486,1239.8 487,1250 488,1260.7 489,1271.8 490,1283.2 491,1294.7 492,1306.5 492.9,1317 493,1315.7 494,1303.3 495,1291 496,1278.9 497,1267 498,1255.4 499,1244.3 500,1233.6 501,1223.5 502,1214.1 503,1205.3 504,1197.4 505,1190.4 506,1184.4 507,1179.4 508,1175.6 509,1172.8 510,1171.2 510.6,1170.8 511,1171.3 512,1173.3 513,1176.5 514,1180.7 515,1186.1 516,1192.5 517,1199.8 518,1208 519,1217 520,1226.8 521,1237.3 522,1248.3 523,1259.8 524,1271.6 525,1283.8 526,1296.1 527,1308.4 528,1320.8 528.1,1322.6 529,1312.5 530,1301 531,1290 532,1279.4 533,1269.2 534,1259.4 535,1250.2 536,1241.7 537,1234 538,1228 539,1222.6 540,1217.9 541,1213.9 542,1210.6 543,1208.1 544,1206.4 545,1205.4 546,1205.2 547,1205.8 547,1205.8 548,1206.7 549,1208.4 550,1210.8 551,1214.1 552,1218.1 553,1222.9 554,1228.3 555,1234.5 556,1241.4 557,1248.9 558,1257.2 559,1266.1 560,1275.5 561,1285.4 562,1295.7 563,1306.4 564,1317.4 565,1328.5 566,1339.9 566.8,1348.5 567,1345.9 568,1334.9 569,1323.9 570,1313.3 571,1303 572,1293.2 573,1283.9 574,1275.1 575,1266.9 576,1259.3 577,1252.5 578,1246.5 579,1241.2 580,1236.6 581,1232.7 582,1229.5 583,1227 584,1225.3 585,1224.2 586,1223.9 586.6,1224 587,1224.1 588,1224.9 589,1226.3 590,1228.4 591,1231.1 592,1234.4 593,1238.2 594,1242.6 595,1247.4 596,1252.7 597,1258.5 598,1265.2 599,1272.2 600,1279.6 601,1287.2 602,1295 603,1302.9 604,1311 605,1319 606,1326.9 606.1,1327.7 607,1319.9 608,1311.8 609,1303.8 610,1296 611,1288.4 612,1281.1 613,1274.1 614,1267.5 615,1261.3 616,1255.9 617,1251.3 618,1247.1 619,1243.3 620,1240.1 621,1237.3 622,1235.1 623,1233.4 624,1232.3 625,1231.7 625.8,1231.7 626,1231.7 627,1232.4 628,1233.6 629,1235.4 630,1237.7 631,1240.6 632,1244 633,1247.9 634,1252.3 635,1257.2 636,1262.4 637,1268 638,1273.9 639,1280.1 640,1286.7 641,1293.4 642,1300.4 643,1307.6 644,1315 645,1322.4 646,1330 647,1337.6 647,1337.9 648,1331.2 649,1324.2 650,1317.2 651,1310.4 652,1303.7 653,1297.3 654,1291 655,1285 656,1279.4 657,1274 658,1269 659,1264.5 660,1260.3 661,1256.6 662,1253.3 663,1250.5 664,1248.2 665,1246.4 666,1245 667,1244.2 668,1243.9 668.6,1243.5 669,1243.3 670,1243.2 671,1243.6 672,1244.5 673,1246 674,1248.1 675,1250.6 676,1253.8 677,1257.4 678,1261.6 679,1266.3 680,1271.8 681,1278 682,1284.7 683,1291.9 684,1299.5 685,1307.6 686,1316 687,1324.7 688,1333.7 689,1342.4 689.5,1346.8 690,1342.2 691,1332.9 692,1323.6 693,1314.4 694,1305.3 695,1296.4 696,1287.8 697,1279.5 698,1271.6 699,1264 700,1257 701,1250.5 702,1244.6 703,1239.2 704,1234.4 705,1230.2 706,1226.7 707,1223.9 708,1221.7 709,1220.3 709.7,1219.7 710,1219.5 711,1219 712,1219.3 713,1220.3 714,1222 715,1224.5 716,1227.7 717,1231.7 718,1236.4 719,1241.7 720,1247.8 721,1255.3 722,1263.4 723,1272.2 724,1281.7 725,1291.6 726,1302 727,1312.9 728,1323.8 729,1334.9 729.2,1337.1 730,1327.3 731,1315.1 732,1302.8 733,1290.8 734,1278.9 735,1267.4 736,1256.2 737,1245.6 738,1235.4 739,1226 740,1217.4 741,1209.4 742,1202.3 743,1195.9 744,1190.5 745,1186 746,1182.4 747,1179.8 748,1178.3 749,1178.5 750,1179.7 751,1181.9 752,1185 753,1189.1 754,1194.1 755,1200 756,1206.7 757,1214.2 758,1222.8 759,1232.5 760,1242.9 761,1253.9 762,1265.4 763,1277.3 764,1289.5 765,1302 766,1315.2 766.2,1318.5 767,1308.8 768,1295.8 769,1282.9 770,1270.2 771,1257.9 772,1245.9 773,1234.5 774,1223.6 775,1213.5 776,1204.6 777,1196.5 778,1189.2 779,1182.8 780,1177.5 781,1173.1 782,1169.8 783,1167.5 784,1166.4 784.2,1166.3 785,1166.8 786,1168.5 787,1171.3 788,1175.1 789,1180.1 790,1186.1 791,1193 792,1200.9 793,1209.7 794,1219.5 795,1230 796,1241.3 797,1253.1 798,1265.5 799,1278.3 800,1291.5 801,1304.9 802,1318.5 802.5,1324.6 803,1317.4 804,1304.4 805,1291.4 806,1278.7 807,1266.4 808,1254.4 809,1243 810,1232.2 811,1222.1 812,1213.3 813,1205.7 814,1198.8 815,1192.7 816,1187.3 817,1182.9 818,1179.2 819,1176.5 820,1174.7 821,1173.8 821.6,1173.8 822,1173.9 823,1174.6 824,1176.1 825,1178.5 826,1181.9 827,1186.2 828,1191.4 829,1197.6 830,1204.5 831,1212.3 832,1221 833,1231.2 834,1242.1 835,1253.8 836,1266.1 837,1279 838,1292.4 839,1306.2 840,1320.3 841,1334.3 841.1,1336.3 842,1324 843,1309.7 844,1295.5 845,1281.7 846,1268.3 847,1255.3 848,1243 849,1231.3 850,1220.4 851,1210.3 852,1201.1 853,1192.8 854,1185.5 855,1179.3 856,1174.1 857,1170 858,1167.1 859,1165.3 859.9,1164.7 860,1164.7 861,1165.2 862,1166.8 863,1169.5 864,1173.4 865,1178.3 866,1184.2 867,1191.1 868,1198.9 869,1207.5 870,1217.5 871,1228.5 872,1240.1 873,1252.4 874,1265.2 875,1278.4 876,1291.9 877,1305.6 878,1318.6 878,1317.9 879,1303.3 880,1288.9 881,1274.7 882,1260.9 883,1247.6 884,1234.9 885,1222.8 886,1211.5 887,1201.1 888,1191.6 889,1183.1 890,1175.7 891,1169.4 892,1164.2 893,1160.2 894,1157.5 895,1156 895.5,1155.7 896,1155.8 897,1158.3 898,1162.1 899,1166.9 900,1172.9 901,1179.8 902,1187.6 903,1196.2 904,1205.5 905,1215.6 906,1226.4 907,1237.5 908,1249 909,1260.7 910,1272.6 911,1284.4 912,1296.1 912.9,1306.4 913,1305.2 914,1293.8 915,1283.4 916,1273.2 917,1263.4 918,1254 919,1245.1 920,1236.9 921,1229.4 922,1222.8 923,1217.1 924,1212.2 925,1208.1 926,1204.9 927,1202.6 928,1201.1 929,1200.6 930,1200.9 930.5,1201.6 931,1202.3 932,1204.6 933,1207.8 934,1211.9 935,1216.8 936,1222.5 937,1228.9 938,1236 939,1243.8 940,1251.9 941,1260.3 942,1269 943,1278 944,1287.4 945,1297 946,1306.7 947,1316.6 948,1326.5 949,1336.5 949.4,1339.9 950,1334.7 951,1326.9 952,1319.2 953,1311.3 954,1303.7 955,1296.5 956,1289.9 957,1283.7 958,1278.1 959,1273.1 960,1269.1 961,1265.7 962,1262.9 963,1260.6 964,1258.8 965,1257.5 966,1256.8 967,1256.7 968,1257 969,1257.8 969.8,1258.9 970,1259 971,1259.5 972,1260.4 973,1261.8 974,1263.6 975,1265.9 976,1268.6 977,1271.7 978,1275.3 979,1279.2 980,1283.5 981,1288 982,1292.7 983,1297.7 984,1303 985,1308.5 986,1314.2 987,1320 988,1326 989,1332.1 990,1338.3 991,1344.5 991.6,1348.5 992,1346.5 993,1340.4 994,1334 995,1327.7 996,1321.7 997,1315.8 998,1310.2 999,1304.8 1000,1299.7 1001,1294.9 1002,1290.4 1003,1286.3 1004,1282.7 1005,1279.5 1006,1276.5 1007,1273.9 1008,1271.7 1009,1269.7 1010,1268.1 1011,1266.8 1012,1265.9 1013,1265.3 1014,1265 1014.8,1265 1015,1265 1016,1265.1 1017,1265.3 1018,1265.8 1019,1266.6 1020,1267.6 1021,1269 1022,1270.7 1023,1272.6 1024,1274.8 1025,1277.2 1026,1279.9 1027,1282.8 1028,1286.4 1029,1290.2 1030,1294.2 1031,1298.3 1032,1302.7 1033,1307.2 1034,1311.8 1035,1316.5 1036,1321.2 1037,1326.6 1037.5,1329.4 1038,1326.9 1039,1321.8 1040,1316.7 1041,1311.5 1042,1306.3 1043,1301.2 1044,1296.2 1045,1291.2 1046,1286.4 1047,1281.8 1048,1277.4 1049,1272.8 1050,1268.6 1051,1264.6 1052,1261.1 1053,1258 1054,1255.3 1055,1253.1 1056,1251.4 1057,1250.3 1058,1249.7 1058,1249.7 1059,1249.8 1060,1250.3 1061,1251.5 1062,1253.2 1063,1255.6 1064,1258.4 1065,1261.9 1066,1265.8 1067,1270.3 1068,1275.4 1069,1281 1070,1287.1 1071,1293.7 1072,1300.6 1073,1307.9 1074,1315.5 1075,1323.4 1076,1331.5 1077,1339.4 1077.2,1341 1078,1334.5 1079,1326.4 1080,1318.4 1081,1310.5 1082,1302.8 1083,1295.3 1084,1288.1 1085,1281.2 1086,1274.7 1087,1268.6 1088,1263 1089,1257.9 1090,1253.3 1091,1249.3 1092,1245.9 1093,1243.2 1094,1241.1 1095,1239.7 1096,1239 1096.1,1238.9 1097,1238.9 1098,1239.5 1099,1240.5 1100,1242.3 1101,1244.8 1102,1247.9 1103,1251.7 1104,1256.1 1105,1261.1 1106,1266.8 1107,1272.9 1108,1279.6 1109,1286.7 1110,1294.3 1111,1302.2 1112,1310.4 1113,1318.9 1114,1327.5 1115,1336.4 1115,1336.8 1116,1328.1 1117,1318.8 1118,1309.5 1119,1300.4 1120,1291.5 1121,1282.9 1122,1274.6 1123,1266.7 1124,1259.3 1125,1252.3 1126,1245.9 1127,1240.1 1128,1234.9 1129,1230.3 1130,1226.5 1131,1223.3 1132,1220.8 1133,1219.1 1134,1218.2 1135,1218.1 1136,1218.8 1137,1220.2 1138,1222.4 1139,1225.3 1140,1228.9 1141,1233.2 1142,1238.2 1143,1243.8 1144,1250.2 1145,1257.7 1146,1265.8 1147,1274.3 1148,1283.3 1149,1292.7 1150,1302.3 1151,1312.2 1152,1322.1 1152.1,1323.1 1153,1313.6 1154,1303.2 1155,1292.9 1156,1282.8 1157,1272.9 1158,1263.4 1159,1254.3 1160,1245.7 1161,1237.8 1162,1230.8 1163,1224.4 1164,1218.7 1165,1213.7 1166,1209.6 1167,1206.3 1168,1203.8 1169,1202.2 1169.8,1201.6 1170,1201.5 1171,1202.3 1172,1204.4 1173,1207.3 1174,1211.1 1175,1215.7 1176,1221.1 1177,1227.1 1178,1233.8 1179,1241.2 1180,1249.3 1181,1257.8 1182,1266.8 1183,1276.2 1184,1285.8 1185,1295.6 1186,1305.6 1187,1315.5 1187.6,1321.8 1188,1318.1 1189,1308.8 1190,1299.6 1191,1290.5 1192,1281.7 1193,1273.2 1194,1265.1 1195,1257.5 1196,1250.4 1197,1243.8 1198,1237.8 1199,1232.5 1200,1228 1201,1224.4 1202,1221.7 1203,1219.8 1204,1218.9 1205,1218.9 1206,1219.9 1207,1222 1208,1225.1 1209,1229.1 1210,1234 1211,1239.7 1212,1246.3 1213,1253.6 1214,1261.3 1215,1269.2 1216,1277.5 1217,1286.3 1218,1295.4 1219,1304.8 1220,1314.6 1221,1324.4 1222,1334.5 1223,1344.6 1223.1,1345.6 1224,1337.4 1225,1328.1 1226,1319.1 1227,1310.3 1228,1302 1229,1294 1230,1286.5 1231,1279.6 1232,1273.1 1233,1267.3 1234,1261.9 1235,1257.3 1236,1253.3 1237,1250.1 1238,1247.6 1239,1245.8 1240,1244.8 1241,1244.5 1241.9,1244.9 1242,1244.9 1243,1246 1244,1247.2 1245,1249.1 1246,1251.7 1247,1255 1248,1258.8 1249,1263.3 1250,1268.3 1251,1273.8 1252,1280 1253,1286.6 1254,1293.6 1255,1300.9 1256,1308.6 1257,1316.4 1258,1324.4 1259,1332.6 1260,1340.7 1260.2,1342.7 1261,1336.1 1262,1327.4 1263,1319 1264,1310.9 1265,1303.1 1266,1295.7 1267,1288.7 1268,1282.3 1269,1276.3 1270,1270.8 1271,1265.8 1272,1261.5 1273,1257.8 1274,1254.9 1275,1252.6 1276,1251.1 1277,1250.2 1277.9,1250.2 1278,1250.2 1279,1251.4 1280,1253.2 1281,1255.5 1282,1258.4 1283,1261.8 1284,1265.6 1285,1269.8 1286,1274.3 1287,1279.3 1288,1284.9 1289,1290.6 1290,1296.5 1291,1302.4 1292,1308.2 1293,1313.9 1294,1319.4 1294.2,1320.7 1295,1315.9 1296,1310.4 1297,1305.4 1298,1300.7 1299,1296.2 1300,1292 1301,1288.2 1302,1284.8 1303,1282 1304,1279.6 1305,1277.7 1306,1276.2 1307,1275.3 1308,1274.8 1309,1274.9 1310,1275.4 1310,1275.4 1311,1276.8 1312,1279 1313,1281.7 1314,1284.8 1315,1288.3 1316,1292.1 1317,1296.2 1318,1300.5 1319,1305.4 1320,1310.4 1321,1315.6 1322,1320.8 1323,1326 1324,1331.1 1325,1336.1 1325.2,1337.3 1326,1334.6 1327,1331.2 1328,1328.1 1329,1325.4 1330,1323 1331,1320.9 1332,1319.2 1333,1318 1334,1317.2 1335,1316.8 1336,1316.7 1337,1317 1338,1317.7 1339,1318.7 1340,1320 1340.2,1320.2 1341,1321.6 1342,1322.8 1343,1324.4 1344,1326.1 1345,1328.1 1346,1330.3 1347,1332.8 1348,1335.4 1349,1338.4 1350,1341.5 1351,1344.8 1352,1348.2 1353,1351.6 1354,1355 1354.8,1357.6 1355,1357.1 1356,1355.1 1357,1353.2 1358,1351.1 1359,1349 1360,1347.3 1361,1345.9 1362,1344.9 1363,1344.3 1364,1343.9 1365,1343.9 1366,1344.1 1367,1344.5 1368,1345.1 1369,1345.9 1369.1,1345.8 1370,1345.3 1371,1344.9 1372,1344.6 1373,1344.5 1374,1344.6 1375,1344.8 1376,1345.2 1377,1345.9 1378,1346.9 1379,1348.2 1380,1349.6 1381,1351 1382,1352.6 1382.8,1353.8 1383,1353.2 1384,1350.8 1385,1348.3 1386,1345.8 1387,1343.4 1388,1341.1 1389,1338.9 1390,1337 1391,1335.2 1392,1333.6 1393,1332.2 1394,1331 1395,1330.1 1396,1329.4 1396,1329.3 1397,1328.5 1398,1327.8 1399,1327.4 1400,1327.2 1401,1327.5 1402,1328 1403,1328.9 1404,1330.1 1405,1331.5 1406,1333.3 1407,1335.4 1408,1337.7 1409,1340.1 1410,1342.7 1410.2,1343.1 1411,1339.9 1412,1336 1413,1332 1414,1328 1415,1324 1416,1320.1 1417,1316.4 1418,1312.9 1419,1309.7 1420,1306.6 1421,1303.9 1422,1301.4 1423,1299.3 1424,1297.5 1425,1296.1 1425.2,1295.8 1426,1295.5 1427,1295.6 1428,1296.1 1429,1296.9 1430,1298.1 1431,1299.7 1432,1301.5 1433,1303.7 1434,1306.3 1435,1309.2 1436,1312.3 1437,1315.6 1438,1319 1439,1322.5 1440,1326.6 1440.2,1327.6 1441,1324.5 1442,1320.2 1443,1316 1444,1311.8 1445,1307.7 1446,1303.8 1447,1300.1 1448,1296.6 1449,1293.5 1450,1290.6 1451,1288.2 1452,1286.2 1453,1284.6 1454,1283.5 1454.8,1283 1455,1283 1456,1282.9 1457,1283.3 1458,1284.6 1459,1286.5 1460,1288.9 1461,1291.7"/>
<path fill="none" stroke="#0000ff" stroke-width="3.4" stroke-linejoin="round" d="M1013.4,750.4 1014.1,741.6 1014.8,730.1 1015.5,718.6 1016.2,712.5 1016.9,709.2 1017.6,710.8 1018.3,713 1019,705.8 1019.7,703.8 1020.4,706.3 1021.1,705.7 1021.8,704.7 1022.5,701.3 1023.2,703.8 1023.9,705.7 1024.6,653.1 1025.3,648.1 1026,636.2 1026.7,630.4 1027.4,621.1 1028.1,620.3 1028.8,623.4 1029.5,634.2 1030.2,640 1030.9,645.2 1031.6,651.1 1032.3,686.4 1033,717.3 1033.7,736.1 1034.4,734.7 1035.1,741.3 1035.8,743.3 1036.5,744 1037.2,747.5 1037.9,739.7 1038.6,739.9 1039.3,743.3 1040,740 1040.7,742.6 1041.4,744.4 1042.1,744.8 1042.8,738.5 1043.5,739.9 1044.2,741.3 1044.9,730.1 1045.6,735.4 1046.3,732.5 1047,729.5 1047.7,736.7 1048.4,732.3 1049.1,725.8 1049.8,728.9 1050.5,729.7 1051.2,723.1 1051.9,718.6 1052.6,709.2 1053.3,704.3 1054,699.5 1054.7,698.8 1055.4,709.2 1056.1,715 1056.8,724.5 1057.5,728.3 1058.2,737.9 1058.9,745.7 1059.6,748.6 1060.3,749 1061,741.3 1061.7,742.5 1062.4,746.5 1063.1,738.2 1063.8,742.5 1064.5,741.5 1065.2,742.3 1065.9,737.2 1066.6,730.9 1067.3,727.4 1068,727.1 1068.7,732.9 1069.4,727.4 1070.1,728.2 1070.8,730.6 1071.5,729.6 1072.2,729.6 1072.9,726.1 1073.6,728.6 1074.3,726.5 1075,730.6 1075.7,728.3 1076.4,726.1 1077.1,728.4 1077.8,725.7 1078.5,730.1 1079.2,727.2 1079.9,729.2 1080.6,720 1081.3,718.5 1082,713.9 1082.7,717.5 1083.4,727.4 1084.1,730.3 1084.8,738.1 1085.5,749 1086.2,730.5 1086.9,721.8 1087.6,714.9 1088.3,706.4 1089,699.7 1089.7,706.4 1090.4,715.9 1091.1,722.1 1091.8,724.2 1092.5,733.8 1093.2,740.9 1093.9,735.6 1094.6,730.9 1095.3,718.9 1096,715.7 1096.7,712.2 1097.4,713.6 1098.1,713.4 1098.8,716.6 1099.5,712.7 1100.2,715.1 1100.9,714.4 1101.6,701.8 1102.3,705.5 1103,692.5 1103.7,694.9 1104.4,689.3 1105.1,704.4 1105.8,712.8 1106.5,718.1 1107.2,734.8 1107.9,739 1108.6,738.2 1109.3,741.2 1110,745.2 1110.7,746.4 1111.4,750.4 1112.1,740.9 1112.8,737.8 1113.5,730.9 1114.2,726.9 1114.9,720.3 1115.6,723.3 1116.3,715 1117,717.7 1117.7,714.2 1118.4,711.4 1119.1,711.9 1119.8,710.5 1120.5,706.7 1121.2,698.2 1121.9,691 1122.6,680.4 1123.3,674.7 1124,674.7 1124.7,660.3 1125.4,651.8 1126.1,661.5 1126.8,675.5 1127.5,677.6 1128.2,692.1 1128.9,701.6 1129.6,709 1130.3,727.2 1131,735.7 1131.7,744.1 1132.4,733.7 1133.1,729.4 1133.8,718.4 1134.5,711.7 1135.2,702.2 1135.9,697 1136.6,699.7 1137.3,689.3 1138,686.8 1138.7,680.9 1139.4,674.8 1140.1,669.7 1140.8,668.2 1141.5,672.2 1142.2,684.1 1142.9,696 1143.6,710.9 1144.3,720.9 1145,731.4 1145.7,722.5 1146.4,713.9 1147.1,714.7 1147.8,708.6 1148.5,699.1 1149.2,695 1149.9,689.6 1150.6,683.6 1151.3,677.7 1152,667.5 1152.7,675.3 1153.4,674.9 1154.1,689.2 1154.8,696.1 1155.5,705.1 1156.2,716.1 1156.9,722.9 1157.6,722.9 1158.3,729.2 1159,724.5 1159.7,706.7 1160.4,697.4 1161.1,687.7 1161.8,668 1162.5,654.3 1163.2,649.1 1163.9,636.2 1164.6,623.1 1165.3,621.2 1166,628.6 1166.7,636.7 1167.4,650.9 1168.1,659.4 1168.8,673.5 1169.5,696 1170.2,710.4 1170.9,727.9 1171.6,721 1172.3,716.2 1173,709.3 1173.7,703.8 1174.4,701.2 1175.1,692.4 1175.8,690.3 1176.5,684.6 1177.2,684 1177.9,668.2 1178.6,669.4 1179.3,660.9 1180,655.5 1180.7,645.6 1181.4,642.9 1182.1,642.7 1182.8,636.7 1183.5,633.6 1184.2,628.9 1184.9,640.5 1185.6,648.5 1186.3,653.5 1187,669.5 1187.7,677.2 1188.4,684.9 1189.1,704.6 1189.8,721.7 1190.5,729.4 1191.2,733.2 1191.9,731.1 1192.6,734.5 1193.3,728.8 1194,725.7 1194.7,722.6 1195.4,712.8 1196.1,704.9 1196.8,694 1197.5,682.9 1198.2,668.9 1198.9,663.5 1199.6,649.7 1200.3,644.9 1201,627.7 1201.7,620.9 1202.4,625.2 1203.1,635.8 1203.8,659.4 1204.5,673.1 1205.2,681.8 1205.9,700 1206.6,713.3 1207.3,718.8 1208,738.1 1208.7,725.7 1209.4,714.6 1210.1,699.6 1210.8,690.5 1211.5,679.3 1212.2,671.9 1212.9,657.8 1213.6,645.3 1214.3,651.2 1215,651.3 1215.7,658.2 1216.4,660.3 1217.1,676.9 1217.8,681.5 1218.5,688 1219.2,693.9 1219.9,698.9 1220.6,705.8 1221.3,711 1222,717.8 1222.7,725.2 1223.4,736.2 1224.1,719.1 1224.8,703 1225.5,687.1 1226.2,672.7 1226.9,665.1 1227.6,647.6 1228.3,632 1229,616.4 1229.7,651 1230.4,711.4 1231.1,736.1 1231.8,727.7 1232.5,723.6 1233.2,719.1 1233.9,715.5 1234.6,705.8 1235.3,705.2 1236,698.8 1236.7,699.4 1237.4,689.9 1238.1,689.3 1238.8,687.6 1239.5,677.5 1240.2,672 1240.9,669.8 1241.6,664.6 1242.3,657.1 1243,656.9 1243.7,657 1244.4,645.6 1245.1,641.2 1245.8,641.8 1246.5,655 1247.2,659.3 1247.9,668.8 1248.6,685 1249.3,687.5 1250,702.7 1250.7,713.2 1251.4,718.7 1252.1,727.6 1252.8,732.8 1253.5,727.4 1254.2,727.3 1254.9,726.1 1255.6,731.3 1256.3,736.7 1257,736.1 1257.7,731.5 1258.4,715.2 1259.1,692.6 1259.8,671.4 1260.5,646.2 1261.2,629 1261.9,641.6 1262.6,652.1 1263.3,665.2 1264,678.3 1264.7,689.7 1265.4,703.8 1266.1,720.2 1266.8,728.7 1267.5,736.4 1268.2,722.6 1268.9,720.2 1269.6,704.6 1270.3,697.6 1271,695.7 1271.7,686.7 1272.4,675.5 1273.1,662.2 1273.8,657.6 1274.5,648.1 1275.2,655.2 1275.9,672.2 1276.6,678.2 1277.3,687.3 1278,698.2 1278.7,713.7 1279.4,725.4 1280.1,729.4 1280.8,726.9 1281.5,716.8 1282.2,717.3 1282.9,710.9 1283.6,704.7 1284.3,693.7 1285,690.4 1285.7,682.2 1286.4,688 1287.1,696.8 1287.8,702.5 1288.5,710.8 1289.2,726.1 1289.9,731.8 1290.6,733.8 1291.3,731 1292,717.7 1292.7,715.4 1293.4,713.1 1294.1,708.6 1294.8,701.2 1295.5,700.2 1296.2,692.6 1296.9,684.7 1297.6,691 1298.3,701.7 1299,706.1 1299.7,704.5 1300.4,719.7 1301.1,722.9 1301.8,730.6 1302.5,730.8 1303.2,736.6 1303.9,728.2 1304.6,728.7 1305.3,710.1 1306,705 1306.7,687.9 1307.4,679.8 1308.1,663.9 1308.8,657.3 1309.5,651 1310.2,638 1310.9,663.4 1311.6,679.7 1312.3,694 1313,714.1 1313.7,732.7 1314.4,737.6 1315.1,728.8 1315.8,720.5 1316.5,714.7 1317.2,705.1 1317.9,696.9 1318.6,693.3 1319.3,688.7 1320,674 1320.7,671.2 1321.4,661.9 1322.1,660.9 1322.8,676.4 1323.5,682.2 1324.2,698.2 1324.9,701.3 1325.6,714.7 1326.3,722.8 1327,731.2 1327.7,745.2 1328.4,737.6 1329.1,734.5 1329.8,727.1 1330.5,718.6 1331.2,716.2 1331.9,711.3 1332.6,708.6 1333.3,697.7 1334,694.9 1334.7,684.5 1335.4,686.2 1336.1,675.6 1336.8,676.6 1337.5,696.2 1338.2,714.1 1338.9,720.6 1339.6,733.6 1340.3,730 1341,724.3 1341.7,724.3 1342.4,716.1 1343.1,711.8 1343.8,719.3 1344.5,718.8 1345.2,725.8 1345.9,725.1 1346.6,727.9 1347.3,729.6 1348,738.9 1348.7,728.5 1349.4,726.3 1350.1,721.5 1350.8,718.2 1351.5,714 1352.2,715.7 1352.9,702.9 1353.6,697.5 1354.3,695.2 1355,691.8 1355.7,704.6 1356.4,711.4 1357.1,712.6 1357.8,717.9 1358.5,727.5 1359.2,739.3 1359.9,716 1360.6,712.4 1361.3,694.1 1362,700.2 1362.7,698.9 1363.4,706.3 1364.1,707.8 1364.8,714.4 1365.5,726.6 1366.2,730 1366.9,731.4 1367.6,735.1 1368.3,737.1 1369,746.7 1369.7,751.6 1370.4,748.2 1371.1,745 1371.8,738.6 1372.5,738.6 1373.2,735.4 1373.9,736.2 1374.6,734.6 1375.3,725.4 1376,720.3 1376.7,719.1 1377.4,724.6 1378.1,735.4 1378.8,748.7 1379.5,740.6 1380.2,728.1 1380.9,708.4 1381.6,692 1380.6,700 1382.1,678.8"/>
<path fill="none" stroke="#ecbe45" stroke-opacity="0.85" stroke-width="3.5" d="M1013.4,702.9 1015.4,703.3 1017.4,703.7 1019.4,704.1 1021.4,704.5 1023.4,704.9 1025.4,705.3 1027.4,705.7 1029.4,706 1031.4,706.3 1033.4,706.6 1035.4,706.9 1037.4,707.2 1039.4,707.4 1041.4,707.7 1043.4,707.9 1045.4,708.1 1047.4,708.4 1049.4,708.6 1051.4,708.8 1053.4,709 1055.4,709.2 1057.4,709.4 1059.4,709.6 1061.4,709.8 1063.4,709.9 1065.4,710.1 1067.4,710.2 1069.4,710.2 1071.4,710.3 1073.4,710.3 1075.4,710.3 1077.4,710.1 1079.4,710 1081.4,709.7 1083.4,709.4 1085.4,709.1 1087.4,708.7 1089.4,708.3 1091.4,707.9 1093.4,707.4 1095.4,707 1097.4,706.5 1099.4,706.1 1101.4,705.7 1103.4,705.3 1105.4,704.8 1107.4,704.3 1109.4,703.8 1111.4,703.3 1113.4,702.8 1115.4,702.2 1117.4,701.6 1119.4,701.1 1121.4,700.5 1123.4,699.9 1125.4,699.3 1127.4,698.7 1129.4,698.1 1131.4,697.5 1133.4,697 1135.4,696.4 1137.4,695.8 1139.4,695.2 1141.4,694.5 1143.4,693.9 1145.4,693.3 1147.4,692.6 1149.4,692 1151.4,691.3 1153.4,690.7 1155.4,690 1157.4,689.4 1159.4,688.8 1161.4,688.2 1163.4,687.7 1165.4,687.1 1167.4,686.6 1169.4,686.1 1171.4,685.7 1173.4,685.2 1175.4,684.8 1177.4,684.4 1179.4,684 1181.4,683.5 1183.4,683.2 1185.4,682.8 1187.4,682.4 1189.4,682 1191.4,681.7 1193.4,681.4 1195.4,681.1 1197.4,680.8 1199.4,680.6 1201.4,680.3 1203.4,680.1 1205.4,679.8 1207.4,679.6 1209.4,679.4 1211.4,679.2 1213.4,679 1215.4,678.8 1217.4,678.7 1219.4,678.6 1221.4,678.5 1223.4,678.5 1225.4,678.5 1227.4,678.6 1229.4,678.7 1231.4,678.8 1233.4,678.9 1235.4,679.1 1237.4,679.2 1239.4,679.4 1241.4,679.6 1243.4,679.8 1245.4,680 1247.4,680.2 1249.4,680.4 1251.4,680.7 1253.4,680.9 1255.4,681.2 1257.4,681.6 1259.4,682 1261.4,682.4 1263.4,682.8 1265.4,683.3 1267.4,683.7 1269.4,684.2 1271.4,684.7 1273.4,685.2 1275.4,685.7 1277.4,686.2 1279.4,686.7 1281.4,687.2 1283.4,687.7 1285.4,688.2 1287.4,688.7 1289.4,689.3 1291.4,689.8 1293.4,690.4 1295.4,690.9 1297.4,691.5 1299.4,692.1 1301.4,692.6 1303.4,693.2 1305.4,693.8 1307.4,694.3 1309.4,694.8 1311.4,695.4 1313.4,695.9 1315.4,696.5 1317.4,697.1 1319.4,697.6 1321.4,698.2 1323.4,698.8 1325.4,699.3 1327.4,699.9 1329.4,700.4 1331.4,700.9 1333.4,701.4 1335.4,701.8 1337.4,702.3 1339.4,702.6 1341.4,703 1343.4,703.2 1345.4,703.5 1347.4,703.8 1349.4,704.1 1351.4,704.3 1353.4,704.6 1355.4,704.8 1357.4,705 1359.4,705.2 1361.4,705.3 1363.4,705.4 1365.4,705.5 1367.4,705.6 1369.4,705.7 1371.4,705.7 1373.4,705.8 1375.4,705.9 1377.4,705.9 1379.4,705.9"/>
<g stroke="#8a8a8a" stroke-width="1.8" stroke-dasharray="9 8.4">
<line x1="1026.7" y1="177.4" x2="1026.7" y2="1196"/>
<line x1="1052.6" y1="177.4" x2="1052.6" y2="1196"/>
<line x1="1068.9" y1="177.4" x2="1068.9" y2="1196"/>
<line x1="1088.7" y1="177.4" x2="1088.7" y2="1196"/>
<line x1="1104.7" y1="177.4" x2="1104.7" y2="1196"/>
<line x1="1122.4" y1="177.4" x2="1122.4" y2="1196"/>
<line x1="1142.4" y1="177.4" x2="1142.4" y2="1196"/>
<line x1="1164.3" y1="177.4" x2="1164.3" y2="1196"/>
<line x1="1181.7" y1="177.4" x2="1181.7" y2="1196"/>
<line x1="1199.1" y1="177.4" x2="1199.1" y2="1196"/>
<line x1="1213.8" y1="177.4" x2="1213.8" y2="1196"/>
<line x1="1230.6" y1="177.4" x2="1230.6" y2="1196"/>
<line x1="1249" y1="177.4" x2="1249" y2="1196"/>
<line x1="1273.1" y1="177.4" x2="1273.1" y2="1196"/>
<line x1="1286.4" y1="177.4" x2="1286.4" y2="1196"/>
<line x1="1307.8" y1="177.4" x2="1307.8" y2="1196"/>
<line x1="1322.8" y1="177.4" x2="1322.8" y2="1196"/>
<line x1="1336.1" y1="177.4" x2="1336.1" y2="1196"/>
<line x1="1350" y1="177.4" x2="1350" y2="1196"/>
<line x1="1362.1" y1="177.4" x2="1362.1" y2="1196"/>
<line x1="1376.7" y1="177.4" x2="1376.7" y2="1196"/>
</g>
<g stroke="#231815" stroke-width="2" fill="none">
<polyline points="1001,628.8 1013.4,628.8 1013.4,735.3 1001,735.3"/>
<line x1="1004.7" y1="642.1" x2="1013.4" y2="642.1"/>
<line x1="1004.7" y1="655.4" x2="1013.4" y2="655.4"/>
<line x1="1004.7" y1="668.7" x2="1013.4" y2="668.7"/>
<line x1="1004.7" y1="682" x2="1013.4" y2="682"/>
<line x1="1004.7" y1="695.4" x2="1013.4" y2="695.4"/>
<line x1="1004.7" y1="708.7" x2="1013.4" y2="708.7"/>
<line x1="1004.7" y1="722" x2="1013.4" y2="722"/>
<polyline points="1400.8,640.7 1387.2,640.7 1387.2,749.6 1400.8,749.6"/>
<line x1="1387.2" y1="647.5" x2="1396" y2="647.5"/>
<line x1="1387.2" y1="654.3" x2="1400.8" y2="654.3"/>
<line x1="1387.2" y1="661.1" x2="1396" y2="661.1"/>
<line x1="1387.2" y1="667.9" x2="1400.8" y2="667.9"/>
<line x1="1387.2" y1="674.7" x2="1396" y2="674.7"/>
<line x1="1387.2" y1="681.5" x2="1400.8" y2="681.5"/>
<line x1="1387.2" y1="688.3" x2="1396" y2="688.3"/>
<line x1="1387.2" y1="695.2" x2="1400.8" y2="695.2"/>
<line x1="1387.2" y1="702" x2="1396" y2="702"/>
<line x1="1387.2" y1="708.8" x2="1400.8" y2="708.8"/>
<line x1="1387.2" y1="715.6" x2="1396" y2="715.6"/>
<line x1="1387.2" y1="722.4" x2="1400.8" y2="722.4"/>
<line x1="1387.2" y1="729.2" x2="1396" y2="729.2"/>
<line x1="1387.2" y1="736" x2="1400.8" y2="736"/>
<line x1="1387.2" y1="742.8" x2="1396" y2="742.8"/>
<line x1="1013.4" y1="772" x2="1387.2" y2="772"/>
<line x1="1018.2" y1="772" x2="1018.2" y2="780"/>
<line x1="1051.7" y1="772" x2="1051.7" y2="784"/>
<line x1="1085.2" y1="772" x2="1085.2" y2="780"/>
<line x1="1118.7" y1="772" x2="1118.7" y2="784"/>
<line x1="1152.2" y1="772" x2="1152.2" y2="780"/>
<line x1="1185.7" y1="772" x2="1185.7" y2="784"/>
<line x1="1219.1" y1="772" x2="1219.1" y2="780"/>
<line x1="1252.6" y1="772" x2="1252.6" y2="784"/>
<line x1="1286.1" y1="772" x2="1286.1" y2="780"/>
<line x1="1319.6" y1="772" x2="1319.6" y2="784"/>
<line x1="1353.1" y1="772" x2="1353.1" y2="780"/>
<line x1="1386.6" y1="772" x2="1386.6" y2="784"/>
</g>
<line x1="1074.8" y1="709" x2="1074.8" y2="668" stroke="#231815" stroke-width="2"/>
<polygon points="1074.8,655.5 1070.8,670 1078.8,670" fill="#231815"/>
<path fill="none" stroke="#231815" stroke-width="2" d="M1103.4,174.4 Q1113.1,149.6 1122.8,174.4"/>
<path fill="none" stroke="#231815" stroke-width="2" d="M709.2,839.3 Q728.9,808.9 747.2,839.3"/>
<path fill="none" stroke="#231815" stroke-width="2" d="M628.6,1070.4 Q637.7,1048 648.3,1070.4"/>
<path fill="none" stroke="#231815" stroke-width="2" d="M589.6,1221 Q607.3,1190.6 627,1221"/>
<path fill="none" stroke="#231815" stroke-width="2" d="M1167.7,635.5 Q1175,600.8 1184.4,627.4"/>
<path fill="none" stroke="#231815" stroke-width="2" d="M1184.4,627.4 Q1194.7,595.8 1200.6,617"/>
<path fill="none" stroke="#231815" stroke-width="2" d="M1310.8,638.3 Q1316.7,606.5 1324.8,655.2"/>
<path fill="none" stroke="#cc94c6" stroke-width="2" stroke-linejoin="round" d="M139.3,1456 139.7,1461 140,1470.4 140.3,1479.1 140.7,1487.3 141,1494.8 141.4,1501.7 141.7,1508 142.1,1513.8 142.4,1519.1 142.8,1523.9 143,1526.4 143.1,1526.8 143.5,1517.6 143.8,1507.5 144.2,1500.7 144.5,1497.2 144.9,1496.4 145.2,1498 145.6,1502 145.9,1508.9 146.3,1519.4 146.6,1535.4 147,1560 147.3,1581 147.3,1580.2 147.7,1556.3 148,1535.7 148.4,1522.5 148.7,1514 149.1,1509 149.4,1506.6 149.8,1506.6 150.1,1508 150.5,1511.2 150.8,1517 151.2,1527.1 151.5,1543.5 151.9,1556.2 151.9,1556.2 152.2,1539.7 152.6,1517.3 152.9,1499 153.3,1484.8 153.6,1473.9 154,1465.9 154.3,1460.5 154.7,1457.6 155,1457.5 155.4,1460.6 155.7,1466.9 156.1,1476.3 156.4,1489.1 156.8,1505.6 157.1,1527 157.5,1555.4 157.8,1585.9 157.9,1587.8 158.2,1570 158.5,1551.6 158.9,1542.7 159.2,1538.8 159.6,1537.6 159.9,1538.1 160.3,1539.7 160.6,1543.4 161,1549.6 161.3,1558.9 161.7,1572.1 162,1589.3 162.4,1601.4 162.4,1601.4 162.7,1586.8 163.1,1567.5 163.4,1556.1 163.8,1551.1 164.1,1551.1 164.5,1556.2 164.8,1567.2 165.2,1587.7 165.5,1630.7 165.7,1657 165.9,1622.3 166.2,1588.5 166.6,1572.2 166.9,1563.8 167.3,1560.4 167.6,1561 168,1565.5 168.3,1573.8 168.7,1585.4 169,1596.2 169.2,1598.2 169.4,1598.9 169.7,1596.2 170.1,1590.5 170.4,1584.8 170.8,1580.3 171.1,1577.2 171.5,1575.5 171.8,1575.1 172.2,1576.2 172.5,1579 172.9,1583.8 173.2,1591.2 173.6,1602.6 173.9,1620.7 174.3,1654.5 174.5,1680.4 174.6,1644.5 175,1604 175.3,1584.9 175.7,1574.8 176,1570.6 176.4,1571.5 176.7,1578.1 177.1,1590.9 177.4,1610.8 177.8,1629.2 177.8,1629.6 178.1,1614.6 178.5,1596.5 178.8,1587.1 179.2,1583.8 179.5,1584.9 179.9,1589.9 180.2,1598.5 180.6,1600.9 180.6,1600.9 180.9,1591.2 181.3,1576.2 181.6,1561.1 182,1548.3 182.3,1538.8 182.7,1533.2 183,1531.9 183.4,1535 183.7,1542.2 184.1,1553.7 184.4,1569.9 184.8,1592.4 185.1,1624.7 185.4,1650.1 185.5,1645.5 185.8,1614.9 186.2,1600.1 186.5,1593.6 186.9,1591.6 187.2,1592.6 187.6,1597.3 187.9,1607 188.3,1623.6 188.6,1649.9 188.9,1661.2 189,1658.6 189.3,1639.8 189.7,1623.5 190,1612.5 190.4,1605.5 190.7,1601.6 191.1,1600.3 191.4,1601.4 191.8,1605 192.1,1611.3 192.5,1620.8 192.8,1634.5 193.2,1653.8 193.5,1672.5 193.6,1673.3 193.9,1658.7 194.2,1636.4 194.6,1623.3 194.9,1616.5 195.3,1614.4 195.6,1616.5 196,1623.2 196.3,1635.8 196.7,1658.6 197,1713.1 197.2,1749.4 197.4,1679.1 197.7,1644.1 198.1,1628.7 198.4,1621.8 198.8,1620.7 199.1,1625.2 199.5,1635.7 199.8,1652 200.2,1660.2 200.2,1660.2 200.5,1648.4 200.9,1633 201.2,1622.9 201.6,1618 201.9,1617.8 202.3,1621.9 202.6,1632 203,1653.3 203.3,1700.9 203.4,1703.6 203.7,1658.1 204,1627.7 204.4,1611.1 204.7,1602.2 205.1,1599.2 205.4,1601.5 205.8,1609.1 206.1,1623.5 206.5,1647.6 206.8,1670.9 206.8,1670.9 207.2,1642.2 207.5,1620.8 207.9,1610.6 208.2,1607.5 208.6,1610.6 208.9,1621 209.3,1643.8 209.6,1686.4 209.7,1687.3 210,1645.3 210.3,1618.2 210.7,1606.3 211,1603.6 211.4,1610.3 211.7,1628.6 212.1,1667 212.3,1691.9 212.4,1681.8 212.8,1654.7 213.1,1640.8 213.5,1633.8 213.8,1630.7 214.2,1629.9 214.5,1631.2 214.9,1635.1 215.2,1642.5 215.6,1652.7 215.9,1656.9 216,1656.7 216.3,1645.1 216.6,1627.1 217,1613.7 217.3,1605.8 217.7,1603.5 218,1606 218.4,1613.3 218.7,1627.2 219.1,1652.2 219.4,1685.9 219.4,1685.8 219.8,1650.2 220.1,1626.5 220.5,1614.4 220.8,1609.3 221.2,1609.5 221.5,1615.2 221.9,1627.9 222.2,1653.2 222.6,1728.2 222.7,1745.9 222.9,1654.1 223.3,1624.5 223.6,1614 224,1614.3 224.3,1625.3 224.7,1655.4 225,1827.9 225,1738.2 225.4,1665.8 225.7,1640.5 226.1,1625.5 226.4,1615.7 226.8,1609.4 227.1,1606 227.5,1605.1 227.8,1606.7 228.2,1611.1 228.5,1619 228.9,1630.1 229.2,1642.3 229.6,1649.9 229.6,1650.2 229.9,1648.6 230.3,1641.1 230.6,1634.5 231,1630.4 231.3,1628.3 231.7,1628 232,1629.9 232.4,1634.5 232.7,1642.2 233.1,1652.7 233.4,1662.3 233.6,1663.5 233.8,1659.5 234.1,1642.1 234.5,1629.1 234.8,1623 235.2,1623.4 235.5,1630.5 235.9,1648.1 236.2,1683.8 236.3,1690.3 236.6,1668.4 236.9,1639.1 237.3,1622.6 237.6,1614.1 238,1611.7 238.3,1615 238.7,1624.8 239,1643.7 239.4,1685.1 239.6,1772.6 239.7,1699.4 240.1,1651.3 240.4,1632.6 240.8,1623.6 241.1,1620.1 241.5,1621 241.8,1626.1 242.2,1635.8 242.5,1647.9 242.8,1650.2 242.9,1649.3 243.2,1634.9 243.6,1620.4 243.9,1611.9 244.3,1609.8 244.6,1614.2 245,1626.6 245.3,1651.6 245.7,1724 245.8,1777.5 246,1679.4 246.4,1649 246.7,1635.5 247.1,1629.1 247.4,1627.4 247.8,1629.6 248.1,1636.8 248.5,1651.4 248.8,1680.2 249.1,1704.5 249.2,1692.7 249.5,1648.5 249.9,1627.2 250.2,1617.2 250.6,1614.8 250.9,1619 251.3,1630.2 251.6,1647.2 251.9,1652.5 252,1651.7 252.3,1640 252.7,1626.8 253,1617.7 253.4,1612.6 253.7,1611.3 254.1,1613.7 254.4,1620.2 254.8,1632.1 255.1,1651.9 255.5,1678.8 255.6,1681.2 255.8,1663.7 256.2,1640.7 256.5,1626.5 256.9,1618.4 257.2,1614.6 257.6,1614.5 257.9,1618.4 258.3,1626.5 258.6,1639.3 259,1656.5 259.3,1668 259.4,1668 259.7,1653.7 260,1636.6 260.4,1628.6 260.7,1628 261.1,1635.2 261.4,1653.1 261.8,1697.1 262,1737.9 262.1,1700.9 262.5,1660.9 262.8,1643.1 263.2,1634.6 263.5,1632.1 263.9,1634.7 264.2,1643 264.6,1660.1 264.9,1693.8 265.1,1705.4 265.3,1682.9 265.6,1647.9 266,1630.6 266.3,1622.9 266.7,1622.6 267,1629.7 267.4,1645 267.7,1668.4 267.9,1676 268.1,1671.2 268.4,1649.1 268.8,1636.1 269.1,1631.4 269.5,1633.5 269.8,1643.4 270.2,1662.3 270.5,1674 270.5,1673.7 270.9,1661.6 271.2,1646.2 271.6,1634.7 271.9,1627.6 272.3,1624.3 272.6,1624.7 273,1628.8 273.3,1637.5 273.7,1653.3 274,1684.6 274.3,1733.5 274.4,1717.3 274.7,1659.1 275.1,1636.1 275.4,1625 275.8,1620.9 276.1,1622.9 276.5,1631.4 276.8,1649.2 277.2,1686.8 277.4,1715.7 277.5,1690.8 277.9,1648.8 278.2,1631.7 278.6,1625.4 278.9,1626.9 279.3,1636.2 279.6,1655.8 280,1679.9 280,1680.2 280.3,1667.7 280.7,1649 281,1636.9 281.4,1630.2 281.7,1627.8 282.1,1628.9 282.4,1633.2 282.8,1641.6 283.1,1654.9 283.5,1664.1 283.5,1663.9 283.8,1657.6 284.2,1646.5 284.5,1633.7 284.9,1621.2 285.2,1609.8 285.6,1599.5 285.9,1590.6 286.3,1583.2 286.6,1577.2 287,1572.7 287.3,1570 287.7,1569.1 288,1570.3 288.4,1573.8 288.7,1579.5 289.1,1587.2 289.4,1596.8 289.8,1608.1 290.1,1621.2 290.5,1636.1 290.8,1653.1 291.2,1672.1 291.5,1692 291.9,1706.3 291.9,1706.3 292.2,1686.1 292.6,1667.7 292.9,1658.5 293.3,1654.4 293.6,1653.9 294,1657.7 294.3,1667.2 294.7,1685.9 295,1724.2 295.2,1736.5 295.4,1711.7 295.7,1682.8 296.1,1664.4 296.4,1651.6 296.8,1642.4 297.1,1635.9 297.5,1631.6 297.8,1629.3 298.2,1628.4 298.5,1628.7 298.9,1630.3 299.2,1632.6 299.6,1634.1 299.9,1632.2 300,1631.1 300.3,1627.8 300.6,1622.1 301,1615.5 301.3,1608.4 301.7,1601.4 302,1594.9 302.4,1589 302.7,1584 303.1,1580 303.4,1577 303.8,1575.1 304.1,1574.3 304.5,1574.9 304.8,1576.9 305.2,1580.3 305.5,1584.9 305.9,1590.8 306.2,1597.7 306.6,1605.5 306.9,1614.1 307.3,1623.1 307.6,1631.9 308,1639.9 308.3,1646.1 308.4,1646.8 308.7,1647.5 309,1642.6 309.4,1637.8 309.7,1635.2 310.1,1635 310.4,1637.4 310.8,1642.7 311.1,1651.5 311.5,1664.2 311.8,1679 312.1,1684.8 312.2,1684.2 312.5,1672 312.9,1659.6 313.2,1652.3 313.6,1649.9 313.9,1652 314.3,1659 314.6,1671.7 315,1691.7 315.3,1711.3 315.4,1711.6 315.7,1698.1 316,1681.8 316.4,1671.1 316.7,1664.9 317.1,1662.2 317.4,1662.6 317.8,1666.2 318.1,1673 318.5,1682.1 318.8,1689.5 319,1690 319.2,1688.6 319.5,1681.1 319.9,1672.3 320.2,1665.5 320.6,1661.2 320.9,1659.6 321.3,1660.5 321.6,1663.9 322,1669.9 322.3,1678 322.7,1685.8 323,1688 323,1687.8 323.4,1682.3 323.7,1673.7 324.1,1665.9 324.4,1660.2 324.8,1656.8 325.1,1655.7 325.5,1656.9 325.8,1660.3 326.2,1666.2 326.5,1674.6 326.9,1683.3 327.2,1686.2 327.2,1685.8 327.6,1679.9 327.9,1670.5 328.3,1661.4 328.6,1654.1 329,1648.9 329.3,1645.7 329.7,1644.5 330,1645.5 330.4,1648.8 330.7,1654.4 331.1,1662.5 331.4,1673.4 331.8,1686.6 332.1,1698.7 332.3,1701.6 332.5,1701 332.8,1691.9 333.2,1681.7 333.5,1674 333.9,1669 334.2,1666.1 334.6,1665.1 334.9,1666.1 335.3,1669.4 335.6,1675.4 336,1685 336.3,1699.9 336.7,1723.3 337,1743.8 337,1742.4 337.4,1710.8 337.7,1688.3 338.1,1674.9 338.4,1667 338.8,1663.1 339.1,1662.7 339.5,1665.3 339.8,1671.5 340.2,1682.7 340.5,1701.5 340.9,1719.5 340.9,1719.4 341.2,1691.3 341.6,1667.9 341.9,1654.4 342.3,1647.6 342.6,1646.1 343,1649.4 343.3,1657 343.7,1667.8 344,1676 344.1,1676.3 344.4,1674.3 344.7,1666.2 345.1,1658.4 345.4,1653.2 345.8,1650.9 346.1,1651.4 346.5,1654.9 346.8,1661.3 347.2,1670.1 347.5,1677.1 347.7,1677.6 347.9,1676.5 348.2,1671.3 348.6,1664 348.9,1657 349.3,1651.3 349.6,1647.3 350,1644.9 350.3,1644.4 350.7,1645.9 351,1649.6 351.4,1655.5 351.7,1664 352.1,1675.2 352.4,1689.4 352.8,1704 353,1708.8 353.1,1707.6 353.5,1694.4 353.8,1681.9 354.2,1673.5 354.5,1668.5 354.9,1666.4 355.2,1666.7 355.6,1669.9 355.9,1676.7 356.3,1688.3 356.6,1708.1 357,1745.1 357.1,1760.5 357.3,1742.1 357.7,1708.8 358,1689.7 358.4,1677.9 358.7,1670.5 359.1,1666.4 359.4,1664.9 359.8,1666.1 360.1,1670.1 360.5,1677.2 360.8,1688.7 361.2,1707.1 361.5,1740 361.8,1766 361.9,1747.4 362.2,1702.1 362.6,1681.7 362.9,1671.1 363.3,1666.6 363.6,1666.8 364,1671.6 364.3,1681.7 364.7,1697.3 365,1709.1 365.1,1709 365.4,1699.9 365.7,1683.3 366.1,1671.9 366.4,1666.1 366.8,1665 367.1,1668.6 367.5,1677.9 367.8,1696.5 368.2,1737.6 368.3,1757.5 368.5,1737.2 368.9,1703.7 369.2,1683.6 369.6,1670.5 369.9,1661.8 370.3,1656.4 370.6,1653.8 371,1654 371.3,1656.8 371.7,1662.4 372,1671.4 372.4,1684.9 372.7,1706.1 373.1,1743 373.3,1762.3 373.4,1741.9 373.8,1706 374.1,1687.7 374.5,1676.9 374.8,1670.6 375.2,1667.3 375.5,1666.3 375.9,1667.5 376.2,1670.9 376.6,1677 376.9,1686.3 377.3,1698.3 377.6,1705.7 377.7,1705.4 378,1696.7 378.3,1679.3 378.7,1665.8 379,1657.1 379.4,1652.7 379.7,1652.2 380.1,1655.4 380.4,1662.7 380.8,1675.9 381.1,1698.8 381.5,1730.6 381.5,1731 381.8,1700.7 382.2,1676.4 382.5,1662.3 382.9,1654.1 383.2,1650.2 383.6,1650 383.9,1653.3 384.3,1660.6 384.6,1672.1 385,1687.2 385.3,1695.7 385.3,1695.7 385.7,1683.6 386,1668.6 386.4,1658.7 386.7,1653.7 387.1,1652.8 387.4,1655.7 387.8,1662.7 388.1,1673.4 388.5,1684.2 388.7,1686.1 388.8,1685.5 389.2,1676.7 389.5,1666.6 389.9,1659.6 390.2,1656.1 390.6,1656.2 390.9,1659.8 391.3,1667.5 391.6,1681.1 392,1702.1 392.2,1711.8 392.3,1703.6 392.7,1677.4 393,1660.2 393.4,1650.5 393.7,1646.4 394.1,1647.2 394.4,1652.3 394.8,1661.1 395.1,1670.7 395.4,1673.2 395.5,1673.4 395.8,1671.2 396.2,1665.8 396.5,1660 396.9,1655.2 397.2,1652 397.6,1650.3 397.9,1650.2 398.3,1651.2 398.6,1653.4 399,1657.1 399.3,1663 399.7,1671.7 400,1682.8 400.3,1688 400.4,1687 400.7,1676.3 401.1,1661.4 401.4,1647.4 401.8,1635.6 402.1,1626 402.5,1618.5 402.8,1613.1 403.2,1609.6 403.5,1608.2 403.9,1609.1 404.2,1612.6 404.6,1618.5 404.9,1626.7 405.3,1637.2 405.6,1650.1 406,1665.7 406.3,1684.1 406.7,1702.4 406.9,1708.2 407,1698.6 407.4,1668 407.7,1654.7 408.1,1651.7 408.4,1657.1 408.8,1674.5 409.1,1713.5 409.2,1715.5 409.5,1697.5 409.8,1672.6 410.2,1652.3 410.5,1635.9 410.9,1622.9 411.2,1612.7 411.6,1605.5 411.9,1601.4 412.3,1600.4 412.6,1602.1 413,1606.1 413.3,1612.3 413.7,1620.6 414,1630.9 414.4,1642.7 414.7,1654.5 415.1,1662.8 415.2,1663.9 415.4,1662.1 415.8,1654.3 416.1,1647 416.5,1641.9 416.8,1639 417.2,1637.6 417.5,1637.5 417.9,1638.2 418.2,1640 418.6,1642.6 418.9,1644.9 419.3,1643.5 419.4,1641.8 419.6,1637.7 420,1630 420.3,1620.7 420.7,1610.7 421,1600.8 421.4,1591.7 421.7,1583.8 422.1,1577.2 422.4,1572.3 422.8,1569.2 423.1,1568.1 423.5,1569.3 423.8,1572.9 424.2,1578.6 424.5,1586.4 424.9,1596.3 425.2,1608.1 425.6,1622.1 425.9,1638.4 426.3,1657.6 426.6,1679.9 427,1701.2 427,1701.2 427.3,1685.4 427.7,1668.7 428,1659.5 428.4,1654.6 428.7,1652.3 429.1,1651.8 429.4,1653.7 429.8,1658.9 430.1,1668.2 430.5,1683.4 430.8,1706.7 431.1,1718.5 431.2,1714.5 431.5,1683.5 431.9,1663.2 432.2,1651.7 432.6,1646.1 432.9,1645.1 433.3,1647.4 433.6,1654.5 434,1670.5 434.3,1698.8 434.4,1699.3 434.7,1683.1 435,1658.3 435.4,1635.6 435.7,1615.7 436.1,1598.2 436.4,1582.8 436.8,1569.4 437.1,1558 437.5,1548.7 437.8,1541.7 438.2,1537.2 438.5,1535.2 438.9,1536.3 439.2,1540.3 439.6,1547 439.9,1556.1 440.3,1567.4 440.6,1580.6 441,1595.5 441.3,1612 441.7,1629.5 442,1647.4 442.4,1663.8 442.7,1675.9 442.8,1677.1 443.1,1674.2 443.4,1663.6 443.8,1656.9 444.1,1653.7 444.5,1652.9 444.8,1655.2 445.2,1661.9 445.5,1674.4 445.9,1693.7 446.2,1704.5 446.2,1703.3 446.6,1689 446.9,1673.3 447.3,1661.1 447.6,1652.2 448,1646 448.3,1642.1 448.7,1640.1 449,1638.9 449.4,1638.4 449.7,1638.8 450.1,1640.4 450.4,1641.9 450.8,1639.4 450.9,1637.1 451.1,1629.9 451.5,1617.6 451.8,1603.9 452.2,1590 452.5,1576.6 452.9,1564.3 453.2,1553.2 453.6,1543.7 453.9,1535.8 454.3,1529.8 454.6,1525.7 455,1523.8 455.3,1524.3 455.7,1527.4 456,1532.8 456.4,1540.4 456.7,1549.9 457.1,1561 457.4,1573.4 457.8,1586.9 458.1,1600.8 458.5,1614.6 458.8,1627.4 459.2,1638.4 459.3,1641 459.5,1646.2 459.9,1648.8 460.2,1649.1 460.6,1649.1 460.9,1649.3 461.3,1649.6 461.6,1649.8 462,1650.9 462.3,1653.7 462.7,1658.3 463,1664.7 463.4,1672 463.7,1677.6 463.9,1678.3 464.1,1675.9 464.4,1661.8 464.8,1649.6 465.1,1643.6 465.5,1643.5 465.8,1649.4 466.2,1664.1 466.5,1687.2 466.6,1688.4 466.9,1678.3 467.2,1661.9 467.6,1645.6 467.9,1630.7 468.3,1617.7 468.6,1606.5 469,1597.1 469.3,1589.6 469.7,1584 470,1580.5 470.4,1579.1 470.7,1580.1 471.1,1583.2 471.4,1588.2 471.8,1595 472.1,1603.4 472.5,1613.1 472.8,1623.9 473.2,1635.2 473.5,1646.2 473.9,1655.5 474.2,1660.9 474.2,1661.8 474.6,1660 474.9,1653.4 475.3,1648.5 475.6,1646.1 476,1646.2 476.3,1649.6 476.7,1657.3 477,1670.5 477.4,1690.5 477.7,1704.9 477.7,1703.9 478.1,1683 478.4,1665.2 478.8,1655 479.1,1650.4 479.5,1650.6 479.8,1655.3 480.2,1665.2 480.5,1680.1 480.9,1690.2 480.9,1690.1 481.2,1672 481.6,1653.7 481.9,1645.7 482.3,1646.4 482.6,1655.1 483,1671.7 483.2,1676.2 483.3,1674.4 483.7,1665.9 484,1654.3 484.4,1642.4 484.7,1631.7 485.1,1622.8 485.4,1615.7 485.8,1610.7 486.1,1607.9 486.5,1607.6 486.8,1609.2 487.2,1612.6 487.5,1617.9 487.9,1625.2 488.2,1635 488.6,1647.9 488.9,1665 489.3,1687.3 489.6,1704.4 489.6,1701.2 490,1673.5 490.3,1656.2 490.7,1646.4 491,1641 491.4,1638.9 491.7,1639.1 492.1,1641.8 492.4,1646.9 492.8,1654.3 493.1,1663.3 493.5,1672.2 493.8,1676.9 493.9,1677 494.2,1673.2 494.5,1662.3 494.9,1655.6 495.2,1654.7 495.6,1659.6 495.9,1671.3 496.3,1687.7 496.4,1689.3 496.6,1683.5 497,1671.2 497.3,1657.6 497.7,1644.9 498,1633.7 498.4,1624.5 498.7,1617.3 499.1,1612.3 499.4,1609.7 499.8,1609.5 500.1,1611.1 500.5,1614.3 500.8,1618.9 501.2,1624.9 501.5,1632.1 501.9,1640 502.2,1647.6 502.6,1653.4 502.8,1655.4 502.9,1656.9 503.3,1656.5 503.6,1653.2 504,1649.8 504.3,1647.5 504.7,1646.5 505,1646.9 505.4,1648.7 505.7,1652.4 506.1,1658.2 506.4,1666.6 506.8,1678.8 507.1,1696.9 507.5,1726.4 507.7,1748.1 507.8,1728.6 508.2,1690.5 508.5,1672.8 508.9,1664.5 509.2,1662.4 509.6,1665.7 509.9,1674.8 510.3,1690.8 510.6,1712.1 510.8,1716.5 511,1714 511.3,1701.8 511.7,1690.1 512,1681.4 512.4,1675.7 512.7,1672.3 513.1,1670.9 513.4,1671.3 513.8,1673.5 514.1,1677.7 514.5,1684.1 514.8,1692.7 515.2,1701.4 515.5,1704.3 515.5,1704 515.9,1692.4 516.2,1677.9 516.6,1667.7 516.9,1662 517.3,1660.4 517.6,1662.6 518,1668.6 518.3,1678 518.7,1688.4 519,1691.8 519,1691.8 519.4,1684.2 519.7,1673.6 520.1,1666.4 520.4,1663.4 520.8,1664.9 521.1,1671.7 521.5,1684.8 521.8,1706.5 522.2,1731.3 522.2,1731.6 522.5,1712.5 522.9,1693.5 523.2,1683.3 523.6,1678.9 523.9,1679.1 524.3,1684.4 524.6,1695.6 525,1712.4 525.3,1721.2 525.3,1720.5 525.7,1707.8 526,1693.6 526.4,1683.7 526.7,1678 527.1,1675.8 527.4,1676.9 527.8,1681 528.1,1688.2 528.5,1697.3 528.8,1703.3 528.9,1703.3 529.2,1700.8 529.5,1693.5 529.9,1685.3 530.2,1678.6 530.6,1673.9 530.9,1671.3 531.3,1670.8 531.6,1672.4 532,1676.2 532.3,1682 532.7,1689.5 533,1697.1 533.4,1701.8 533.5,1702 533.7,1700.9 534.1,1694.8 534.4,1687.9 534.8,1682.7 535.1,1679.7 535.5,1679 535.8,1680.7 536.2,1685.2 536.5,1692.8 536.9,1704 537.2,1717.4 537.5,1723.4 537.6,1723 537.9,1715 538.3,1703.4 538.6,1693.6 539,1686.4 539.3,1681.7 539.7,1679.2 540,1678.8 540.4,1680.4 540.7,1684.1 541.1,1690.5 541.4,1700.3 541.8,1714.2 542.1,1728.9 542.3,1730.8 542.5,1721.2 542.8,1698.3 543.2,1682.9 543.5,1674.1 543.9,1670.3 544.2,1671 544.6,1676.4 544.9,1687.1 545.3,1704.2 545.6,1723.7 545.8,1725.6 546,1719.6 546.3,1702.2 546.7,1689.5 547,1682 547.4,1678.5 547.7,1678.6 548.1,1682.3 548.4,1690.5 548.8,1705.5 549.1,1733.9 549.4,1764.8 549.5,1759.9 549.8,1717.3 550.2,1694.1 550.5,1681.3 550.9,1674.8 551.2,1673.1 551.6,1676.1 551.9,1684.3 552.3,1699.6 552.6,1727.9 553,1766.6 553,1766.4 553.3,1737.1 553.7,1714.3 554,1700.5 554.4,1691.8 554.7,1686.4 555.1,1683.4 555.4,1682.3 555.8,1683.2 556.1,1686.1 556.5,1691.5 556.8,1700.1 557.2,1713.4 557.5,1735.3 557.9,1769.1 558,1772.1 558.2,1747.8 558.6,1718.5 558.9,1700.8 559.3,1689.2 559.6,1681.6 560,1677 560.3,1674.8 560.7,1675 561,1677.3 561.4,1682.3 561.7,1690.4 562.1,1702.9 562.4,1722.4 562.8,1747.4 562.9,1749.7 563.1,1728.2 563.5,1700.2 563.8,1684.2 564.2,1675 564.5,1670.6 564.9,1670.1 565.2,1674 565.6,1682.6 565.9,1696.5 566.3,1715.1 566.6,1725.4 566.6,1725.5 567,1715.1 567.3,1701.7 567.7,1692.5 568,1687.1 568.4,1684.7 568.7,1685 569.1,1688.4 569.4,1695.3 569.8,1706.8 570.1,1723.2 570.5,1735.2 570.5,1735.2 570.8,1720.4 571.2,1702.2 571.5,1690 571.9,1682.9 572.2,1680.1 572.6,1681 572.9,1685.8 573.3,1694.7 573.6,1708.1 574,1721.8 574.1,1723.6 574.3,1721.2 574.7,1710.2 575,1699 575.4,1690.5 575.7,1684.9 576.1,1681.8 576.4,1681 576.8,1682.4 577.1,1686 577.5,1692.2 577.8,1701.2 578.2,1712.6 578.5,1721.7 578.7,1722.2 578.9,1713.2 579.2,1695.3 579.6,1683 579.9,1676.5 580.3,1675.1 580.6,1678.4 581,1686.1 581.3,1697 581.7,1703.9 581.7,1704 582,1701.9 582.4,1693.1 582.7,1685.7 583.1,1682 583.4,1682.3 583.8,1687.1 584.1,1697.8 584.5,1718.4 584.8,1756.9 584.9,1760.1 585.2,1730.1 585.5,1704.9 585.9,1689.9 586.2,1680.9 586.6,1676.5 586.9,1675.9 587.3,1678.7 587.6,1684.9 588,1694.3 588.3,1705.2 588.7,1710.1 588.7,1710"/>
<path fill="none" stroke="#56b4e9" stroke-width="2" stroke-linejoin="round" d="M792.2,1472.6 792.6,1466.4 792.9,1462.9 793.3,1461.8 793.6,1463.1 794,1466.5 794.3,1472.2 794.7,1480.2 795,1489.9 795.4,1499.7 795.7,1505.1 795.7,1505.1 796.1,1504.1 796.4,1499.4 796.8,1494.2 797.1,1490.3 797.5,1488 797.8,1487.5 798.2,1488.7 798.5,1491.8 798.9,1496.9 799.2,1504 799.6,1513 799.9,1523.6 800.3,1534.3 800.6,1541.6 800.7,1542.3 801,1541.9 801.3,1535.6 801.7,1528.8 802,1524 802.4,1521.3 802.7,1520.6 803.1,1521.3 803.4,1523.3 803.8,1527.1 804.1,1533.7 804.5,1541.8 804.7,1543.1 804.8,1541 805.2,1528.1 805.5,1511.3 805.9,1495.3 806.2,1481.5 806.6,1470.3 806.9,1461.9 807.3,1456.3 807.6,1453.9 808,1454.9 808.3,1459.2 808.7,1466.9 809,1477.9 809.4,1492.5 809.7,1511.3 810.1,1536.6 810.4,1574.9 810.7,1639.7 810.8,1624.1 811.1,1568.4 811.5,1551.3 811.8,1544.3 812.2,1541.8 812.5,1541.6 812.9,1542.9 813.2,1545.9 813.6,1551.5 813.9,1560.1 814.3,1572 814.6,1586.7 815,1597.7 815,1598.1 815.3,1583.1 815.7,1562 816,1555.9 816.4,1563.1 816.7,1590.4 817,1742.7 817.1,1704 817.4,1630.9 817.8,1604.6 818.1,1588.5 818.5,1577.2 818.8,1568.8 819.2,1562.6 819.5,1558 819.9,1554.7 820.2,1552.8 820.6,1552 820.9,1552.4 821.3,1554.2 821.6,1557.4 822,1562.2 822.3,1568.7 822.7,1577 823,1587.3 823.4,1599.2 823.7,1610.4 824,1614.9 824.1,1614.5 824.4,1600.4 824.8,1585.6 825.1,1576.4 825.5,1571.6 825.8,1570.4 826.2,1572.4 826.5,1577.9 826.9,1587.2 827.2,1600.2 827.6,1615.2 827.8,1622 827.9,1622.1 828.3,1613.2 828.6,1601.2 829,1593.1 829.3,1589 829.7,1588.2 830,1591.1 830.4,1598.3 830.7,1610.8 831.1,1628.3 831.3,1635.9 831.4,1635.6 831.8,1628.4 832.1,1617.3 832.5,1607 832.8,1598.9 833.2,1592.7 833.5,1588.3 833.9,1585.6 834.2,1584.5 834.6,1585.2 834.9,1588 835.3,1593 835.6,1600.4 836,1610.7 836.3,1624.7 836.7,1644.5 837,1675.9 837.3,1716.7 837.4,1710.3 837.7,1652 838.1,1630.3 838.4,1620.6 838.8,1617.2 839.1,1618.6 839.5,1624.8 839.8,1637 840.2,1658.5 840.5,1698.4 840.6,1711.2 840.9,1695.4 841.2,1665.5 841.6,1649.2 841.9,1640.1 842.3,1635.6 842.6,1634.6 843,1636.9 843.3,1642.7 843.7,1653 844,1670.1 844.4,1700.6 844.6,1731.3 844.7,1726.8 845.1,1684.2 845.4,1661.7 845.8,1649.6 846.1,1643.2 846.5,1641.1 846.8,1642.5 847.2,1647.4 847.5,1657.4 847.9,1676.1 848.2,1707.3 848.3,1710.5 848.6,1688.9 848.9,1658.8 849.3,1641.4 849.6,1631.8 850,1628.6 850.3,1631.4 850.7,1639.5 851,1653 851.4,1673.7 851.7,1709.8 852,1801.1 852.1,1749.8 852.4,1665.3 852.8,1650 853.1,1658.7 853.5,1711.7 853.5,1726.5 853.8,1702.3 854.2,1670.4 854.5,1650.4 854.9,1637.6 855.2,1630 855.6,1627.2 855.9,1628.7 856.3,1634.6 856.6,1645.4 857,1663 857.3,1694.2 857.7,1794.7 857.7,1798.3 858,1694.4 858.4,1668.6 858.7,1656.2 859.1,1650.1 859.4,1647.9 859.8,1648.7 860.1,1652.6 860.5,1660.7 860.8,1674 861.2,1686.2 861.2,1685.9 861.5,1672.8 861.9,1649.6 862.2,1635.4 862.6,1629.5 862.9,1630.9 863.3,1639.7 863.6,1659.3 864,1706.1 864.1,1756.7 864.3,1704.9 864.7,1665.3 865,1648.4 865.4,1640.2 865.7,1637.5 866.1,1639.4 866.4,1646.5 866.8,1660.1 867.1,1681.2 867.3,1688.5 867.5,1686 867.8,1668.4 868.2,1652.1 868.5,1640.9 868.9,1634 869.2,1630.6 869.6,1630.5 869.9,1634.2 870.3,1642 870.6,1654.2 871,1671 871.3,1688.5 871.4,1691.8 871.7,1689.9 872,1677.5 872.4,1666.8 872.7,1660.1 873.1,1656.6 873.4,1655.5 873.8,1656.9 874.1,1661.6 874.5,1670.2 874.8,1684.1 875.2,1704.8 875.4,1718.8 875.5,1717.9 875.9,1697.2 876.2,1678.6 876.6,1666.7 876.9,1659.7 877.3,1656.4 877.6,1656.2 878,1658.3 878.3,1663 878.7,1671 879,1681.5 879.4,1686.8 879.4,1686.5 879.7,1675.4 880.1,1657.4 880.4,1645 880.8,1638.8 881.1,1638.7 881.5,1644.5 881.8,1657.8 882.2,1683.8 882.5,1763.7 882.5,1806.4 882.9,1702.7 883.2,1673.2 883.6,1659.6 883.9,1653.2 884.3,1651.4 884.6,1653.9 885,1661.5 885.3,1676.1 885.7,1701.5 885.9,1714.8 886,1710.4 886.4,1683.2 886.7,1664 887.1,1652.4 887.4,1646.2 887.8,1644.3 888.1,1646.5 888.5,1653.1 888.8,1664.5 889.2,1681.2 889.5,1695.3 889.6,1695.7 889.9,1681.7 890.2,1662.9 890.6,1653.2 890.9,1650.9 891.3,1655.2 891.6,1666.7 892,1684.5 892.2,1691.2 892.3,1690.4 892.7,1679 893,1666.8 893.4,1658.6 893.7,1654.4 894.1,1654 894.4,1656.7 894.8,1663.1 895.1,1673.5 895.5,1685.8 895.7,1688.4 895.8,1680.3 896.2,1651.8 896.5,1644.5 896.9,1658.4 897.2,1691.6 897.2,1691.6 897.6,1685.5 897.9,1674 898.3,1661.9 898.6,1651.2 899,1642.3 899.3,1635 899.7,1629.5 900,1625.5 900.4,1623.1 900.7,1622.3 901.1,1623.6 901.4,1627.2 901.8,1632.9 902.1,1640.8 902.5,1650.8 902.8,1663.1 903.2,1678 903.5,1696.3 903.9,1717.7 904.2,1734.1 904.2,1734.1 904.6,1706.6 904.9,1685.8 905.3,1675.9 905.6,1672.2 906,1673.3 906.3,1680 906.7,1695.1 907,1730.2 907.2,1765.2 907.4,1749.4 907.7,1705.4 908.1,1682 908.4,1667.8 908.8,1659.5 909.1,1655.7 909.5,1656.1 909.8,1660.3 910.2,1668.8 910.5,1683.4 910.9,1709.9 911.2,1790.2 911.3,1828 911.6,1708.8 911.9,1677.3 912.3,1664.5 912.6,1660.8 913,1664.6 913.3,1677.5 913.7,1709.4 913.9,1808.5 914,1769.6 914.4,1701.2 914.7,1675.9 915.1,1661.9 915.4,1654.3 915.8,1651.4 916.1,1652.6 916.5,1657.8 916.8,1667.5 917.2,1683 917.5,1701.1 917.7,1703.6 917.9,1699.8 918.2,1682.8 918.6,1668.4 918.9,1659 919.3,1653.6 919.6,1651.5 920,1652.6 920.3,1657.2 920.7,1666 921,1680.9 921.4,1707.4 921.7,1754.9 921.7,1755.3 922.1,1700 922.4,1673.3 922.8,1661.1 923.1,1656.8 923.5,1658.8 923.8,1667.6 924.2,1686.8 924.5,1734.6 924.7,1815 924.9,1739.5 925.2,1697.7 925.6,1678.6 925.9,1667.7 926.3,1661.7 926.6,1659.4 927,1660.2 927.3,1664.6 927.7,1672.4 928,1684.1 928.4,1698.8 928.7,1710 928.8,1710.7 929.1,1708.9 929.4,1698.8 929.8,1689.3 930.1,1682.9 930.5,1679.4 930.8,1678.2 931.2,1679.7 931.5,1684.4 931.9,1693.1 932.2,1708 932.6,1735.4 932.9,1838 932.9,1838 933.3,1739.3 933.6,1710.4 934,1695 934.3,1685.9 934.7,1680.9 935,1679.2 935.4,1679.8 935.7,1682.3 936.1,1687.5 936.4,1697.2 936.8,1714 937.1,1727.7 937.1,1727.7 937.5,1713.1 937.8,1691.6 938.2,1672.6 938.5,1656.8 938.9,1643.9 939.2,1633.4 939.6,1625.2 939.9,1619.3 940.3,1615.7 940.6,1614.4 941,1615.9 941.3,1619.8 941.7,1626.3 942,1635.1 942.4,1646.2 942.7,1660.1 943.1,1677.3 943.4,1699.8 943.8,1733.2 944.1,1788.7 944.1,1788.7 944.5,1702.6 944.8,1679.4 945.2,1670.3 945.5,1668.6 945.9,1674.1 946.2,1689.2 946.6,1718.1 946.7,1728.8 946.9,1724.4 947.3,1702.3 947.6,1685.8 948,1675.6 948.3,1670.1 948.7,1668.4 949,1670.4 949.4,1676.7 949.7,1688.3 950.1,1708.5 950.4,1748.9 950.6,1774.9 950.8,1737.7 951.1,1696.8 951.5,1680.8 951.8,1675.7 952.2,1678.6 952.5,1690.6 952.9,1717.5 953.2,1763.3 953.2,1762.7 953.6,1724.2 953.9,1701.1 954.3,1688.8 954.6,1682.4 955,1680.4 955.3,1681.8 955.7,1686.7 956,1695.8 956.4,1708.4 956.7,1713.9 956.7,1713.8 957.1,1701.9 957.4,1685.1 957.8,1673.4 958.1,1667.1 958.5,1666 958.8,1670.4 959.2,1680.8 959.5,1700.1 959.9,1739.7 960.1,1800.2 960.2,1759.5 960.6,1709.8 960.9,1691.4 961.3,1683.2 961.6,1681.3 962,1684.8 962.3,1695.2 962.7,1718.6 963,1797.5 963,1812.7 963.4,1729.1 963.7,1696.1 964.1,1679.8 964.4,1671.8 964.8,1670 965.1,1673.8 965.5,1683.7 965.8,1702.9 966.2,1739.2 966.3,1752.3 966.5,1740.1 966.9,1711.1 967.2,1693.8 967.6,1683.6 967.9,1677.8 968.3,1675.4 968.6,1676 969,1679.6 969.3,1686.6 969.7,1698 970,1715.7 970.4,1740.3 970.5,1746.8 970.7,1738.6 971.1,1710.8 971.4,1693.8 971.8,1684.6 972.1,1680.7 972.5,1681.3 972.8,1686.4 973.2,1697.4 973.5,1719.5 973.9,1782.5 973.9,1837.9 974.2,1737.3 974.6,1700.9 974.9,1684 975.3,1675.9 975.6,1674.1 976,1678 976.3,1688.5 976.7,1708.2 977,1738.8 977.1,1743.4 977.4,1724.9 977.7,1696.7 978.1,1683.7 978.4,1679.8 978.8,1683.1 979.1,1695 979.5,1726.6 979.7,1817.7 979.8,1793.4 980.2,1734.5 980.5,1704.8 980.9,1684 981.2,1667.8 981.6,1654.8 981.9,1644.3 982.3,1636.2 982.6,1630.5 983,1627.2 983.3,1626.6 983.7,1628.3 984,1632.2 984.4,1638.1 984.7,1646.1 985.1,1656.4 985.4,1669.2 985.8,1685 986.1,1704.3 986.5,1725.4 986.7,1734.1 986.8,1732.9 987.2,1713.8 987.5,1698.9 987.9,1690 988.2,1684.9 988.6,1682.1 988.9,1681.1 989.3,1681.6 989.6,1684 990,1689 990.3,1697.3 990.7,1710.4 991,1729.4 991.3,1739.2 991.4,1737.7 991.7,1714.3 992.1,1693.5 992.4,1679.9 992.8,1671.3 993.1,1666.8 993.5,1665.8 993.8,1668 994.2,1673.5 994.5,1683.1 994.9,1698.2 995.2,1720.2 995.5,1730.9 995.6,1728.6 995.9,1710.5 996.3,1693.9 996.6,1682.3 997,1674.3 997.3,1669.1 997.7,1666.2 998,1665.3 998.4,1666.3 998.7,1669.2 999.1,1674.2 999.4,1681.4 999.8,1690.6 1000.1,1700.2 1000.5,1705.3 1000.5,1705.3 1000.8,1700.4 1001.2,1688.3 1001.5,1678 1001.9,1671.3 1002.2,1667.9 1002.6,1667.6 1002.9,1670.5 1003.3,1676.9 1003.6,1687.8 1004,1704.1 1004.3,1722.5 1004.4,1724.7 1004.7,1715.5 1005,1694.2 1005.4,1680.5 1005.7,1673.2 1006.1,1671.2 1006.4,1673.9 1006.8,1682.2 1007.1,1698.7 1007.5,1734.5 1007.7,1837.5 1007.8,1784.2 1008.2,1731.8 1008.5,1709.2 1008.9,1695.3 1009.2,1685.8 1009.6,1679.2 1009.9,1674.6 1010.3,1671.8 1010.6,1670.5 1011,1670.6 1011.3,1672.1 1011.7,1674.9 1012,1679 1012.4,1684.7 1012.7,1691.7 1013.1,1699.4 1013.4,1705.3 1013.7,1706.3 1013.8,1706.3 1014.1,1699.9 1014.5,1689.4 1014.8,1680.2 1015.2,1673.7 1015.5,1669.7 1015.9,1668.2 1016.2,1669.1 1016.6,1672.6 1016.9,1679.2 1017.3,1689.7 1017.6,1706.3 1018,1733.5 1018.2,1755.3 1018.3,1750.8 1018.7,1719.5 1019,1699.1 1019.4,1686.7 1019.7,1679.1 1020.1,1674.9 1020.4,1673.5 1020.8,1674.8 1021.1,1678.9 1021.5,1686.3 1021.8,1697.6 1022.2,1714.9 1022.5,1739 1022.7,1748.3 1022.9,1741.4 1023.2,1715.4 1023.6,1698.5 1023.9,1688.6 1024.3,1683.3 1024.6,1681.5 1025,1683 1025.3,1687.6 1025.7,1695.6 1026,1706.8 1026.4,1718.5 1026.6,1722.6 1026.7,1722.5 1027.1,1714 1027.4,1702.5 1027.8,1694.4 1028.1,1690.3 1028.5,1689.7 1028.8,1692.6 1029.2,1699.4 1029.5,1710.7 1029.9,1724.3 1030,1727.6 1030.2,1726.6 1030.6,1718.4 1030.9,1707.2 1031.3,1696.9 1031.6,1688.8 1032,1682.8 1032.3,1679 1032.7,1677.3 1033,1677.6 1033.4,1679.7 1033.7,1683.8 1034.1,1690.1 1034.4,1699.6 1034.8,1713.7 1035.1,1736.8 1035.5,1789.2 1035.5,1817.3 1035.8,1740.1 1036.2,1707.1 1036.5,1690.9 1036.9,1682.2 1037.2,1678.4 1037.6,1678.6 1037.9,1682.7 1038.3,1690.9 1038.6,1703.2 1039,1715.4 1039.1,1716.8 1039.3,1716 1039.7,1709.1 1040,1700 1040.4,1692.1 1040.7,1686 1041.1,1681.9 1041.4,1679.6 1041.8,1679.1 1042.1,1680.3 1042.5,1683.5 1042.8,1688.8 1043.2,1696.5 1043.5,1707.2 1043.9,1721.2 1044.2,1736.7 1044.4,1742 1044.6,1740.5 1044.9,1724.1 1045.3,1708.9 1045.6,1698.8 1046,1692.7 1046.3,1689.7 1046.7,1689.5 1047,1692.3 1047.4,1698.5 1047.7,1709.2 1048.1,1727.5 1048.4,1764 1048.6,1819.5 1048.8,1788 1049.1,1743.8 1049.5,1722.5 1049.8,1709.2 1050.2,1700.2 1050.5,1694.1 1050.9,1690.2 1051.2,1688.1 1051.6,1687.7 1051.9,1688.7 1052.3,1691.1 1052.6,1695.1 1053,1700.5 1053.3,1707.2 1053.7,1713.9 1054,1717.8 1054.2,1717.7 1054.4,1716.1 1054.7,1705.6 1055.1,1694.3 1055.4,1686.1 1055.8,1681.5 1056.1,1680.3 1056.5,1681.8 1056.8,1686.2 1057.2,1695 1057.5,1709 1057.8,1717.4 1057.9,1716.7 1058.2,1706.4 1058.6,1691.1 1058.9,1676 1059.3,1662.6 1059.6,1651.2 1060,1641.9 1060.3,1634.7 1060.7,1629.5 1061,1626.5 1061.4,1625.7 1061.7,1626.8 1062.1,1629.5 1062.4,1633.8 1062.8,1639.8 1063.1,1647.7 1063.5,1658.1 1063.8,1671.6 1064.2,1690 1064.5,1716 1064.8,1737.8 1064.9,1731.9 1065.2,1693.4 1065.6,1673.8 1065.9,1662.9 1066.3,1656.8 1066.6,1654 1067,1653.7 1067.3,1655.9 1067.7,1660.5 1068,1667.5 1068.4,1676.4 1068.7,1685.5 1069.1,1690 1069.1,1690 1069.4,1679.2 1069.8,1664.5 1070.1,1660.6 1070.5,1666.6 1070.8,1680.9 1071,1684.6 1071.2,1682.3 1071.5,1674.4 1071.9,1663.8 1072.2,1651.7 1072.6,1638.9 1072.9,1626.4 1073.3,1614.7 1073.6,1604.4 1074,1595.9 1074.3,1589.6 1074.7,1585.8 1075,1584.8 1075.4,1585.3 1075.7,1587.3 1076.1,1590.6 1076.4,1595 1076.8,1600.7 1077.1,1607.6 1077.5,1615.5 1077.8,1624.7 1078.2,1635.1 1078.5,1647 1078.9,1660.8 1079.2,1677.2 1079.6,1698.3 1079.9,1730 1080.2,1816.8 1080.3,1782.4 1080.6,1702.2 1081,1679.2 1081.3,1667.6 1081.7,1661.7 1082,1660 1082.4,1661.9 1082.7,1667.3 1083.1,1676.8 1083.4,1692.1 1083.8,1717.2 1084.1,1749.4 1084.1,1749.6 1084.5,1703.3 1084.8,1679.1 1085.2,1669.7 1085.5,1669.1 1085.9,1675.2 1086.2,1688.7 1086.5,1694.8 1086.6,1693.7 1086.9,1683.3 1087.3,1668.7 1087.6,1652.2 1088,1635.3 1088.3,1619 1088.7,1603.8 1089,1590.1 1089.4,1578.2 1089.7,1568.5 1090.1,1561.4 1090.4,1557 1090.8,1555.9 1091.1,1557.3 1091.5,1560.6 1091.8,1565.8 1092.2,1572.7 1092.5,1581.4 1092.9,1591.8 1093.2,1603.9 1093.6,1617.7 1093.9,1633.4 1094.3,1650.6 1094.6,1667.6 1094.9,1678 1095,1678.3 1095.3,1669.4 1095.7,1659 1096,1652.9 1096.4,1650 1096.7,1649.3 1097.1,1650.3 1097.4,1652.5 1097.8,1656.8 1098.1,1663.4 1098.5,1672.5 1098.8,1684 1099.2,1696.8 1099.5,1705.4 1099.6,1705.8 1099.9,1701.9 1100.2,1689.1 1100.6,1678.9 1100.9,1672.8 1101.3,1670.6 1101.6,1671.3 1102,1674.1 1102.3,1680.7 1102.7,1695.4 1103,1736.4 1103.1,1756.6 1103.4,1732.5 1103.7,1693.9 1104.1,1664.8 1104.4,1641.1 1104.8,1620.9 1105.1,1603.2 1105.5,1587.9 1105.8,1574.8 1106.2,1564 1106.5,1555.8 1106.9,1550.3 1107.2,1547.8 1107.6,1548.4 1107.9,1551.7 1108.3,1557.4 1108.6,1565.5 1109,1575.8 1109.3,1588.3 1109.7,1602.9 1110,1619.9 1110.4,1640 1110.7,1664.3 1111.1,1696.6 1111.4,1742.7 1111.5,1751 1111.8,1699.5 1112.1,1674.8 1112.5,1664.5 1112.8,1659.9 1113.2,1658.2 1113.5,1658.2 1113.9,1660.3 1114.2,1665.4 1114.6,1673.4 1114.9,1683.6 1115.3,1692.3 1115.5,1693.5 1115.6,1693.5 1116,1687.8 1116.3,1679.2 1116.7,1672 1117,1667.1 1117.4,1664.7 1117.7,1664.7 1118.1,1666.3 1118.4,1669.8 1118.8,1676.3 1119.1,1687.2 1119.5,1704.6 1119.7,1715 1119.8,1712.1 1120.2,1695.4 1120.5,1677 1120.9,1660.8 1121.2,1646.9 1121.6,1635.2 1121.9,1625.5 1122.3,1617.6 1122.6,1611.5 1123,1607.2 1123.3,1604.9 1123.7,1604.6 1124,1606.1 1124.4,1609.3 1124.7,1614 1125.1,1620.2 1125.4,1627.9 1125.8,1636.9 1126.1,1647 1126.5,1657.6 1126.8,1667.6 1127.2,1675 1127.3,1676.9 1127.5,1678.4 1127.9,1675.2 1128.2,1669.8 1128.6,1665.2 1128.9,1662 1129.3,1660 1129.6,1659.1 1130,1659.1 1130.3,1660.7 1130.7,1664.2 1131,1669.9 1131.4,1678.3 1131.7,1689.9 1132.1,1704.4 1132.4,1714.4 1132.4,1714.4 1132.8,1706.1 1133.1,1691.1 1133.5,1678.8 1133.8,1670.1 1134.2,1664.3 1134.5,1661 1134.9,1659.9 1135.2,1661 1135.6,1664.6 1135.9,1671 1136.3,1680.9 1136.6,1695.9 1137,1719.7 1137.3,1755.6 1137.4,1758.4 1137.7,1733.9 1138,1707.3 1138.4,1691.7 1138.7,1681.9 1139.1,1675.7 1139.4,1672.1 1139.8,1670.7 1140.1,1671.1 1140.5,1673.5 1140.8,1678.2 1141.2,1685.8 1141.5,1697.8 1141.9,1717.3 1142.2,1748.3 1142.3,1754.7 1142.6,1731.7 1142.9,1701.1 1143.3,1683 1143.6,1671.4 1144,1664.2 1144.3,1660.3 1144.7,1659.2 1145,1660.7 1145.4,1664.6 1145.7,1671.2 1146.1,1680.4 1146.4,1690.8 1146.8,1696.7 1146.8,1696.6 1147.1,1692.2 1147.5,1680.5 1147.8,1670.3 1148.2,1663.4 1148.5,1659.8 1148.9,1659.2 1149.2,1662.1 1149.6,1668.6 1149.9,1679.3 1150.3,1694.7 1150.6,1711.3 1150.7,1714.3 1151,1712.4 1151.3,1701.8 1151.7,1691.2 1152,1683.2 1152.4,1677.9 1152.7,1674.7 1153.1,1673.4 1153.4,1673.8 1153.8,1676.2 1154.1,1680.9 1154.5,1688.4 1154.8,1699.3 1155.2,1714 1155.5,1728.4 1155.6,1730.1 1155.9,1721.6 1156.2,1701 1156.6,1686.6 1156.9,1677.9 1157.3,1673.7 1157.6,1673.5 1158,1677.3 1158.3,1685.8 1158.7,1699.8 1159,1719.7 1159.3,1730.8 1159.4,1731 1159.7,1722.5 1160.1,1710.1 1160.4,1700.3 1160.8,1693.6 1161.1,1689.3 1161.5,1687 1161.8,1686.4 1162.2,1687.3 1162.5,1689.9 1162.9,1694.5 1163.2,1702 1163.6,1714.1 1163.9,1733.9 1164.3,1760.2 1164.3,1761.2 1164.6,1737.7 1165,1710.2 1165.3,1692.5 1165.7,1680.6 1166,1672.7 1166.4,1668.1 1166.7,1666.5 1167.1,1667.6 1167.4,1671.6 1167.8,1678.6 1168.1,1689.5 1168.5,1706.1 1168.8,1733.1 1169.2,1772.3 1169.2,1772.7 1169.5,1733.2 1169.9,1708 1170.2,1694.2 1170.6,1686 1170.9,1681.5 1171.3,1679.7 1171.6,1680.4 1172,1683.8 1172.3,1690.4 1172.7,1700.6 1173,1714.4 1173.4,1726.1 1173.5,1726.6 1173.7,1723.5 1174.1,1712.2 1174.4,1700.8 1174.8,1691.8 1175.1,1685.3 1175.5,1681 1175.8,1678.6 1176.2,1678.1 1176.5,1679.5 1176.9,1682.8 1177.2,1688.4 1177.6,1696.5 1177.9,1707.9 1178.3,1722.8 1178.6,1736.6 1178.7,1738.2 1179,1728 1179.3,1708.4 1179.7,1694.8 1180,1686.4 1180.4,1682.1 1180.7,1681 1181.1,1683.1 1181.4,1688.2 1181.8,1696.5 1182.1,1706.9 1182.5,1714.8 1182.6,1715.4 1182.8,1714.7 1183.2,1707.9 1183.5,1699.6 1183.9,1692.9 1184.2,1688.4 1184.6,1686.3 1184.9,1686.4 1185.3,1688.9 1185.6,1693.9 1186,1702.1 1186.3,1714.2 1186.7,1729.2 1186.9,1736.3 1187,1736 1187.4,1726.6 1187.7,1713.3 1188.1,1702.3 1188.4,1694.1 1188.8,1688.4 1189.1,1685 1189.5,1683.6 1189.8,1684.2 1190.2,1686.9 1190.5,1691.7 1190.9,1699.4 1191.2,1710.8 1191.6,1728.6 1191.9,1760.5 1192.2,1806 1192.3,1791.6 1192.6,1737.2 1193,1713.5 1193.3,1700.1 1193.7,1692.2 1194,1687.9 1194.4,1686.6 1194.7,1688.1 1195.1,1692.6 1195.4,1700.7 1195.8,1713.5 1196.1,1732.4 1196.5,1748.7 1196.5,1748.7 1196.8,1738 1197.2,1720.1 1197.5,1706.5 1197.9,1697.1 1198.2,1690.7 1198.6,1686.9 1198.9,1685.2 1199.3,1685.6 1199.6,1688.2 1200,1693.2 1200.3,1701 1200.7,1712.5 1201,1729 1201.4,1750.1 1201.5,1756.5 1201.7,1752.8 1202.1,1732 1202.4,1715.3 1202.8,1704.1 1203.1,1696.8 1203.5,1692.4 1203.8,1690.3 1204.2,1690.3 1204.5,1692.4 1204.9,1696.8 1205.2,1704 1205.6,1715.3 1205.9,1732.7 1206.3,1755.8 1206.4,1759.8 1206.6,1752.1 1207,1729.9 1207.3,1712.6 1207.7,1700.3 1208,1691.6 1208.4,1685.6 1208.7,1681.9 1209.1,1680.1 1209.4,1680.3 1209.8,1682.3 1210.1,1686.3 1210.5,1692.6 1210.8,1701.6 1211.2,1714.2 1211.5,1731.6 1211.9,1750.6 1212,1753.4 1212.2,1748.6 1212.6,1730.8 1212.9,1716 1213.3,1705.6 1213.6,1698.5 1214,1693.7 1214.3,1690.9 1214.7,1689.8 1215,1690.1 1215.4,1692.2 1215.7,1695.9 1216.1,1701.8 1216.4,1710.2 1216.8,1722.3 1217.1,1740.5 1217.5,1770 1217.7,1791.9 1217.8,1782.2 1218.2,1745.5 1218.5,1724.6 1218.9,1711.5 1219.2,1703 1219.6,1697.4 1219.9,1694.3 1220.3,1693.1 1220.6,1693.6 1221,1695.7 1221.3,1699.6 1221.7,1705.4 1222,1713.3 1222.4,1722.2 1222.7,1727.4 1222.8,1727.1 1223.1,1723.8 1223.4,1713.7 1223.8,1702.6 1224.1,1693.4 1224.5,1686.4 1224.8,1681.6 1225.2,1678.9 1225.5,1678.2 1225.9,1679.8 1226.2,1684 1226.6,1690.7 1226.9,1699.9 1227.3,1711.9 1227.6,1726 1228,1738.4 1228.1,1741.1 1228.3,1740.1 1228.7,1728.3 1229,1717.5 1229.4,1710.6 1229.7,1707.2 1230.1,1706.5 1230.4,1708.8 1230.8,1714.9 1231.1,1726.4 1231.5,1747.3 1231.8,1794.1 1231.9,1813.7 1232.2,1780.4 1232.5,1746.6 1232.9,1727.5 1233.2,1715.2 1233.6,1707 1233.9,1701.8 1234.3,1699.2 1234.6,1699 1235,1701 1235.3,1705.4 1235.7,1712.5 1236,1722.9 1236.4,1737.4 1236.7,1755.6 1237,1764.1 1237.1,1764.1 1237.4,1752.5 1237.8,1737.4 1238.1,1725.9 1238.5,1717.8 1238.8,1712.4 1239.2,1709.1 1239.5,1707.5 1239.9,1707.5 1240.2,1708.7 1240.6,1711.4"/>
<path fill="none" stroke="#009e73" stroke-width="2.2" d="M139.6,1437.3 141.1,1439.7 142.6,1444.9 144.1,1451.5 145.6,1458.4 147.1,1465.2 148.6,1471.6 150.1,1477.5 151.6,1483 153.1,1488 154.6,1492.7 156.1,1497 157.6,1501 159.1,1504.7 160.6,1508.2 162.1,1511.5 163.6,1514.6 165.1,1517.5 166.6,1520.2 168.1,1522.8 169.6,1525.3 171.1,1527.7 172.6,1529.9 174.1,1532.1 175.6,1534.2 177.1,1536.2 178.6,1538.1 180.1,1539.9 181.6,1541.7 183.1,1543.4 184.6,1545 186.1,1546.6 187.6,1548.2 189.1,1549.6 190.6,1551.1 192.1,1552.5 193.6,1553.9 195.1,1555.2 196.6,1556.5 198.1,1557.7 199.6,1558.9 201.1,1560.1 202.6,1561.3 204.1,1562.4 205.6,1563.5 207.1,1564.6 208.6,1565.6 210.1,1566.6 211.6,1567.6 213.1,1568.6 214.6,1569.6 216.1,1570.5 217.6,1571.4 219.1,1572.3 220.6,1573.2 222.1,1574.1 223.6,1574.9 225.1,1575.7 226.6,1576.5 228.1,1577.3 229.6,1578.1 231.1,1578.9 232.6,1579.6 234.1,1580.4 235.6,1581.1 237.1,1581.8 238.6,1582.5 240.1,1583.2 241.6,1583.9 243.1,1584.6 244.6,1585.3 246.1,1585.9 247.6,1586.5 249.1,1587.2 250.6,1587.8 252.1,1588.4 253.6,1589 255.1,1589.6 256.6,1590.2 258.1,1590.8 259.6,1591.3 261.1,1591.9 262.6,1592.5 264.1,1593 265.6,1593.5 267.1,1594.1 268.6,1594.6 270.1,1595.1 271.6,1595.6 273.1,1596.1 274.6,1596.6 276.1,1597.1 277.6,1597.6 279.1,1598.1 280.6,1598.6 282.1,1599 283.6,1599.5 285.1,1600 286.6,1600.4 288.1,1600.9 289.6,1601.3 291.1,1601.8 292.6,1602.2 294.1,1602.6 295.6,1603 297.1,1603.5 298.6,1603.9 300.1,1604.3 301.6,1604.7 303.1,1605.1 304.6,1605.5 306.1,1605.9 307.6,1606.3 309.1,1606.7 310.6,1607.1 312.1,1607.4 313.6,1607.8 315.1,1608.2 316.6,1608.6 318.1,1608.9 319.6,1609.3 321.1,1609.6 322.6,1610 324.1,1610.4 325.6,1610.7 327.1,1611.1 328.6,1611.4 330.1,1611.7 331.6,1612.1 333.1,1612.4 334.6,1612.7 336.1,1613.1 337.6,1613.4 339.1,1613.7 340.6,1614 342.1,1614.4 343.6,1614.7 345.1,1615 346.6,1615.3 348.1,1615.6 349.6,1615.9 351.1,1616.2 352.6,1616.5 354.1,1616.8 355.6,1617.1 357.1,1617.4 358.6,1617.7 360.1,1618 361.6,1618.3 363.1,1618.6 364.6,1618.9 366.1,1619.1 367.6,1619.4 369.1,1619.7 370.6,1620 372.1,1620.2 373.6,1620.5 375.1,1620.8 376.6,1621.1 378.1,1621.3 379.6,1621.6 381.1,1621.9 382.6,1622.1 384.1,1622.4 385.6,1622.6 387.1,1622.9 388.6,1623.2 390.1,1623.4 391.6,1623.7 393.1,1623.9 394.6,1624.2 396.1,1624.4 397.6,1624.7 399.1,1624.9 400.6,1625.1 402.1,1625.4 403.6,1625.6 405.1,1625.9 406.6,1626.1 408.1,1626.3 409.6,1626.6 411.1,1626.8 412.6,1627 414.1,1627.3 415.6,1627.5 417.1,1627.7 418.6,1628 420.1,1628.2 421.6,1628.4 423.1,1628.6 424.6,1628.9 426.1,1629.1 427.6,1629.3 429.1,1629.5 430.6,1629.8 432.1,1630 433.6,1630.2 435.1,1630.4 436.6,1630.6 438.1,1630.8 439.6,1631 441.1,1631.3 442.6,1631.5 444.1,1631.7 445.6,1631.9 447.1,1632.1 448.6,1632.3 450.1,1632.5 451.6,1632.7 453.1,1632.9 454.6,1633.1 456.1,1633.3 457.6,1633.5 459.1,1633.7 460.6,1633.9 462.1,1634.1 463.6,1634.3 465.1,1634.5 466.6,1634.7 468.1,1634.9 469.6,1635.1 471.1,1635.3 472.6,1635.5 474.1,1635.7 475.6,1635.9 477.1,1636.1 478.6,1636.3 480.1,1636.5 481.6,1636.7 483.1,1636.8 484.6,1637 486.1,1637.2 487.6,1637.4 489.1,1637.6 490.6,1637.8 492.1,1638 493.6,1638.2 495.1,1638.3 496.6,1638.5 498.1,1638.7 499.6,1638.9 501.1,1639.1 502.6,1639.3 504.1,1639.4 505.6,1639.6 507.1,1639.8 508.6,1640 510.1,1640.2 511.6,1640.3 513.1,1640.5 514.6,1640.7 516.1,1640.9 517.6,1641 519.1,1641.2 520.6,1641.4 522.1,1641.6 523.6,1641.7 525.1,1641.9 526.6,1642.1 528.1,1642.3 529.6,1642.4 531.1,1642.6 532.6,1642.8 534.1,1642.9 535.6,1643.1 537.1,1643.3 538.6,1643.5 540.1,1643.6 541.6,1643.8 543.1,1644 544.6,1644.1 546.1,1644.3 547.6,1644.5 549.1,1644.6 550.6,1644.8 552.1,1645 553.6,1645.1 555.1,1645.3 556.6,1645.5 558.1,1645.6 559.6,1645.8 561.1,1646 562.6,1646.1 564.1,1646.3 565.6,1646.4 567.1,1646.6 568.6,1646.8 570.1,1646.9 571.6,1647.1 573.1,1647.3 574.6,1647.4 576.1,1647.6 577.6,1647.7 579.1,1647.9 580.6,1648.1 582.1,1648.2 583.6,1648.4 585.1,1648.5 586.6,1648.7 588.1,1648.9"/>
<path fill="none" stroke="#d55e00" stroke-width="2.2" d="M139.6,1441.7 141.1,1444.1 142.6,1449.5 144.1,1456.4 145.6,1463.7 147.1,1470.8 148.6,1477.6 150.1,1483.8 151.6,1489.6 153.1,1494.9 154.6,1499.8 156.1,1504.4 157.6,1508.6 159.1,1512.6 160.6,1516.3 162.1,1519.7 163.6,1523 165.1,1526 166.6,1528.9 168.1,1531.7 169.6,1534.3 171.1,1536.8 172.6,1539.1 174.1,1541.4 175.6,1543.6 177.1,1545.7 178.6,1547.7 180.1,1549.6 181.6,1551.4 183.1,1553.2 184.6,1554.9 186.1,1556.6 187.6,1558.2 189.1,1559.7 190.6,1561.2 192.1,1562.7 193.6,1564.1 195.1,1565.5 196.6,1566.8 198.1,1568.1 199.6,1569.3 201.1,1570.5 202.6,1571.7 204.1,1572.9 205.6,1574 207.1,1575.1 208.6,1576.2 210.1,1577.3 211.6,1578.3 213.1,1579.3 214.6,1580.3 216.1,1581.2 217.6,1582.1 219.1,1583.1 220.6,1584 222.1,1584.8 223.6,1585.7 225.1,1586.5 226.6,1587.4 228.1,1588.2 229.6,1589 231.1,1589.7 232.6,1590.5 234.1,1591.3 235.6,1592 237.1,1592.7 238.6,1593.4 240.1,1594.1 241.6,1594.8 243.1,1595.5 244.6,1596.2 246.1,1596.8 247.6,1597.5 249.1,1598.1 250.6,1598.7 252.1,1599.3 253.6,1599.9 255.1,1600.5 256.6,1601.1 258.1,1601.7 259.6,1602.3 261.1,1602.8 262.6,1603.4 264.1,1603.9 265.6,1604.5 267.1,1605 268.6,1605.5 270.1,1606 271.6,1606.5 273.1,1607 274.6,1607.5 276.1,1608 277.6,1608.5 279.1,1609 280.6,1609.4 282.1,1609.9 283.6,1610.4 285.1,1610.8 286.6,1611.3 288.1,1611.7 289.6,1612.1 291.1,1612.6 292.6,1613 294.1,1613.4 295.6,1613.8 297.1,1614.3 298.6,1614.7 300.1,1615.1 301.6,1615.5 303.1,1615.9 304.6,1616.3 306.1,1616.6 307.6,1617 309.1,1617.4 310.6,1617.8 312.1,1618.2 313.6,1618.5 315.1,1618.9 316.6,1619.2 318.1,1619.6 319.6,1620 321.1,1620.3 322.6,1620.7 324.1,1621 325.6,1621.3 327.1,1621.7 328.6,1622 330.1,1622.3 331.6,1622.7 333.1,1623 334.6,1623.3 336.1,1623.6 337.6,1623.9 339.1,1624.3 340.6,1624.6 342.1,1624.9 343.6,1625.2 345.1,1625.5 346.6,1625.8 348.1,1626.1 349.6,1626.4 351.1,1626.7 352.6,1627 354.1,1627.3 355.6,1627.6 357.1,1627.8 358.6,1628.1 360.1,1628.4 361.6,1628.7 363.1,1629 364.6,1629.2 366.1,1629.5 367.6,1629.8 369.1,1630.1 370.6,1630.3 372.1,1630.6 373.6,1630.8 375.1,1631.1 376.6,1631.4 378.1,1631.6 379.6,1631.9 381.1,1632.1 382.6,1632.4 384.1,1632.6 385.6,1632.9 387.1,1633.1 388.6,1633.4 390.1,1633.6 391.6,1633.9 393.1,1634.1 394.6,1634.4 396.1,1634.6 397.6,1634.8 399.1,1635.1 400.6,1635.3 402.1,1635.6 403.6,1635.8 405.1,1636 406.6,1636.3 408.1,1636.5 409.6,1636.7 411.1,1636.9 412.6,1637.2 414.1,1637.4 415.6,1637.6 417.1,1637.8 418.6,1638.1 420.1,1638.3 421.6,1638.5 423.1,1638.7 424.6,1638.9 426.1,1639.2 427.6,1639.4 429.1,1639.6 430.6,1639.8 432.1,1640 433.6,1640.2 435.1,1640.4 436.6,1640.6 438.1,1640.8 439.6,1641.1 441.1,1641.3 442.6,1641.5 444.1,1641.7 445.6,1641.9 447.1,1642.1 448.6,1642.3 450.1,1642.5 451.6,1642.7 453.1,1642.9 454.6,1643.1 456.1,1643.3 457.6,1643.5 459.1,1643.7 460.6,1643.9 462.1,1644.1 463.6,1644.3 465.1,1644.5 466.6,1644.7 468.1,1644.9 469.6,1645.1 471.1,1645.2 472.6,1645.4 474.1,1645.6 475.6,1645.8 477.1,1646 478.6,1646.2 480.1,1646.4 481.6,1646.6 483.1,1646.8 484.6,1647 486.1,1647.1 487.6,1647.3 489.1,1647.5 490.6,1647.7 492.1,1647.9 493.6,1648.1 495.1,1648.3 496.6,1648.4 498.1,1648.6 499.6,1648.8 501.1,1649 502.6,1649.2 504.1,1649.4 505.6,1649.5 507.1,1649.7 508.6,1649.9 510.1,1650.1 511.6,1650.3 513.1,1650.4 514.6,1650.6 516.1,1650.8 517.6,1651 519.1,1651.1 520.6,1651.3 522.1,1651.5 523.6,1651.7 525.1,1651.9 526.6,1652 528.1,1652.2 529.6,1652.4 531.1,1652.6 532.6,1652.7 534.1,1652.9 535.6,1653.1 537.1,1653.3 538.6,1653.4 540.1,1653.6 541.6,1653.8 543.1,1654 544.6,1654.1 546.1,1654.3 547.6,1654.5 549.1,1654.6 550.6,1654.8 552.1,1655 553.6,1655.2 555.1,1655.3 556.6,1655.5 558.1,1655.7 559.6,1655.8 561.1,1656 562.6,1656.2 564.1,1656.4 565.6,1656.5 567.1,1656.7 568.6,1656.9 570.1,1657 571.6,1657.2 573.1,1657.4 574.6,1657.5 576.1,1657.7 577.6,1657.9 579.1,1658.1 580.6,1658.2 582.1,1658.4 583.6,1658.6 585.1,1658.7 586.6,1658.9 588.1,1659.1"/>
<path fill="none" stroke="#111" stroke-width="2.2" stroke-dasharray="6 4.5" d="M139.6,1448.1 141.1,1451.7 142.6,1458.8 144.1,1467 145.6,1474.9 147.1,1482.3 148.6,1489 150.1,1495 151.6,1500.5 153.1,1505.4 154.6,1510 156.1,1514.1 157.6,1518 159.1,1521.6 160.6,1524.9 162.1,1528.1 163.6,1531 165.1,1533.8 166.6,1536.5 168.1,1539 169.6,1541.4 171.1,1543.7 172.6,1545.8 174.1,1547.9 175.6,1549.9 177.1,1551.8 178.6,1553.7 180.1,1555.5 181.6,1557.2 183.1,1558.8 184.6,1560.4 186.1,1562 187.6,1563.5 189.1,1564.9 190.6,1566.3 192.1,1567.7 193.6,1569.1 195.1,1570.4 196.6,1571.6 198.1,1572.9 199.6,1574.1 201.1,1575.2 202.6,1576.4 204.1,1577.5 205.6,1578.6 207.1,1579.7 208.6,1580.7 210.1,1581.7 211.6,1582.7 213.1,1583.7 214.6,1584.7 216.1,1585.6 217.6,1586.5 219.1,1587.4 220.6,1588.3 222.1,1589.2 223.6,1590.1 225.1,1590.9 226.6,1591.7 228.1,1592.5 229.6,1593.3 231.1,1594.1 232.6,1594.9 234.1,1595.7 235.6,1596.4 237.1,1597.1 238.6,1597.9 240.1,1598.6 241.6,1599.3 243.1,1600 244.6,1600.7 246.1,1601.3 247.6,1602 249.1,1602.7 250.6,1603.3 252.1,1603.9 253.6,1604.6 255.1,1605.2 256.6,1605.8 258.1,1606.4 259.6,1607 261.1,1607.6 262.6,1608.2 264.1,1608.7 265.6,1609.3 267.1,1609.9 268.6,1610.4 270.1,1611 271.6,1611.5 273.1,1612 274.6,1612.5 276.1,1613.1 277.6,1613.6 279.1,1614.1 280.6,1614.6 282.1,1615.1 283.6,1615.6 285.1,1616.1 286.6,1616.6 288.1,1617 289.6,1617.5 291.1,1618 292.6,1618.4 294.1,1618.9 295.6,1619.3 297.1,1619.8 298.6,1620.2 300.1,1620.7 301.6,1621.1 303.1,1621.5 304.6,1622 306.1,1622.4 307.6,1622.8 309.1,1623.2 310.6,1623.6 312.1,1624 313.6,1624.4 315.1,1624.8 316.6,1625.2 318.1,1625.6 319.6,1626 321.1,1626.4 322.6,1626.8 324.1,1627.1 325.6,1627.5 327.1,1627.9 328.6,1628.3 330.1,1628.6 331.6,1629 333.1,1629.3 334.6,1629.7 336.1,1630 337.6,1630.4 339.1,1630.7 340.6,1631.1 342.1,1631.4 343.6,1631.8 345.1,1632.1 346.6,1632.4 348.1,1632.8 349.6,1633.1 351.1,1633.4 352.6,1633.7 354.1,1634 355.6,1634.4 357.1,1634.7 358.6,1635 360.1,1635.3 361.6,1635.6 363.1,1635.9 364.6,1636.2 366.1,1636.5 367.6,1636.8 369.1,1637.1 370.6,1637.4 372.1,1637.7 373.6,1638 375.1,1638.3 376.6,1638.5 378.1,1638.8 379.6,1639.1 381.1,1639.4 382.6,1639.7 384.1,1639.9 385.6,1640.2 387.1,1640.5 388.6,1640.7 390.1,1641 391.6,1641.3 393.1,1641.5 394.6,1641.8 396.1,1642.1 397.6,1642.3 399.1,1642.6 400.6,1642.8 402.1,1643.1 403.6,1643.3 405.1,1643.6 406.6,1643.8 408.1,1644.1 409.6,1644.3 411.1,1644.5 412.6,1644.8 414.1,1645 415.6,1645.3 417.1,1645.5 418.6,1645.7 420.1,1646 421.6,1646.2 423.1,1646.4 424.6,1646.6 426.1,1646.9 427.6,1647.1 429.1,1647.3 430.6,1647.5 432.1,1647.8 433.6,1648 435.1,1648.2 436.6,1648.4 438.1,1648.6 439.6,1648.8 441.1,1649 442.6,1649.3 444.1,1649.5 445.6,1649.7 447.1,1649.9 448.6,1650.1 450.1,1650.3 451.6,1650.5 453.1,1650.7 454.6,1650.9 456.1,1651.1 457.6,1651.3 459.1,1651.5 460.6,1651.7 462.1,1651.9 463.6,1652.1 465.1,1652.2 466.6,1652.4 468.1,1652.6 469.6,1652.8 471.1,1653 472.6,1653.2 474.1,1653.4 475.6,1653.5 477.1,1653.7 478.6,1653.9 480.1,1654.1 481.6,1654.3 483.1,1654.4 484.6,1654.6 486.1,1654.8 487.6,1655 489.1,1655.1 490.6,1655.3 492.1,1655.5 493.6,1655.7 495.1,1655.8 496.6,1656 498.1,1656.2 499.6,1656.3 501.1,1656.5 502.6,1656.6 504.1,1656.8 505.6,1657 507.1,1657.1 508.6,1657.3 510.1,1657.4 511.6,1657.6 513.1,1657.8 514.6,1657.9 516.1,1658.1 517.6,1658.2 519.1,1658.4 520.6,1658.5 522.1,1658.7 523.6,1658.8 525.1,1659 526.6,1659.1 528.1,1659.3 529.6,1659.4 531.1,1659.6 532.6,1659.7 534.1,1659.8 535.6,1660 537.1,1660.1 538.6,1660.3 540.1,1660.4 541.6,1660.6 543.1,1660.7 544.6,1660.8 546.1,1661 547.6,1661.1 549.1,1661.2 550.6,1661.4 552.1,1661.5 553.6,1661.6 555.1,1661.8 556.6,1661.9 558.1,1662 559.6,1662.2 561.1,1662.3 562.6,1662.4 564.1,1662.5 565.6,1662.7 567.1,1662.8 568.6,1662.9 570.1,1663 571.6,1663.2 573.1,1663.3 574.6,1663.4 576.1,1663.5 577.6,1663.6 579.1,1663.8 580.6,1663.9 582.1,1664 583.6,1664.1"/>
<path fill="none" stroke="#000" stroke-width="4.2" stroke-linecap="round" d="M139.6,1468.7 141.1,1473.4 142.6,1481.9 144.1,1491.1 145.6,1499.8 147.1,1507.5 148.6,1514.3 150.1,1520.4 151.6,1525.8 153.1,1530.8 154.6,1535.2 156.1,1539.3 157.6,1543.1 159.1,1546.6 160.6,1549.9 162.1,1553 163.6,1555.8 165.1,1558.6 166.6,1561.1 168.1,1563.5 169.6,1565.8 171.1,1568 172.6,1570.1 174.1,1572.1 175.6,1574.1 177.1,1575.9 178.6,1577.7 180.1,1579.4 181.6,1581 183.1,1582.6 184.6,1584.2 186.1,1585.7 187.6,1587.1 189.1,1588.5 190.6,1589.8 192.1,1591.2 193.6,1592.4 195.1,1593.7 196.6,1594.9 198.1,1596.1 199.6,1597.2 201.1,1598.3 202.6,1599.4 204.1,1600.5 205.6,1601.5 207.1,1602.6 208.6,1603.6 210.1,1604.5 211.6,1605.5 213.1,1606.4 214.6,1607.3 216.1,1608.2 217.6,1609.1 219.1,1610 220.6,1610.8 222.1,1611.6 223.6,1612.5 225.1,1613.3 226.6,1614 228.1,1614.8 229.6,1615.6 231.1,1616.3 232.6,1617.1 234.1,1617.8 235.6,1618.5 237.1,1619.2 238.6,1619.9 240.1,1620.6 241.6,1621.2 243.1,1621.9 244.6,1622.5 246.1,1623.2 247.6,1623.8 249.1,1624.4 250.6,1625 252.1,1625.6 253.6,1626.2 255.1,1626.8 256.6,1627.4 258.1,1628 259.6,1628.5 261.1,1629.1 262.6,1629.6 264.1,1630.2 265.6,1630.7 267.1,1631.2 268.6,1631.8 270.1,1632.3 271.6,1632.8 273.1,1633.3 274.6,1633.8 276.1,1634.3 277.6,1634.8 279.1,1635.3 280.6,1635.8 282.1,1636.2 283.6,1636.7 285.1,1637.2 286.6,1637.6 288.1,1638.1 289.6,1638.5 291.1,1639 292.6,1639.4 294.1,1639.8 295.6,1640.3 297.1,1640.7 298.6,1641.1 300.1,1641.5 301.6,1641.9 303.1,1642.3 304.6,1642.7 306.1,1643.2 307.6,1643.5 309.1,1643.9 310.6,1644.3 312.1,1644.7 313.6,1645.1 315.1,1645.5 316.6,1645.9 318.1,1646.2 319.6,1646.6 321.1,1647 322.6,1647.3 324.1,1647.7 325.6,1648.1 327.1,1648.4 328.6,1648.8 330.1,1649.1 331.6,1649.5 333.1,1649.8 334.6,1650.1 336.1,1650.5 337.6,1650.8 339.1,1651.1 340.6,1651.5 342.1,1651.8 343.6,1652.1 345.1,1652.4 346.6,1652.8 348.1,1653.1 349.6,1653.4 351.1,1653.7 352.6,1654 354.1,1654.3 355.6,1654.6 357.1,1654.9 358.6,1655.2 360.1,1655.5 361.6,1655.8 363.1,1656.1 364.6,1656.4 366.1,1656.7 367.6,1657 369.1,1657.3 370.6,1657.6 372.1,1657.9 373.6,1658.1 375.1,1658.4 376.6,1658.7 378.1,1659 379.6,1659.2 381.1,1659.5 382.6,1659.8 384.1,1660.1 385.6,1660.3 387.1,1660.6 388.6,1660.8 390.1,1661.1 391.6,1661.4 393.1,1661.6 394.6,1661.9 396.1,1662.1 397.6,1662.4 399.1,1662.6 400.6,1662.9 402.1,1663.1 403.6,1663.4 405.1,1663.6 406.6,1663.9 408.1,1664.1 409.6,1664.4 411.1,1664.6 412.6,1664.8 414.1,1665.1 415.6,1665.3 417.1,1665.5 418.6,1665.8 420.1,1666 421.6,1666.2 423.1,1666.5 424.6,1666.7 426.1,1666.9 427.6,1667.1 429.1,1667.4 430.6,1667.6 432.1,1667.8 433.6,1668 435.1,1668.2 436.6,1668.5 438.1,1668.7 439.6,1668.9 441.1,1669.1 442.6,1669.3 444.1,1669.5 445.6,1669.7 447.1,1670 448.6,1670.2 450.1,1670.4 451.6,1670.6 453.1,1670.8 454.6,1671 456.1,1671.2 457.6,1671.4 459.1,1671.6 460.6,1671.8 462.1,1672 463.6,1672.2 465.1,1672.4 466.6,1672.6 468.1,1672.8 469.6,1673 471.1,1673.2 472.6,1673.4 474.1,1673.6 475.6,1673.7 477.1,1673.9 478.6,1674.1 480.1,1674.3 481.6,1674.5 483.1,1674.7 484.6,1674.9 486.1,1675.1 487.6,1675.2 489.1,1675.4 490.6,1675.6 492.1,1675.8 493.6,1676 495.1,1676.1 496.6,1676.3 498.1,1676.5 499.6,1676.7 501.1,1676.8 502.6,1677 504.1,1677.2 505.6,1677.4 507.1,1677.5 508.6,1677.7 510.1,1677.9 511.6,1678.1 513.1,1678.2 514.6,1678.4 516.1,1678.6 517.6,1678.7 519.1,1678.9 520.6,1679.1 522.1,1679.2 523.6,1679.4 525.1,1679.6 526.6,1679.7 528.1,1679.9 529.6,1680 531.1,1680.2 532.6,1680.4 534.1,1680.5 535.6,1680.7 537.1,1680.8 538.6,1681 540.1,1681.2 541.6,1681.3 543.1,1681.5 544.6,1681.6 546.1,1681.8 547.6,1681.9 549.1,1682.1 550.6,1682.2 552.1,1682.4 553.6,1682.5 555.1,1682.7 556.6,1682.8 558.1,1683 559.6,1683.1 561.1,1683.3 562.6,1683.4 564.1,1683.6 565.6,1683.7 567.1,1683.9 568.6,1684 570.1,1684.2 571.6,1684.3 573.1,1684.5 574.6,1684.6 576.1,1684.7 577.6,1684.9 579.1,1685 580.6,1685.2 582.1,1685.3 583.6,1685.4 585.1,1685.6 586.6,1685.7 588.1,1685.9"/>
<path fill="none" stroke="#009e73" stroke-width="2.2" d="M792.3,1427.8 793.8,1430.8 795.3,1437.7 796.8,1446.4 798.3,1455.3 799.8,1463.8 801.3,1471.6 802.8,1478.8 804.3,1485.3 805.8,1491.2 807.3,1496.6 808.8,1501.7 810.3,1506.3 811.8,1510.6 813.3,1514.7 814.8,1518.4 816.3,1522 817.8,1525.4 819.3,1528.5 820.8,1531.5 822.3,1534.4 823.8,1537.1 825.3,1539.7 826.8,1542.2 828.3,1544.6 829.8,1546.9 831.3,1549.1 832.8,1551.2 834.3,1553.2 835.8,1555.2 837.3,1557.1 838.8,1558.9 840.3,1560.7 841.8,1562.4 843.3,1564.1 844.8,1565.7 846.3,1567.3 847.8,1568.8 849.3,1570.3 850.8,1571.8 852.3,1573.2 853.8,1574.5 855.3,1575.9 856.8,1577.2 858.3,1578.5 859.8,1579.7 861.3,1580.9 862.8,1582.1 864.3,1583.3 865.8,1584.4 867.3,1585.6 868.8,1586.7 870.3,1587.7 871.8,1588.8 873.3,1589.8 874.8,1590.8 876.3,1591.8 877.8,1592.8 879.3,1593.8 880.8,1594.7 882.3,1595.6 883.8,1596.5 885.3,1597.4 886.8,1598.3 888.3,1599.2 889.8,1600 891.3,1600.8 892.8,1601.7 894.3,1602.5 895.8,1603.3 897.3,1604 898.8,1604.8 900.3,1605.6 901.8,1606.3 903.3,1607.1 904.8,1607.8 906.3,1608.5 907.8,1609.2 909.3,1609.9 910.8,1610.6 912.3,1611.3 913.8,1611.9 915.3,1612.6 916.8,1613.3 918.3,1613.9 919.8,1614.5 921.3,1615.2 922.8,1615.8 924.3,1616.4 925.8,1617 927.3,1617.6 928.8,1618.2 930.3,1618.8 931.8,1619.4 933.3,1619.9 934.8,1620.5 936.3,1621.1 937.8,1621.6 939.3,1622.2 940.8,1622.7 942.3,1623.2 943.8,1623.8 945.3,1624.3 946.8,1624.8 948.3,1625.3 949.8,1625.8 951.3,1626.3 952.8,1626.8 954.3,1627.3 955.8,1627.8 957.3,1628.3 958.8,1628.7 960.3,1629.2 961.8,1629.7 963.3,1630.2 964.8,1630.6 966.3,1631.1 967.8,1631.5 969.3,1632 970.8,1632.4 972.3,1632.8 973.8,1633.3 975.3,1633.7 976.8,1634.1 978.3,1634.6 979.8,1635 981.3,1635.4 982.8,1635.8 984.3,1636.2 985.8,1636.6 987.3,1637 988.8,1637.4 990.3,1637.8 991.8,1638.2 993.3,1638.6 994.8,1639 996.3,1639.4 997.8,1639.7 999.3,1640.1 1000.8,1640.5 1002.3,1640.9 1003.8,1641.2 1005.3,1641.6 1006.8,1642 1008.3,1642.3 1009.8,1642.7 1011.3,1643 1012.8,1643.4 1014.3,1643.7 1015.8,1644.1 1017.3,1644.4 1018.8,1644.8 1020.3,1645.1 1021.8,1645.4 1023.3,1645.8 1024.8,1646.1 1026.3,1646.4 1027.8,1646.8 1029.3,1647.1 1030.8,1647.4 1032.3,1647.7 1033.8,1648 1035.3,1648.4 1036.8,1648.7 1038.3,1649 1039.8,1649.3 1041.3,1649.6 1042.8,1649.9 1044.3,1650.2 1045.8,1650.5 1047.3,1650.8 1048.8,1651.1 1050.3,1651.4 1051.8,1651.7 1053.3,1652 1054.8,1652.3 1056.3,1652.6 1057.8,1652.9 1059.3,1653.1 1060.8,1653.4 1062.3,1653.7 1063.8,1654 1065.3,1654.3 1066.8,1654.6 1068.3,1654.8 1069.8,1655.1 1071.3,1655.4 1072.8,1655.6 1074.3,1655.9 1075.8,1656.2 1077.3,1656.4 1078.8,1656.7 1080.3,1657 1081.8,1657.2 1083.3,1657.5 1084.8,1657.8 1086.3,1658 1087.8,1658.3 1089.3,1658.5 1090.8,1658.8 1092.3,1659 1093.8,1659.3 1095.3,1659.5 1096.8,1659.8 1098.3,1660 1099.8,1660.3 1101.3,1660.5 1102.8,1660.8 1104.3,1661 1105.8,1661.2 1107.3,1661.5 1108.8,1661.7 1110.3,1662 1111.8,1662.2 1113.3,1662.4 1114.8,1662.7 1116.3,1662.9 1117.8,1663.1 1119.3,1663.3 1120.8,1663.6 1122.3,1663.8 1123.8,1664 1125.3,1664.3 1126.8,1664.5 1128.3,1664.7 1129.8,1664.9 1131.3,1665.1 1132.8,1665.4 1134.3,1665.6 1135.8,1665.8 1137.3,1666 1138.8,1666.2 1140.3,1666.5 1141.8,1666.7 1143.3,1666.9 1144.8,1667.1 1146.3,1667.3 1147.8,1667.5 1149.3,1667.7 1150.8,1667.9 1152.3,1668.1 1153.8,1668.4 1155.3,1668.6 1156.8,1668.8 1158.3,1669 1159.8,1669.2 1161.3,1669.4 1162.8,1669.6 1164.3,1669.8 1165.8,1670 1167.3,1670.2 1168.8,1670.4 1170.3,1670.6 1171.8,1670.8 1173.3,1671 1174.8,1671.2 1176.3,1671.4 1177.8,1671.5 1179.3,1671.7 1180.8,1671.9 1182.3,1672.1 1183.8,1672.3 1185.3,1672.5 1186.8,1672.7 1188.3,1672.9 1189.8,1673.1 1191.3,1673.3 1192.8,1673.4 1194.3,1673.6 1195.8,1673.8 1197.3,1674 1198.8,1674.2 1200.3,1674.4 1201.8,1674.5 1203.3,1674.7 1204.8,1674.9 1206.3,1675.1 1207.8,1675.3 1209.3,1675.4 1210.8,1675.6 1212.3,1675.8 1213.8,1676 1215.3,1676.2 1216.8,1676.3 1218.3,1676.5 1219.8,1676.7 1221.3,1676.9 1222.8,1677 1224.3,1677.2 1225.8,1677.4 1227.3,1677.5 1228.8,1677.7 1230.3,1677.9 1231.8,1678.1 1233.3,1678.2 1234.8,1678.4 1236.3,1678.6 1237.8,1678.7 1239.3,1678.9 1240.8,1679.1"/>
<path fill="none" stroke="#d55e00" stroke-width="2.2" d="M792.3,1440 793.8,1442.5 795.3,1448.4 796.8,1456.1 798.3,1464.1 799.8,1471.9 801.3,1479.2 802.8,1486 804.3,1492.2 805.8,1497.9 807.3,1503.2 808.8,1508.1 810.3,1512.6 811.8,1516.8 813.3,1520.8 814.8,1524.5 816.3,1528.1 817.8,1531.4 819.3,1534.5 820.8,1537.5 822.3,1540.4 823.8,1543.1 825.3,1545.8 826.8,1548.3 828.3,1550.7 829.8,1553 831.3,1555.2 832.8,1557.4 834.3,1559.4 835.8,1561.4 837.3,1563.4 838.8,1565.3 840.3,1567.1 841.8,1568.9 843.3,1570.6 844.8,1572.3 846.3,1573.9 847.8,1575.5 849.3,1577 850.8,1578.5 852.3,1580 853.8,1581.4 855.3,1582.8 856.8,1584.2 858.3,1585.6 859.8,1586.9 861.3,1588.1 862.8,1589.4 864.3,1590.6 865.8,1591.8 867.3,1593 868.8,1594.2 870.3,1595.3 871.8,1596.4 873.3,1597.5 874.8,1598.6 876.3,1599.7 877.8,1600.7 879.3,1601.7 880.8,1602.7 882.3,1603.7 883.8,1604.7 885.3,1605.7 886.8,1606.6 888.3,1607.5 889.8,1608.4 891.3,1609.3 892.8,1610.2 894.3,1611.1 895.8,1612 897.3,1612.8 898.8,1613.6 900.3,1614.5 901.8,1615.3 903.3,1616.1 904.8,1616.9 906.3,1617.7 907.8,1618.4 909.3,1619.2 910.8,1619.9 912.3,1620.7 913.8,1621.4 915.3,1622.1 916.8,1622.9 918.3,1623.6 919.8,1624.3 921.3,1624.9 922.8,1625.6 924.3,1626.3 925.8,1627 927.3,1627.6 928.8,1628.3 930.3,1628.9 931.8,1629.6 933.3,1630.2 934.8,1630.8 936.3,1631.4 937.8,1632 939.3,1632.6 940.8,1633.2 942.3,1633.8 943.8,1634.4 945.3,1635 946.8,1635.5 948.3,1636.1 949.8,1636.7 951.3,1637.2 952.8,1637.8 954.3,1638.3 955.8,1638.9 957.3,1639.4 958.8,1639.9 960.3,1640.4 961.8,1641 963.3,1641.5 964.8,1642 966.3,1642.5 967.8,1643 969.3,1643.5 970.8,1644 972.3,1644.5 973.8,1644.9 975.3,1645.4 976.8,1645.9 978.3,1646.4 979.8,1646.8 981.3,1647.3 982.8,1647.7 984.3,1648.2 985.8,1648.6 987.3,1649.1 988.8,1649.5 990.3,1650 991.8,1650.4 993.3,1650.8 994.8,1651.2 996.3,1651.7 997.8,1652.1 999.3,1652.5 1000.8,1652.9 1002.3,1653.3 1003.8,1653.7 1005.3,1654.1 1006.8,1654.5 1008.3,1654.9 1009.8,1655.3 1011.3,1655.7 1012.8,1656.1 1014.3,1656.5 1015.8,1656.8 1017.3,1657.2 1018.8,1657.6 1020.3,1657.9 1021.8,1658.3 1023.3,1658.7 1024.8,1659 1026.3,1659.4 1027.8,1659.8 1029.3,1660.1 1030.8,1660.5 1032.3,1660.8 1033.8,1661.1 1035.3,1661.5 1036.8,1661.8 1038.3,1662.2 1039.8,1662.5 1041.3,1662.8 1042.8,1663.2 1044.3,1663.5 1045.8,1663.8 1047.3,1664.1 1048.8,1664.4 1050.3,1664.8 1051.8,1665.1 1053.3,1665.4 1054.8,1665.7 1056.3,1666 1057.8,1666.3 1059.3,1666.6 1060.8,1666.9 1062.3,1667.2 1063.8,1667.5 1065.3,1667.8 1066.8,1668.1 1068.3,1668.4 1069.8,1668.7 1071.3,1668.9 1072.8,1669.2 1074.3,1669.5 1075.8,1669.8 1077.3,1670.1 1078.8,1670.3 1080.3,1670.6 1081.8,1670.9 1083.3,1671.1 1084.8,1671.4 1086.3,1671.7 1087.8,1671.9 1089.3,1672.2 1090.8,1672.4 1092.3,1672.7 1093.8,1673 1095.3,1673.2 1096.8,1673.5 1098.3,1673.7 1099.8,1674 1101.3,1674.2 1102.8,1674.4 1104.3,1674.7 1105.8,1674.9 1107.3,1675.2 1108.8,1675.4 1110.3,1675.6 1111.8,1675.9 1113.3,1676.1 1114.8,1676.3 1116.3,1676.5 1117.8,1676.8 1119.3,1677 1120.8,1677.2 1122.3,1677.4 1123.8,1677.7 1125.3,1677.9 1126.8,1678.1 1128.3,1678.3 1129.8,1678.5 1131.3,1678.7 1132.8,1678.9 1134.3,1679.1 1135.8,1679.3 1137.3,1679.5 1138.8,1679.7 1140.3,1679.9 1141.8,1680.1 1143.3,1680.3 1144.8,1680.5 1146.3,1680.7 1147.8,1680.9 1149.3,1681.1 1150.8,1681.3 1152.3,1681.5 1153.8,1681.7 1155.3,1681.9 1156.8,1682.1 1158.3,1682.2 1159.8,1682.4 1161.3,1682.6 1162.8,1682.8 1164.3,1682.9 1165.8,1683.1 1167.3,1683.3 1168.8,1683.5 1170.3,1683.6 1171.8,1683.8 1173.3,1684 1174.8,1684.1 1176.3,1684.3 1177.8,1684.5 1179.3,1684.6 1180.8,1684.8 1182.3,1685 1183.8,1685.1 1185.3,1685.3 1186.8,1685.4 1188.3,1685.6 1189.8,1685.7 1191.3,1685.9 1192.8,1686 1194.3,1686.2 1195.8,1686.3 1197.3,1686.5 1198.8,1686.6 1200.3,1686.8 1201.8,1686.9 1203.3,1687.1 1204.8,1687.2 1206.3,1687.3 1207.8,1687.5 1209.3,1687.6 1210.8,1687.7 1212.3,1687.9 1213.8,1688 1215.3,1688.1 1216.8,1688.3 1218.3,1688.4 1219.8,1688.5 1221.3,1688.7 1222.8,1688.8 1224.3,1688.9 1225.8,1689 1227.3,1689.2 1228.8,1689.3 1230.3,1689.4 1231.8,1689.5 1233.3,1689.6 1234.8,1689.7 1236.3,1689.9 1237.8,1690 1239.3,1690.1 1240.8,1690.2"/>
<path fill="none" stroke="#111" stroke-width="2.2" stroke-dasharray="6 4.5" d="M792.3,1448 793.8,1451 795.3,1457.7 796.8,1466.1 798.3,1474.6 799.8,1482.7 801.3,1490.2 802.8,1497 804.3,1503.3 805.8,1509 807.3,1514.2 808.8,1519 810.3,1523.5 811.8,1527.7 813.3,1531.6 814.8,1535.2 816.3,1538.7 817.8,1542 819.3,1545.1 820.8,1548 822.3,1550.8 823.8,1553.5 825.3,1556 826.8,1558.5 828.3,1560.8 829.8,1563.1 831.3,1565.3 832.8,1567.4 834.3,1569.4 835.8,1571.4 837.3,1573.3 838.8,1575.1 840.3,1576.9 841.8,1578.7 843.3,1580.3 844.8,1582 846.3,1583.6 847.8,1585.1 849.3,1586.6 850.8,1588.1 852.3,1589.6 853.8,1591 855.3,1592.3 856.8,1593.7 858.3,1595 859.8,1596.3 861.3,1597.5 862.8,1598.8 864.3,1600 865.8,1601.2 867.3,1602.3 868.8,1603.5 870.3,1604.6 871.8,1605.7 873.3,1606.8 874.8,1607.8 876.3,1608.9 877.8,1609.9 879.3,1610.9 880.8,1611.9 882.3,1612.8 883.8,1613.8 885.3,1614.7 886.8,1615.7 888.3,1616.6 889.8,1617.5 891.3,1618.4 892.8,1619.2 894.3,1620.1 895.8,1620.9 897.3,1621.8 898.8,1622.6 900.3,1623.4 901.8,1624.2 903.3,1625 904.8,1625.8 906.3,1626.5 907.8,1627.3 909.3,1628.1 910.8,1628.8 912.3,1629.5 913.8,1630.2 915.3,1631 916.8,1631.7 918.3,1632.4 919.8,1633.1 921.3,1633.7 922.8,1634.4 924.3,1635.1 925.8,1635.7 927.3,1636.4 928.8,1637 930.3,1637.7 931.8,1638.3 933.3,1638.9 934.8,1639.5 936.3,1640.1 937.8,1640.7 939.3,1641.3 940.8,1641.9 942.3,1642.5 943.8,1643.1 945.3,1643.6 946.8,1644.2 948.3,1644.8 949.8,1645.3 951.3,1645.9 952.8,1646.4 954.3,1647 955.8,1647.5 957.3,1648 958.8,1648.5 960.3,1649.1 961.8,1649.6 963.3,1650.1 964.8,1650.6 966.3,1651.1 967.8,1651.6 969.3,1652.1 970.8,1652.5 972.3,1653 973.8,1653.5 975.3,1654 976.8,1654.4 978.3,1654.9 979.8,1655.4 981.3,1655.8 982.8,1656.3 984.3,1656.7 985.8,1657.2 987.3,1657.6 988.8,1658 990.3,1658.5 991.8,1658.9 993.3,1659.3 994.8,1659.8 996.3,1660.2 997.8,1660.6 999.3,1661 1000.8,1661.4 1002.3,1661.8 1003.8,1662.2 1005.3,1662.6 1006.8,1663 1008.3,1663.4 1009.8,1663.8 1011.3,1664.2 1012.8,1664.6 1014.3,1664.9 1015.8,1665.3 1017.3,1665.7 1018.8,1666 1020.3,1666.4 1021.8,1666.8 1023.3,1667.1 1024.8,1667.5 1026.3,1667.9 1027.8,1668.2 1029.3,1668.6 1030.8,1668.9 1032.3,1669.3 1033.8,1669.6 1035.3,1669.9 1036.8,1670.3 1038.3,1670.6 1039.8,1670.9 1041.3,1671.3 1042.8,1671.6 1044.3,1671.9 1045.8,1672.2 1047.3,1672.6 1048.8,1672.9 1050.3,1673.2 1051.8,1673.5 1053.3,1673.8 1054.8,1674.1 1056.3,1674.4 1057.8,1674.7 1059.3,1675 1060.8,1675.3 1062.3,1675.6 1063.8,1675.9 1065.3,1676.2 1066.8,1676.5 1068.3,1676.8 1069.8,1677.1 1071.3,1677.4 1072.8,1677.6 1074.3,1677.9 1075.8,1678.2 1077.3,1678.5 1078.8,1678.7 1080.3,1679 1081.8,1679.3 1083.3,1679.6 1084.8,1679.8 1086.3,1680.1 1087.8,1680.3 1089.3,1680.6 1090.8,1680.9 1092.3,1681.1 1093.8,1681.4 1095.3,1681.6 1096.8,1681.9 1098.3,1682.1 1099.8,1682.4 1101.3,1682.6 1102.8,1682.8 1104.3,1683.1 1105.8,1683.3 1107.3,1683.6 1108.8,1683.8 1110.3,1684 1111.8,1684.3 1113.3,1684.5 1114.8,1684.7 1116.3,1684.9 1117.8,1685.2 1119.3,1685.4 1120.8,1685.6 1122.3,1685.8 1123.8,1686 1125.3,1686.3 1126.8,1686.5 1128.3,1686.7 1129.8,1686.9 1131.3,1687.1 1132.8,1687.3 1134.3,1687.5 1135.8,1687.7 1137.3,1687.9 1138.8,1688.1 1140.3,1688.3 1141.8,1688.5 1143.3,1688.7 1144.8,1688.9 1146.3,1689.1 1147.8,1689.3 1149.3,1689.5 1150.8,1689.7 1152.3,1689.9 1153.8,1690.1 1155.3,1690.3 1156.8,1690.4 1158.3,1690.6 1159.8,1690.8 1161.3,1691 1162.8,1691.2 1164.3,1691.3 1165.8,1691.5 1167.3,1691.7 1168.8,1691.9 1170.3,1692 1171.8,1692.2 1173.3,1692.4 1174.8,1692.5 1176.3,1692.7 1177.8,1692.9 1179.3,1693 1180.8,1693.2 1182.3,1693.3 1183.8,1693.5 1185.3,1693.7 1186.8,1693.8 1188.3,1694 1189.8,1694.1 1191.3,1694.3 1192.8,1694.4 1194.3,1694.6 1195.8,1694.7 1197.3,1694.9 1198.8,1695 1200.3,1695.2 1201.8,1695.3 1203.3,1695.4 1204.8,1695.6 1206.3,1695.7 1207.8,1695.9 1209.3,1696 1210.8,1696.1 1212.3,1696.3 1213.8,1696.4 1215.3,1696.5 1216.8,1696.7 1218.3,1696.8 1219.8,1696.9 1221.3,1697 1222.8,1697.2 1224.3,1697.3 1225.8,1697.4 1227.3,1697.5 1228.8,1697.6 1230.3,1697.8 1231.8,1697.9 1233.3,1698 1234.8,1698.1"/>
<path fill="none" stroke="#000" stroke-width="4.2" stroke-linecap="round" d="M792.3,1472.5 793.8,1476.9 795.3,1485.8 796.8,1495.8 798.3,1505.2 799.8,1513.6 801.3,1521 802.8,1527.7 804.3,1533.6 805.8,1539 807.3,1543.9 808.8,1548.4 810.3,1552.6 811.8,1556.5 813.3,1560.1 814.8,1563.5 816.3,1566.7 817.8,1569.7 819.3,1572.6 820.8,1575.3 822.3,1577.9 823.8,1580.4 825.3,1582.7 826.8,1585 828.3,1587.2 829.8,1589.3 831.3,1591.3 832.8,1593.3 834.3,1595.2 835.8,1597 837.3,1598.8 838.8,1600.5 840.3,1602.2 841.8,1603.8 843.3,1605.4 844.8,1607 846.3,1608.5 847.8,1609.9 849.3,1611.4 850.8,1612.8 852.3,1614.1 853.8,1615.4 855.3,1616.7 856.8,1618 858.3,1619.3 859.8,1620.5 861.3,1621.7 862.8,1622.9 864.3,1624 865.8,1625.2 867.3,1626.3 868.8,1627.4 870.3,1628.4 871.8,1629.5 873.3,1630.5 874.8,1631.5 876.3,1632.5 877.8,1633.5 879.3,1634.5 880.8,1635.4 882.3,1636.4 883.8,1637.3 885.3,1638.2 886.8,1639.1 888.3,1640 889.8,1640.9 891.3,1641.7 892.8,1642.6 894.3,1643.4 895.8,1644.2 897.3,1645.1 898.8,1645.9 900.3,1646.7 901.8,1647.4 903.3,1648.2 904.8,1649 906.3,1649.7 907.8,1650.5 909.3,1651.2 910.8,1651.9 912.3,1652.7 913.8,1653.4 915.3,1654.1 916.8,1654.8 918.3,1655.5 919.8,1656.1 921.3,1656.8 922.8,1657.5 924.3,1658.1 925.8,1658.8 927.3,1659.4 928.8,1660.1 930.3,1660.7 931.8,1661.3 933.3,1661.9 934.8,1662.6 936.3,1663.2 937.8,1663.8 939.3,1664.4 940.8,1664.9 942.3,1665.5 943.8,1666.1 945.3,1666.7 946.8,1667.2 948.3,1667.8 949.8,1668.4 951.3,1668.9 952.8,1669.4 954.3,1670 955.8,1670.5 957.3,1671.1 958.8,1671.6 960.3,1672.1 961.8,1672.6 963.3,1673.1 964.8,1673.6 966.3,1674.1 967.8,1674.6 969.3,1675.1 970.8,1675.6 972.3,1676.1 973.8,1676.6 975.3,1677.1 976.8,1677.5 978.3,1678 979.8,1678.5 981.3,1678.9 982.8,1679.4 984.3,1679.8 985.8,1680.3 987.3,1680.7 988.8,1681.2 990.3,1681.6 991.8,1682 993.3,1682.5 994.8,1682.9 996.3,1683.3 997.8,1683.8 999.3,1684.2 1000.8,1684.6 1002.3,1685 1003.8,1685.4 1005.3,1685.8 1006.8,1686.2 1008.3,1686.6 1009.8,1687 1011.3,1687.4 1012.8,1687.8 1014.3,1688.2 1015.8,1688.6 1017.3,1688.9 1018.8,1689.3 1020.3,1689.7 1021.8,1690.1 1023.3,1690.4 1024.8,1690.8 1026.3,1691.2 1027.8,1691.5 1029.3,1691.9 1030.8,1692.2 1032.3,1692.6 1033.8,1692.9 1035.3,1693.3 1036.8,1693.6 1038.3,1694 1039.8,1694.3 1041.3,1694.6 1042.8,1695 1044.3,1695.3 1045.8,1695.6 1047.3,1695.9 1048.8,1696.3 1050.3,1696.6 1051.8,1696.9 1053.3,1697.2 1054.8,1697.5 1056.3,1697.8 1057.8,1698.2 1059.3,1698.5 1060.8,1698.8 1062.3,1699.1 1063.8,1699.4 1065.3,1699.7 1066.8,1700 1068.3,1700.3 1069.8,1700.5 1071.3,1700.8 1072.8,1701.1 1074.3,1701.4 1075.8,1701.7 1077.3,1702 1078.8,1702.2 1080.3,1702.5 1081.8,1702.8 1083.3,1703.1 1084.8,1703.3 1086.3,1703.6 1087.8,1703.9 1089.3,1704.1 1090.8,1704.4 1092.3,1704.6 1093.8,1704.9 1095.3,1705.2 1096.8,1705.4 1098.3,1705.7 1099.8,1705.9 1101.3,1706.2 1102.8,1706.4 1104.3,1706.6 1105.8,1706.9 1107.3,1707.1 1108.8,1707.4 1110.3,1707.6 1111.8,1707.8 1113.3,1708.1 1114.8,1708.3 1116.3,1708.5 1117.8,1708.7 1119.3,1709 1120.8,1709.2 1122.3,1709.4 1123.8,1709.6 1125.3,1709.8 1126.8,1710.1 1128.3,1710.3 1129.8,1710.5 1131.3,1710.7 1132.8,1710.9 1134.3,1711.1 1135.8,1711.3 1137.3,1711.5 1138.8,1711.7 1140.3,1711.9 1141.8,1712.1 1143.3,1712.3 1144.8,1712.5 1146.3,1712.7 1147.8,1712.9 1149.3,1713.1 1150.8,1713.3 1152.3,1713.5 1153.8,1713.6 1155.3,1713.8 1156.8,1714 1158.3,1714.2 1159.8,1714.4 1161.3,1714.5 1162.8,1714.7 1164.3,1714.9 1165.8,1715.1 1167.3,1715.2 1168.8,1715.4 1170.3,1715.6 1171.8,1715.7 1173.3,1715.9 1174.8,1716.1 1176.3,1716.2 1177.8,1716.4 1179.3,1716.5 1180.8,1716.7 1182.3,1716.8 1183.8,1717 1185.3,1717.1 1186.8,1717.3 1188.3,1717.4 1189.8,1717.6 1191.3,1717.7 1192.8,1717.9 1194.3,1718 1195.8,1718.2 1197.3,1718.3 1198.8,1718.4 1200.3,1718.6 1201.8,1718.7 1203.3,1718.8 1204.8,1719 1206.3,1719.1 1207.8,1719.2 1209.3,1719.4 1210.8,1719.5 1212.3,1719.6 1213.8,1719.7 1215.3,1719.9 1216.8,1720 1218.3,1720.1 1219.8,1720.2 1221.3,1720.3 1222.8,1720.4 1224.3,1720.6 1225.8,1720.7 1227.3,1720.8 1228.8,1720.9 1230.3,1721 1231.8,1721.1 1233.3,1721.2 1234.8,1721.3 1236.3,1721.4 1237.8,1721.5 1239.3,1721.6 1240.8,1721.7"/>
<g fill="none" stroke="#000">
<rect x="121.9" y="81.7" width="1339.6" height="1761.8" stroke-width="4.2"/>
<line x1="121.9" y1="1375.4" x2="1461.5" y2="1375.4" stroke-width="4.8"/>
</g>
<g stroke="#231815" stroke-width="2">
<line x1="456.9" y1="83" x2="456.9" y2="94.8"/>
<line x1="791.8" y1="83" x2="791.8" y2="94.8"/>
<line x1="1126.6" y1="83" x2="1126.6" y2="94.8"/>
<line x1="108" y1="94.8" x2="120" y2="94.8"/>
<line x1="108" y1="197.9" x2="120" y2="197.9"/>
<line x1="108" y1="300.9" x2="120" y2="300.9"/>
<line x1="108" y1="404" x2="120" y2="404"/>
<line x1="108" y1="507" x2="120" y2="507"/>
<line x1="108" y1="610.1" x2="120" y2="610.1"/>
<line x1="108" y1="898.1" x2="120" y2="898.1"/>
<line x1="108" y1="1009.6" x2="120" y2="1009.6"/>
<line x1="108" y1="1121.1" x2="120" y2="1121.1"/>
<line x1="108" y1="1232.6" x2="120" y2="1232.6"/>
<line x1="108" y1="1344.1" x2="120" y2="1344.1"/>
<line x1="108" y1="1425.8" x2="120" y2="1425.8"/>
<line x1="108" y1="1545.7" x2="120" y2="1545.7"/>
<line x1="108" y1="1665.7" x2="120" y2="1665.7"/>
<line x1="108" y1="1785.6" x2="120" y2="1785.6"/>
<line x1="139.3" y1="1845" x2="139.3" y2="1857"/>
<line x1="225.5" y1="1845" x2="225.5" y2="1857"/>
<line x1="311.8" y1="1845" x2="311.8" y2="1857"/>
<line x1="398" y1="1845" x2="398" y2="1857"/>
<line x1="484.3" y1="1845" x2="484.3" y2="1857"/>
<line x1="570.5" y1="1845" x2="570.5" y2="1857"/>
<line x1="792.2" y1="1845" x2="792.2" y2="1857"/>
<line x1="878.5" y1="1845" x2="878.5" y2="1857"/>
<line x1="964.8" y1="1845" x2="964.8" y2="1857"/>
<line x1="1051" y1="1845" x2="1051" y2="1857"/>
<line x1="1137.3" y1="1845" x2="1137.3" y2="1857"/>
<line x1="1223.6" y1="1845" x2="1223.6" y2="1857"/>
<line x1="774.8" y1="1432" x2="774.8" y2="1776.6"/>
<line x1="761" y1="1432" x2="775.8" y2="1432"/>
<line x1="761" y1="1489.4" x2="775.8" y2="1489.4"/>
<line x1="761" y1="1546.9" x2="775.8" y2="1546.9"/>
<line x1="761" y1="1604.3" x2="775.8" y2="1604.3"/>
<line x1="761" y1="1661.7" x2="775.8" y2="1661.7"/>
<line x1="761" y1="1719.2" x2="775.8" y2="1719.2"/>
<line x1="761" y1="1776.6" x2="775.8" y2="1776.6"/>
</g>
<line x1="141.9" y1="517.4" x2="192" y2="517.4" stroke="#111" stroke-width="2.7"/>
<line x1="141.9" y1="544.4" x2="192" y2="544.4" stroke="#d55e00" stroke-width="2.7"/>
<line x1="141.9" y1="570.5" x2="192" y2="570.5" stroke="#009e73" stroke-width="2.7"/>
<line x1="141.9" y1="597.4" x2="192" y2="597.4" stroke="#0072b2" stroke-width="2.7"/>
<line x1="141.9" y1="622.2" x2="192" y2="622.2" stroke="#cc94c6" stroke-width="6.4"/>
<line x1="141.9" y1="673.6" x2="192" y2="673.6" stroke="#0000ff" stroke-width="2.7" stroke-dasharray="11.3 6"/>
<line x1="141.9" y1="700" x2="192" y2="700" stroke="#0000ff" stroke-width="2.7"/>
<line x1="141.9" y1="727.4" x2="192" y2="727.4" stroke="#009e73" stroke-width="2.7" stroke-dasharray="11 6 3 6"/>
<line x1="141.9" y1="755.5" x2="192" y2="755.5" stroke="#e69f00" stroke-width="2.7"/>
<line x1="141.9" y1="780.6" x2="192" y2="780.6" stroke="#56b4e9" stroke-width="6.7"/>
<line x1="1239.8" y1="1545.3" x2="1289.2" y2="1545.3" stroke="#009e73" stroke-width="2.5"/>
<line x1="1239.8" y1="1573" x2="1289.2" y2="1573" stroke="#d55e00" stroke-width="2.5"/>
<line x1="1239.8" y1="1601.4" x2="1289.2" y2="1601.4" stroke="#111" stroke-width="2.5" stroke-dasharray="6 5"/>
<line x1="1239.8" y1="1627.7" x2="1289.2" y2="1627.7" stroke="#231815" stroke-width="2.5"/>
<g>
<text x="721.46" y="23.3" font-size="29.09" textLength="140.46" lengthAdjust="spacing">Time (ka)</text>
<text x="122.93" y="61" font-size="31.57" textLength="5.95" lengthAdjust="spacing">0</text>
<text x="435.46" y="61" font-size="30.73" textLength="53.66" lengthAdjust="spacing">100</text>
<text x="770.26" y="61" font-size="30.73" textLength="55.66" lengthAdjust="spacing">200</text>
<text x="1106.21" y="61.4" font-size="31.71" textLength="56.54" lengthAdjust="spacing">300</text>
<text x="1442.45" y="62.4" font-size="30.79" textLength="55.48" lengthAdjust="spacing">400</text>
<text x="50.66" y="106" font-size="30.73" textLength="54.86" lengthAdjust="spacing">100</text>
<text x="68.46" y="209.2" font-size="30.52" textLength="37.06" lengthAdjust="spacing">75</text>
<text x="68.03" y="312.5" font-size="32.89" textLength="37.71" lengthAdjust="spacing">50</text>
<text x="66.91" y="416.1" font-size="29.92" textLength="37.78" lengthAdjust="spacing">25</text>
<text x="86.47" y="518.6" font-size="32.02" textLength="22.25" lengthAdjust="spacing">0</text>
<text x="55.71" y="621.1" font-size="29.92" textLength="48.98" lengthAdjust="spacing">-25</text>
<text x="49.48" y="910.1" font-size="30.12" textLength="55.44" lengthAdjust="spacing">500</text>
<text x="50.48" y="1131.1" font-size="30.12" textLength="54.44" lengthAdjust="spacing">450</text>
<text x="50.46" y="1355" font-size="30.73" textLength="54.46" lengthAdjust="spacing">400</text>
<text x="91.69" y="1437.1" font-size="30.51" textLength="9.01" lengthAdjust="spacing">5</text>
<text x="91.68" y="1557.7" font-size="31.91" textLength="-3.98" lengthAdjust="spacing">0</text>
<text x="79.09" y="1677.3" font-size="30.72" textLength="29.61" lengthAdjust="spacing">-5</text>
<text x="61.12" y="1797.5" font-size="30.67" textLength="47.57" lengthAdjust="spacing">-10</text>
<text x="733.48" y="1445" font-size="33.06" textLength="31.94" lengthAdjust="spacing">4</text>
<text x="731.98" y="1564.2" font-size="32.38" textLength="46.44" lengthAdjust="spacing">0</text>
<text x="722.08" y="1671.8" font-size="30.45" textLength="28.84" lengthAdjust="spacing">-4</text>
<text x="722.04" y="1785.2" font-size="31.62" textLength="29.89" lengthAdjust="spacing">-8</text>
<text x="132.13" y="1892.8" font-size="31.62" textLength="20.36" lengthAdjust="spacing">0</text>
<text x="192.53" y="1892.8" font-size="31.62" textLength="64.56" lengthAdjust="spacing">0.05</text>
<text x="290.53" y="1892.8" font-size="31.62" textLength="45.96" lengthAdjust="spacing">0.1</text>
<text x="366.33" y="1891.8" font-size="31.62" textLength="65.76" lengthAdjust="spacing">0.15</text>
<text x="460.73" y="1892.8" font-size="31.62" textLength="47.36" lengthAdjust="spacing">0.2</text>
<text x="538.33" y="1892.8" font-size="31.62" textLength="64.96" lengthAdjust="spacing">0.25</text>
<text x="181.88" y="1931.8" font-size="28.7" textLength="344.22" lengthAdjust="spacing">Frequency (cycles/kyr)</text>
<text x="784.53" y="1892.8" font-size="31.62" textLength="30.76" lengthAdjust="spacing">0</text>
<text x="845.33" y="1892.8" font-size="31.62" textLength="63.96" lengthAdjust="spacing">0.05</text>
<text x="944.13" y="1892.8" font-size="31.62" textLength="44.96" lengthAdjust="spacing">0.1</text>
<text x="1019.53" y="1891.8" font-size="31.62" textLength="64.36" lengthAdjust="spacing">0.15</text>
<text x="1113.33" y="1892.8" font-size="31.62" textLength="46.96" lengthAdjust="spacing">0.2</text>
<text x="1190.53" y="1889.4" font-size="29.68" textLength="64.55" lengthAdjust="spacing">0.25</text>
<text x="834.68" y="1931.8" font-size="28.7" textLength="344.22" lengthAdjust="spacing">Frequency (cycles/kyr)</text>
<text x="149.48" y="111.7" font-size="31.91" font-weight="bold" textLength="19.62" lengthAdjust="spacing">A</text>
<text x="149.34" y="895.7" font-size="29.37" font-weight="bold" textLength="32.54" lengthAdjust="spacing">B</text>
<text x="875.6" y="700" font-size="29.4" font-weight="bold" textLength="46.23" lengthAdjust="spacing">C</text>
<text x="148.93" y="1422" font-size="31.57" font-weight="bold" textLength="82.95" lengthAdjust="spacing">D</text>
<text x="685.58" y="1421.7" font-size="28.94" font-weight="bold" textLength="60.07" lengthAdjust="spacing">E</text>
<text x="205.05" y="525.5" font-size="23.04" textLength="74.44" lengthAdjust="spacing">SE-SS</text>
<text x="206.28" y="552.2" font-size="23.9" textLength="79.39" lengthAdjust="spacing">SE-WS</text>
<text x="206.34" y="577.6" font-size="22.12" textLength="71.9" lengthAdjust="spacing">FE-SS</text>
<text x="205.25" y="604.2" font-size="22.52" textLength="79.24" lengthAdjust="spacing">FE-WS</text>
<text x="206.21" y="628.4" font-size="21.47" textLength="227.7" lengthAdjust="spacing">Equatorial insolation</text>
<text x="205.05" y="680.7" font-size="21.63" textLength="470.84" lengthAdjust="spacing">Bi-hemisphere maximum insolation at ±20°</text>
<text x="205.05" y="706.8" font-size="23.82" textLength="459.04" lengthAdjust="spacing">Bi-hemisphere maximum insolation at ±8°</text>
<text x="205.05" y="733.5" font-size="23.73" textLength="443.64" lengthAdjust="spacing">Bi-hemisphere maximum insolation at 0°</text>
<text x="205.05" y="760" font-size="23.25" textLength="340.24" lengthAdjust="spacing">Equatorial maximum insolation</text>
<text x="206.05" y="789.6" font-size="23.38" textLength="441.64" lengthAdjust="spacing">Combined equatorial and bi-hemisphere</text>
<text x="205.31" y="816.3" font-size="22.87" textLength="220.83" lengthAdjust="spacing">maximum insolation</text>
<text x="1084.54" y="153" font-size="23.82" textLength="56.01" lengthAdjust="spacing">5 kyr</text>
<text x="693.88" y="815.9" font-size="22.26" textLength="70.4" lengthAdjust="spacing">10 kyr</text>
<text x="633.23" y="1052.2" font-size="22.07" textLength="56.07" lengthAdjust="spacing">5 kyr</text>
<text x="620.54" y="1211.9" font-size="21.31" textLength="70.7" lengthAdjust="spacing">10 kyr</text>
<text x="960.95" y="637" font-size="22.45" textLength="37.88" lengthAdjust="spacing">1.5</text>
<text x="961.95" y="690" font-size="22.45" textLength="36.88" lengthAdjust="spacing">0.5</text>
<text x="951.95" y="743" font-size="22.45" textLength="46.88" lengthAdjust="spacing">-0.5</text>
<text x="1031.58" y="650.2" font-size="22.97" textLength="95.34" lengthAdjust="spacing">95.2 kyr</text>
<text x="1115.19" y="612" font-size="24.8" textLength="80.53" lengthAdjust="spacing">4.4 kyr</text>
<text x="1194.46" y="594.3" font-size="22.77" textLength="78.62" lengthAdjust="spacing">5.7 kyr</text>
<text x="1303.67" y="616.3" font-size="22.29" textLength="78.01" lengthAdjust="spacing">3.6 kyr</text>
<text x="1403.19" y="649.1" font-size="23.76" textLength="36.93" lengthAdjust="spacing">0.8</text>
<text x="1403.19" y="703.8" font-size="25.11" textLength="16.33" lengthAdjust="spacing">0</text>
<text x="1402.16" y="758" font-size="25.06" textLength="47.58" lengthAdjust="spacing">-0.8</text>
<text x="1013.58" y="806.8" font-size="25.69" textLength="75.94" lengthAdjust="spacing">83440</text>
<text x="1148.18" y="806.8" font-size="25.69" textLength="74.74" lengthAdjust="spacing">83480</text>
<text x="1281.58" y="806.8" font-size="25.69" textLength="75.94" lengthAdjust="spacing">83520</text>
<text x="1153.19" y="832.1" font-size="22.91" textLength="92.73" lengthAdjust="spacing">Time/ka</text>
<text x="221.76" y="1417.4" font-size="24.61" font-weight="bold" textLength="268.39" lengthAdjust="spacing">Equatorial insolation</text>
<text x="147.58" y="1452.5" font-size="24.52" textLength="84.76" lengthAdjust="spacing">405 kyr</text>
<text x="158.99" y="1476.8" font-size="24.51" textLength="85.73" lengthAdjust="spacing">100 kyr</text>
<text x="419.94" y="1507" font-size="23.82" textLength="79.41" lengthAdjust="spacing">5.5 kyr</text>
<text x="273.76" y="1555.3" font-size="24.16" textLength="68.78" lengthAdjust="spacing">10 kyr</text>
<text x="860.61" y="1407.8" font-size="24.63" font-weight="bold" textLength="512.91" lengthAdjust="spacing">Combined equatorial and bi-hemisphere</text>
<text x="860.57" y="1435" font-size="22.68" font-weight="bold" textLength="367.37" lengthAdjust="spacing">maximum insolation at 8°N/S</text>
<text x="801.36" y="1453.8" font-size="23.54" textLength="84.59" lengthAdjust="spacing">405 kyr</text>
<text x="814.94" y="1482.6" font-size="24.68" textLength="84.21" lengthAdjust="spacing">100 kyr</text>
<text x="929.68" y="1593.8" font-size="22.29" textLength="70.79" lengthAdjust="spacing">10 kyr</text>
<text x="1059.69" y="1538.7" font-size="26.12" textLength="79.49" lengthAdjust="spacing">5.5 kyr</text>
<text x="1295.81" y="1553.7" font-size="24.39" textLength="126.11" lengthAdjust="spacing">ML96 99%</text>
<text x="1295.81" y="1581.7" font-size="24.39" textLength="126.11" lengthAdjust="spacing">ML96 95%</text>
<text x="1295.83" y="1609.8" font-size="23.46" textLength="126.08" lengthAdjust="spacing">ML96 90%</text>
<text x="1296.83" y="1636.4" font-size="22.98" textLength="93.48" lengthAdjust="spacing">ML96 fit</text>
<text x="27.9" y="561.12" font-size="29.27" textLength="410.84" lengthAdjust="spacing" transform="rotate(-90 27.9 561.12)">Insolation difference (w.m<tspan font-size="14.63" dy="-14.63">-2</tspan><tspan dy="14.63">)</tspan></text>
<text x="26.9" y="1247.13" font-size="29.81" textLength="253.85" lengthAdjust="spacing" transform="rotate(-90 26.9 1247.13)">Insolation (w.m<tspan font-size="14.91" dy="-14.91">-2</tspan><tspan dy="14.91">)</tspan></text>
<text x="45.1" y="1727.94" font-size="30.87" textLength="152.07" lengthAdjust="spacing" transform="rotate(-90 45.1 1727.94)">Log power</text>
<text x="945.5" y="745.7" font-size="28.27" textLength="127.6" lengthAdjust="spacing" transform="rotate(-90 945.5 745.7)">log (Ca/Ti)</text>
<text x="1443.3" y="727.51" font-size="25.45" textLength="62.29" lengthAdjust="spacing" transform="rotate(-90 1443.3 727.51)">Filter</text>
</g>
</svg></body></html>
